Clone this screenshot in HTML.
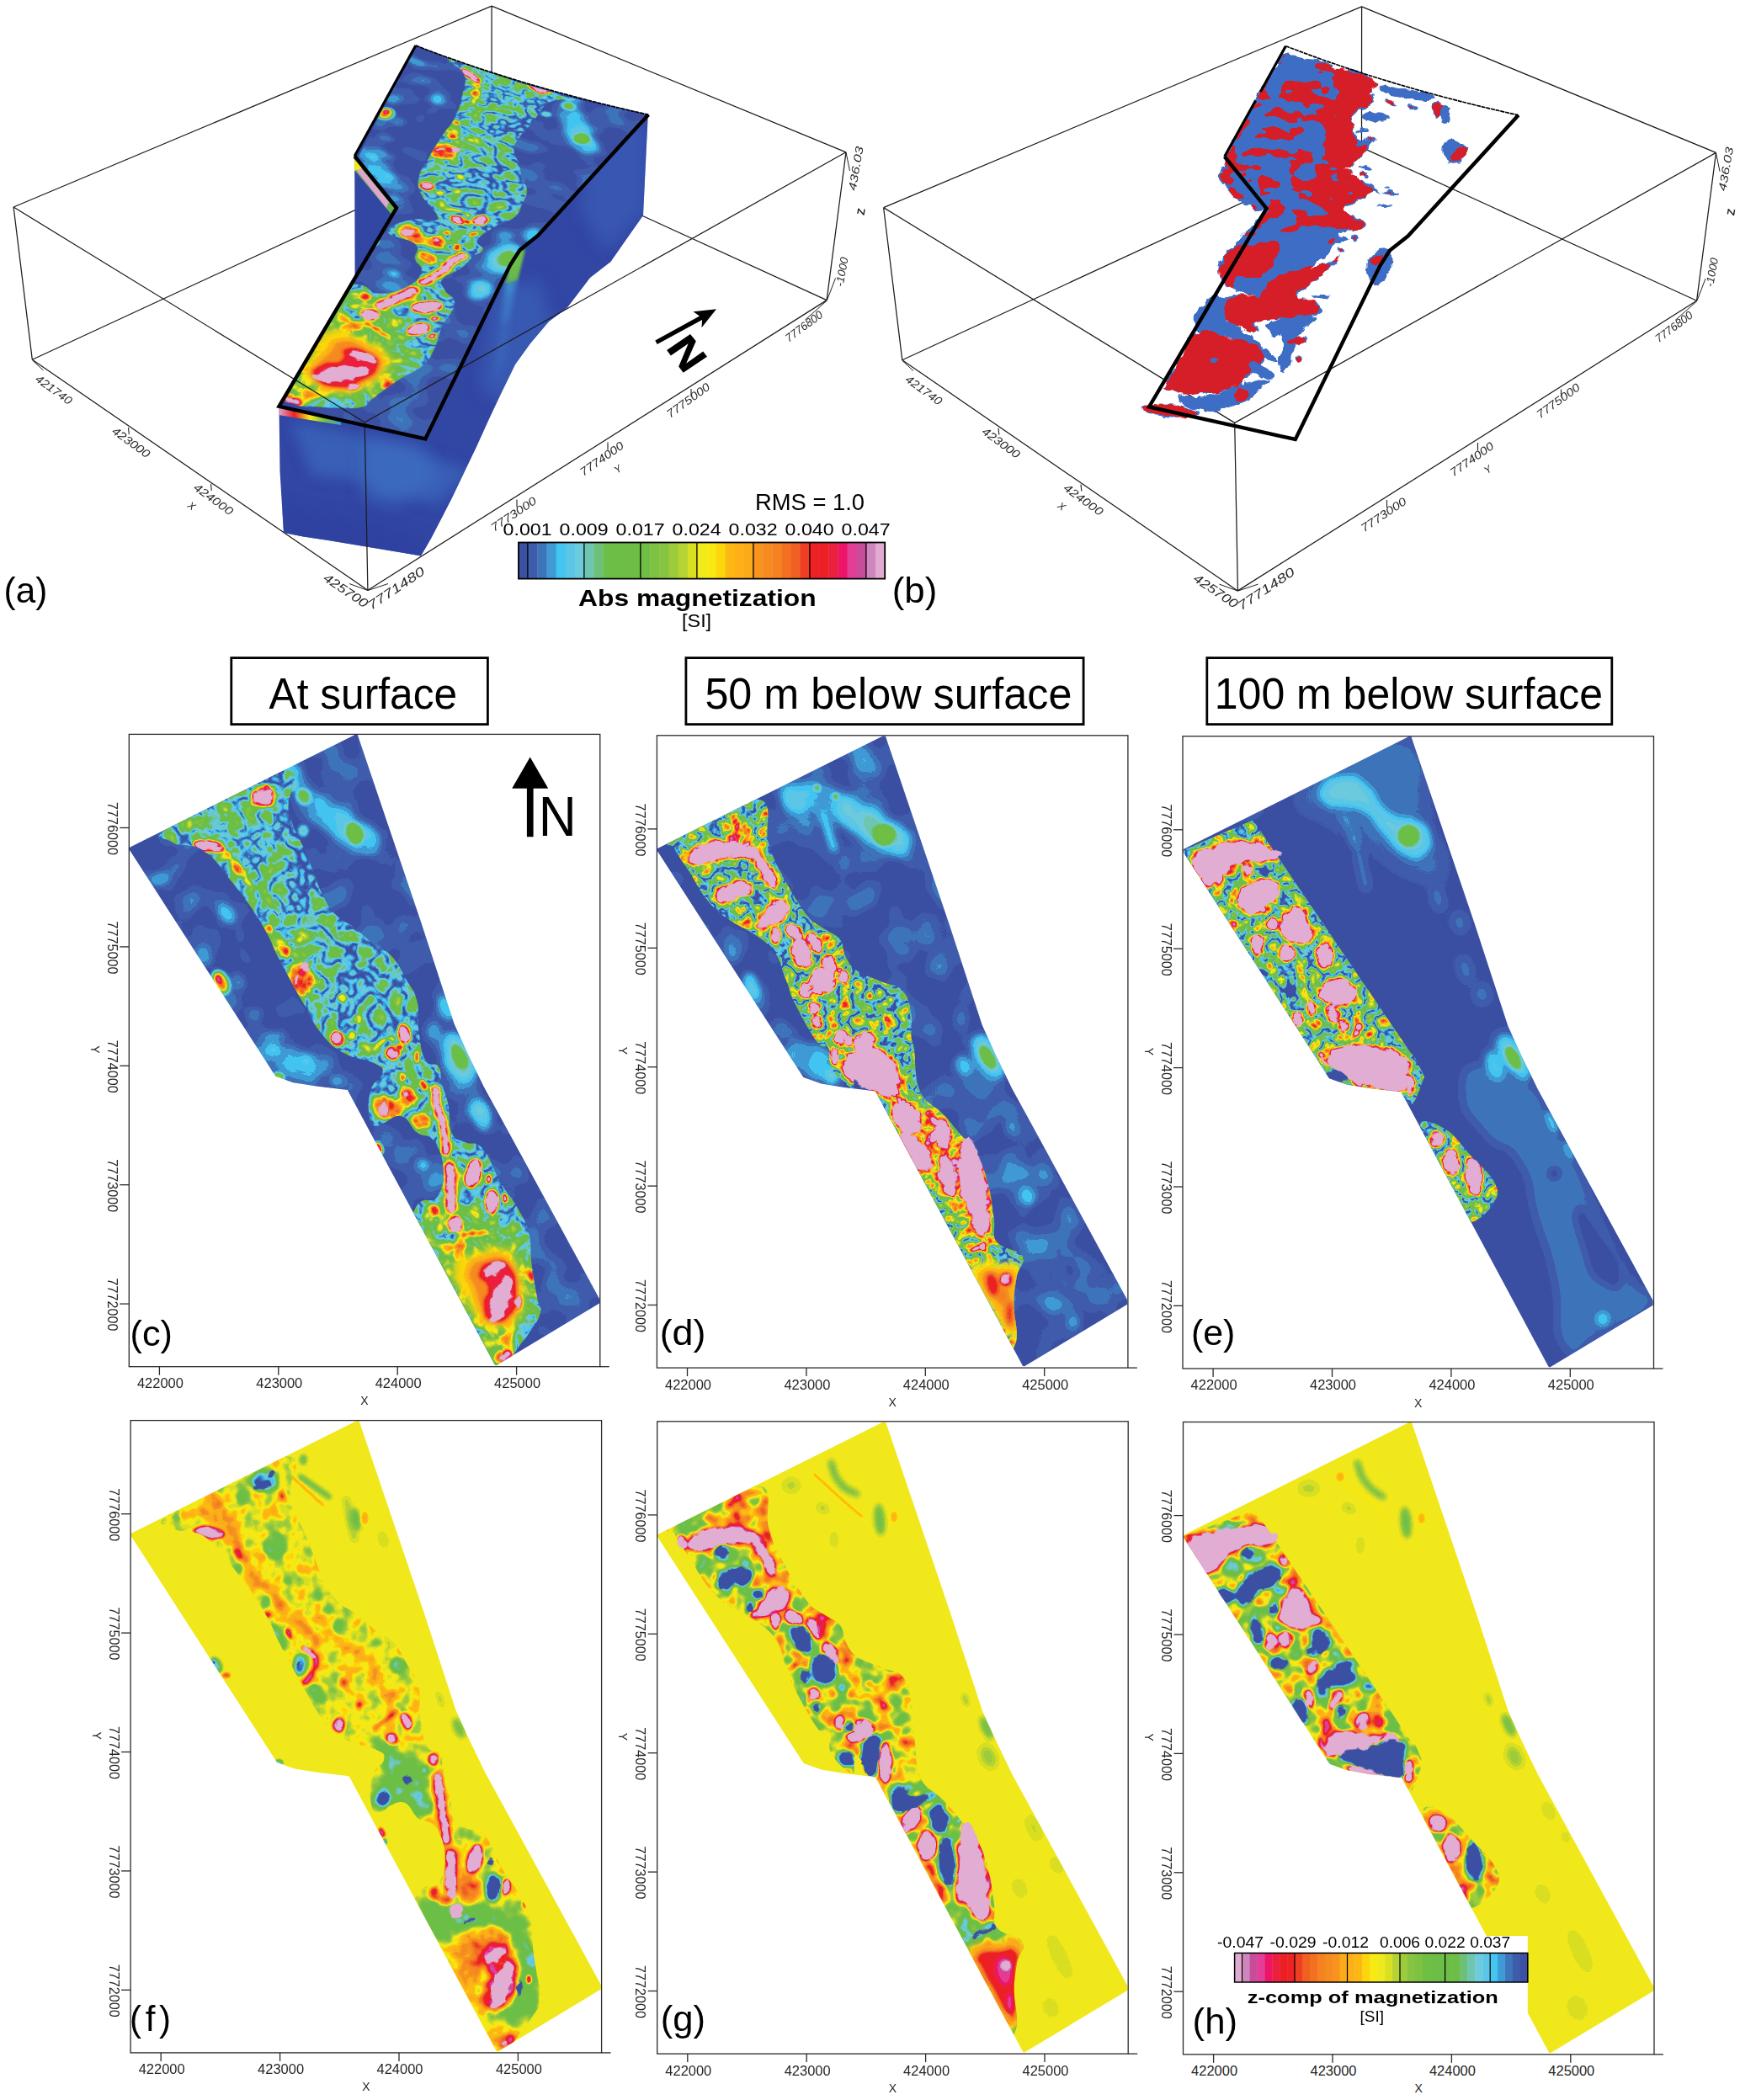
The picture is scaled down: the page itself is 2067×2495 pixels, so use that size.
<!DOCTYPE html><html><head><meta charset="utf-8"><title>fig</title>
<style>html,body{margin:0;padding:0;background:#fff}body{width:2067px;height:2495px;position:relative;overflow:hidden;font-family:"Liberation Sans",sans-serif}
svg{position:absolute;left:0;top:0;overflow:hidden}text{font-family:"Liberation Sans",sans-serif}</style></head><body>
<svg width="2067" height="2495" viewBox="0 0 2067 2495">
<defs>
<filter id="cm" filterUnits="userSpaceOnUse" x="-5" y="-5" width="570" height="762" color-interpolation-filters="sRGB"><feComponentTransfer><feFuncR type="discrete" tableValues="0.2314 0.2471 0.2431 0.2471 0.2588 0.3608 0.4235 0.4314 0.4235 0.4235 0.4235 0.4235 0.4235 0.4392 0.4902 0.5255 0.6118 0.7098 0.8510 0.9412 0.9686 0.9882 0.9922 0.9922 0.9843 0.9686 0.9647 0.9608 0.9529 0.9451 0.9333 0.9294 0.9255 0.9216 0.9255 0.8941 0.7882 0.8118 0.8824"/><feFuncG type="discrete" tableValues="0.3137 0.3569 0.4549 0.6039 0.7725 0.7765 0.7961 0.7765 0.7529 0.7451 0.7451 0.7451 0.7451 0.7490 0.7608 0.7686 0.7961 0.8275 0.8784 0.9137 0.9176 0.8392 0.7216 0.6902 0.6706 0.5765 0.5451 0.5098 0.4392 0.3725 0.2431 0.1333 0.1216 0.1216 0.0824 0.2392 0.2941 0.5255 0.6667"/><feFuncB type="discrete" tableValues="0.6392 0.6706 0.7294 0.8392 0.9373 0.9020 0.8667 0.6902 0.4863 0.2784 0.2784 0.2784 0.2784 0.2706 0.2627 0.2549 0.2353 0.2039 0.1294 0.1098 0.0706 0.0392 0.0745 0.0902 0.0980 0.1176 0.1216 0.1255 0.1294 0.1373 0.1373 0.1412 0.1412 0.2431 0.4118 0.5882 0.6078 0.7412 0.8157"/></feComponentTransfer></filter>
<filter id="cmN1" filterUnits="userSpaceOnUse" x="-5" y="-5" width="570" height="762" color-interpolation-filters="sRGB"><feOffset in="SourceGraphic" dx="0" dy="0" result="F"/><feTurbulence type="turbulence" baseFrequency="0.052" numOctaves="2" seed="3" result="T"/><feColorMatrix in="T" type="matrix" values="1 0 0 0 0 1 0 0 0 0 1 0 0 0 0 0 0 0 0 1" result="N"/><feComposite in="F" in2="N" operator="arithmetic" k1="0" k2="1" k3="0.6" k4="-0.18"/><feComponentTransfer><feFuncR type="discrete" tableValues="0.2314 0.2471 0.2431 0.2471 0.2588 0.3608 0.4235 0.4314 0.4235 0.4235 0.4235 0.4235 0.4235 0.4392 0.4902 0.5255 0.6118 0.7098 0.8510 0.9412 0.9686 0.9882 0.9922 0.9922 0.9843 0.9686 0.9647 0.9608 0.9529 0.9451 0.9333 0.9294 0.9255 0.9216 0.9255 0.8941 0.7882 0.8118 0.8824"/><feFuncG type="discrete" tableValues="0.3137 0.3569 0.4549 0.6039 0.7725 0.7765 0.7961 0.7765 0.7529 0.7451 0.7451 0.7451 0.7451 0.7490 0.7608 0.7686 0.7961 0.8275 0.8784 0.9137 0.9176 0.8392 0.7216 0.6902 0.6706 0.5765 0.5451 0.5098 0.4392 0.3725 0.2431 0.1333 0.1216 0.1216 0.0824 0.2392 0.2941 0.5255 0.6667"/><feFuncB type="discrete" tableValues="0.6392 0.6706 0.7294 0.8392 0.9373 0.9020 0.8667 0.6902 0.4863 0.2784 0.2784 0.2784 0.2784 0.2706 0.2627 0.2549 0.2353 0.2039 0.1294 0.1098 0.0706 0.0392 0.0745 0.0902 0.0980 0.1176 0.1216 0.1255 0.1294 0.1373 0.1373 0.1412 0.1412 0.2431 0.4118 0.5882 0.6078 0.7412 0.8157"/></feComponentTransfer></filter>
<filter id="cmN2" filterUnits="userSpaceOnUse" x="-5" y="-5" width="570" height="762" color-interpolation-filters="sRGB"><feOffset in="SourceGraphic" dx="0" dy="0" result="F"/><feTurbulence type="turbulence" baseFrequency="0.06" numOctaves="2" seed="7" result="T"/><feColorMatrix in="T" type="matrix" values="1 0 0 0 0 1 0 0 0 0 1 0 0 0 0 0 0 0 0 1" result="N"/><feComposite in="F" in2="N" operator="arithmetic" k1="0" k2="1" k3="1.25" k4="-0.3375"/><feComponentTransfer><feFuncR type="discrete" tableValues="0.2314 0.2471 0.2431 0.2471 0.2588 0.3608 0.4235 0.4314 0.4235 0.4235 0.4235 0.4235 0.4235 0.4392 0.4902 0.5255 0.6118 0.7098 0.8510 0.9412 0.9686 0.9882 0.9922 0.9922 0.9843 0.9686 0.9647 0.9608 0.9529 0.9451 0.9333 0.9294 0.9255 0.9216 0.9255 0.8941 0.7882 0.8118 0.8824"/><feFuncG type="discrete" tableValues="0.3137 0.3569 0.4549 0.6039 0.7725 0.7765 0.7961 0.7765 0.7529 0.7451 0.7451 0.7451 0.7451 0.7490 0.7608 0.7686 0.7961 0.8275 0.8784 0.9137 0.9176 0.8392 0.7216 0.6902 0.6706 0.5765 0.5451 0.5098 0.4392 0.3725 0.2431 0.1333 0.1216 0.1216 0.0824 0.2392 0.2941 0.5255 0.6667"/><feFuncB type="discrete" tableValues="0.6392 0.6706 0.7294 0.8392 0.9373 0.9020 0.8667 0.6902 0.4863 0.2784 0.2784 0.2784 0.2784 0.2706 0.2627 0.2549 0.2353 0.2039 0.1294 0.1098 0.0706 0.0392 0.0745 0.0902 0.0980 0.1176 0.1216 0.1255 0.1294 0.1373 0.1373 0.1412 0.1412 0.2431 0.4118 0.5882 0.6078 0.7412 0.8157"/></feComponentTransfer></filter>
<filter id="cmN3" filterUnits="userSpaceOnUse" x="-5" y="-5" width="570" height="762" color-interpolation-filters="sRGB"><feOffset in="SourceGraphic" dx="0" dy="0" result="F"/><feTurbulence type="fractalNoise" baseFrequency="0.05" numOctaves="2" seed="11" result="T"/><feColorMatrix in="T" type="matrix" values="1 0 0 0 0 1 0 0 0 0 1 0 0 0 0 0 0 0 0 1" result="N"/><feComposite in="F" in2="N" operator="arithmetic" k1="0" k2="1" k3="0.9" k4="-0.45"/><feComponentTransfer><feFuncR type="discrete" tableValues="0.2314 0.2471 0.2431 0.2471 0.2588 0.3608 0.4235 0.4314 0.4235 0.4235 0.4235 0.4235 0.4235 0.4392 0.4902 0.5255 0.6118 0.7098 0.8510 0.9412 0.9686 0.9882 0.9922 0.9922 0.9843 0.9686 0.9647 0.9608 0.9529 0.9451 0.9333 0.9294 0.9255 0.9216 0.9255 0.8941 0.7882 0.8118 0.8824"/><feFuncG type="discrete" tableValues="0.3137 0.3569 0.4549 0.6039 0.7725 0.7765 0.7961 0.7765 0.7529 0.7451 0.7451 0.7451 0.7451 0.7490 0.7608 0.7686 0.7961 0.8275 0.8784 0.9137 0.9176 0.8392 0.7216 0.6902 0.6706 0.5765 0.5451 0.5098 0.4392 0.3725 0.2431 0.1333 0.1216 0.1216 0.0824 0.2392 0.2941 0.5255 0.6667"/><feFuncB type="discrete" tableValues="0.6392 0.6706 0.7294 0.8392 0.9373 0.9020 0.8667 0.6902 0.4863 0.2784 0.2784 0.2784 0.2784 0.2706 0.2627 0.2549 0.2353 0.2039 0.1294 0.1098 0.0706 0.0392 0.0745 0.0902 0.0980 0.1176 0.1216 0.1255 0.1294 0.1373 0.1373 0.1412 0.1412 0.2431 0.4118 0.5882 0.6078 0.7412 0.8157"/></feComponentTransfer></filter>
<filter id="cmN4" filterUnits="userSpaceOnUse" x="-5" y="-5" width="570" height="762" color-interpolation-filters="sRGB"><feOffset in="SourceGraphic" dx="0" dy="0" result="F"/><feTurbulence type="fractalNoise" baseFrequency="0.06" numOctaves="2" seed="13" result="T"/><feColorMatrix in="T" type="matrix" values="1 0 0 0 0 1 0 0 0 0 1 0 0 0 0 0 0 0 0 1" result="N"/><feComposite in="F" in2="N" operator="arithmetic" k1="0" k2="1" k3="0.4" k4="-0.2"/><feComponentTransfer><feFuncR type="discrete" tableValues="0.2314 0.2471 0.2431 0.2471 0.2588 0.3608 0.4235 0.4314 0.4235 0.4235 0.4235 0.4235 0.4235 0.4392 0.4902 0.5255 0.6118 0.7098 0.8510 0.9412 0.9686 0.9882 0.9922 0.9922 0.9843 0.9686 0.9647 0.9608 0.9529 0.9451 0.9333 0.9294 0.9255 0.9216 0.9255 0.8941 0.7882 0.8118 0.8824"/><feFuncG type="discrete" tableValues="0.3137 0.3569 0.4549 0.6039 0.7725 0.7765 0.7961 0.7765 0.7529 0.7451 0.7451 0.7451 0.7451 0.7490 0.7608 0.7686 0.7961 0.8275 0.8784 0.9137 0.9176 0.8392 0.7216 0.6902 0.6706 0.5765 0.5451 0.5098 0.4392 0.3725 0.2431 0.1333 0.1216 0.1216 0.0824 0.2392 0.2941 0.5255 0.6667"/><feFuncB type="discrete" tableValues="0.6392 0.6706 0.7294 0.8392 0.9373 0.9020 0.8667 0.6902 0.4863 0.2784 0.2784 0.2784 0.2784 0.2706 0.2627 0.2549 0.2353 0.2039 0.1294 0.1098 0.0706 0.0392 0.0745 0.0902 0.0980 0.1176 0.1216 0.1255 0.1294 0.1373 0.1373 0.1412 0.1412 0.2431 0.4118 0.5882 0.6078 0.7412 0.8157"/></feComponentTransfer></filter>
<filter id="cmS" filterUnits="userSpaceOnUse" x="-5" y="-5" width="570" height="762" color-interpolation-filters="sRGB"><feOffset in="SourceGraphic" dx="0" dy="0" result="F"/><feTurbulence type="fractalNoise" baseFrequency="0.022" numOctaves="2" seed="5" result="T"/><feColorMatrix in="T" type="matrix" values="1 0 0 0 0 1 0 0 0 0 1 0 0 0 0 0 0 0 0 1" result="N"/><feComposite in="F" in2="N" operator="arithmetic" k1="0" k2="1" k3="0.17" k4="-0.085"/><feComponentTransfer><feFuncR type="discrete" tableValues="0.2314 0.2471 0.2431 0.2471 0.2588 0.3608 0.4235 0.4314 0.4235 0.4235 0.4235 0.4235 0.4235 0.4392 0.4902 0.5255 0.6118 0.7098 0.8510 0.9412 0.9686 0.9882 0.9922 0.9922 0.9843 0.9686 0.9647 0.9608 0.9529 0.9451 0.9333 0.9294 0.9255 0.9216 0.9255 0.8941 0.7882 0.8118 0.8824"/><feFuncG type="discrete" tableValues="0.3137 0.3569 0.4549 0.6039 0.7725 0.7765 0.7961 0.7765 0.7529 0.7451 0.7451 0.7451 0.7451 0.7490 0.7608 0.7686 0.7961 0.8275 0.8784 0.9137 0.9176 0.8392 0.7216 0.6902 0.6706 0.5765 0.5451 0.5098 0.4392 0.3725 0.2431 0.1333 0.1216 0.1216 0.0824 0.2392 0.2941 0.5255 0.6667"/><feFuncB type="discrete" tableValues="0.6392 0.6706 0.7294 0.8392 0.9373 0.9020 0.8667 0.6902 0.4863 0.2784 0.2784 0.2784 0.2784 0.2706 0.2627 0.2549 0.2353 0.2039 0.1294 0.1098 0.0706 0.0392 0.0745 0.0902 0.0980 0.1176 0.1216 0.1255 0.1294 0.1373 0.1373 0.1412 0.1412 0.2431 0.4118 0.5882 0.6078 0.7412 0.8157"/></feComponentTransfer></filter>
<filter id="b1" filterUnits="userSpaceOnUse" x="-60" y="-60" width="690" height="880" color-interpolation-filters="sRGB"><feGaussianBlur stdDeviation="1"/></filter>
<filter id="B1" x="-50%" y="-50%" width="200%" height="200%" color-interpolation-filters="sRGB"><feGaussianBlur stdDeviation="1"/></filter>
<filter id="b1_5" filterUnits="userSpaceOnUse" x="-60" y="-60" width="690" height="880" color-interpolation-filters="sRGB"><feGaussianBlur stdDeviation="1.5"/></filter>
<filter id="B1_5" x="-50%" y="-50%" width="200%" height="200%" color-interpolation-filters="sRGB"><feGaussianBlur stdDeviation="1.5"/></filter>
<filter id="b2" filterUnits="userSpaceOnUse" x="-60" y="-60" width="690" height="880" color-interpolation-filters="sRGB"><feGaussianBlur stdDeviation="2"/></filter>
<filter id="B2" x="-50%" y="-50%" width="200%" height="200%" color-interpolation-filters="sRGB"><feGaussianBlur stdDeviation="2"/></filter>
<filter id="b2_5" filterUnits="userSpaceOnUse" x="-60" y="-60" width="690" height="880" color-interpolation-filters="sRGB"><feGaussianBlur stdDeviation="2.5"/></filter>
<filter id="B2_5" x="-50%" y="-50%" width="200%" height="200%" color-interpolation-filters="sRGB"><feGaussianBlur stdDeviation="2.5"/></filter>
<filter id="b3" filterUnits="userSpaceOnUse" x="-60" y="-60" width="690" height="880" color-interpolation-filters="sRGB"><feGaussianBlur stdDeviation="3"/></filter>
<filter id="B3" x="-50%" y="-50%" width="200%" height="200%" color-interpolation-filters="sRGB"><feGaussianBlur stdDeviation="3"/></filter>
<filter id="b3_5" filterUnits="userSpaceOnUse" x="-60" y="-60" width="690" height="880" color-interpolation-filters="sRGB"><feGaussianBlur stdDeviation="3.5"/></filter>
<filter id="B3_5" x="-50%" y="-50%" width="200%" height="200%" color-interpolation-filters="sRGB"><feGaussianBlur stdDeviation="3.5"/></filter>
<filter id="b4" filterUnits="userSpaceOnUse" x="-60" y="-60" width="690" height="880" color-interpolation-filters="sRGB"><feGaussianBlur stdDeviation="4"/></filter>
<filter id="B4" x="-50%" y="-50%" width="200%" height="200%" color-interpolation-filters="sRGB"><feGaussianBlur stdDeviation="4"/></filter>
<filter id="b5" filterUnits="userSpaceOnUse" x="-60" y="-60" width="690" height="880" color-interpolation-filters="sRGB"><feGaussianBlur stdDeviation="5"/></filter>
<filter id="B5" x="-50%" y="-50%" width="200%" height="200%" color-interpolation-filters="sRGB"><feGaussianBlur stdDeviation="5"/></filter>
<filter id="b6" filterUnits="userSpaceOnUse" x="-60" y="-60" width="690" height="880" color-interpolation-filters="sRGB"><feGaussianBlur stdDeviation="6"/></filter>
<filter id="B6" x="-50%" y="-50%" width="200%" height="200%" color-interpolation-filters="sRGB"><feGaussianBlur stdDeviation="6"/></filter>
<filter id="b7" filterUnits="userSpaceOnUse" x="-60" y="-60" width="690" height="880" color-interpolation-filters="sRGB"><feGaussianBlur stdDeviation="7"/></filter>
<filter id="B7" x="-50%" y="-50%" width="200%" height="200%" color-interpolation-filters="sRGB"><feGaussianBlur stdDeviation="7"/></filter>
<filter id="b8" filterUnits="userSpaceOnUse" x="-60" y="-60" width="690" height="880" color-interpolation-filters="sRGB"><feGaussianBlur stdDeviation="8"/></filter>
<filter id="B8" x="-50%" y="-50%" width="200%" height="200%" color-interpolation-filters="sRGB"><feGaussianBlur stdDeviation="8"/></filter>
<filter id="b9" filterUnits="userSpaceOnUse" x="-60" y="-60" width="690" height="880" color-interpolation-filters="sRGB"><feGaussianBlur stdDeviation="9"/></filter>
<filter id="B9" x="-50%" y="-50%" width="200%" height="200%" color-interpolation-filters="sRGB"><feGaussianBlur stdDeviation="9"/></filter>
<filter id="b10" filterUnits="userSpaceOnUse" x="-60" y="-60" width="690" height="880" color-interpolation-filters="sRGB"><feGaussianBlur stdDeviation="10"/></filter>
<filter id="B10" x="-50%" y="-50%" width="200%" height="200%" color-interpolation-filters="sRGB"><feGaussianBlur stdDeviation="10"/></filter>
<filter id="b12" filterUnits="userSpaceOnUse" x="-60" y="-60" width="690" height="880" color-interpolation-filters="sRGB"><feGaussianBlur stdDeviation="12"/></filter>
<filter id="B12" x="-50%" y="-50%" width="200%" height="200%" color-interpolation-filters="sRGB"><feGaussianBlur stdDeviation="12"/></filter>
<filter id="b16" filterUnits="userSpaceOnUse" x="-60" y="-60" width="690" height="880" color-interpolation-filters="sRGB"><feGaussianBlur stdDeviation="16"/></filter>
<filter id="B16" x="-50%" y="-50%" width="200%" height="200%" color-interpolation-filters="sRGB"><feGaussianBlur stdDeviation="16"/></filter>
<filter id="b20" filterUnits="userSpaceOnUse" x="-60" y="-60" width="690" height="880" color-interpolation-filters="sRGB"><feGaussianBlur stdDeviation="20"/></filter>
<filter id="B20" x="-50%" y="-50%" width="200%" height="200%" color-interpolation-filters="sRGB"><feGaussianBlur stdDeviation="20"/></filter>
<filter id="rough" filterUnits="userSpaceOnUse" x="-5" y="-5" width="570" height="762" color-interpolation-filters="sRGB"><feTurbulence type="fractalNoise" baseFrequency="0.09" numOctaves="2" seed="4" result="T"/><feDisplacementMap in="SourceGraphic" in2="T" scale="9" xChannelSelector="R" yChannelSelector="G"/></filter>
<clipPath id="cpPoly"><polygon points="268.3,0.6 271.5,0.6 347.6,225.4 386.4,344.3 401.7,377.8 421.5,418.9 447.4,466.2 558.7,670.5 558.7,676.0 436.2,749.8 434.5,749.0 259.5,422.6 222.2,418.2 195.0,413.8 174.0,406.3 0.3,137.0 0.3,134.5"/></clipPath>
<g id="mapc" clip-path="url(#cpPoly)">
<g filter="url(#cmS)"><rect x="-5" y="-5" width="570" height="762" fill="#050505"/>
<path d="M190.2 50.3 C196.9 59.3 192.4 59.3 210.5 77.4 C228.6 95.5 220.7 87.6 244.4 104.5 C268.1 121.5 269.3 120.3 281.7 128.2" fill="none" stroke="#292929" stroke-width="30" stroke-linecap="round" stroke-linejoin="round" filter="url(#b5)"/>
<path d="M190.2 50.3 C196.9 59.3 192.4 59.3 210.5 77.4 C228.6 95.5 220.7 87.6 244.4 104.5 C268.1 121.5 269.3 120.3 281.7 128.2" fill="none" stroke="#141414" stroke-width="48" stroke-linecap="round" stroke-linejoin="round" filter="url(#b10)" opacity="0.6"/>
<ellipse cx="207.1" cy="74.0" rx="8.0" ry="10.0" transform="rotate(-30 207.1 74.0)" fill="#4b4b4b" filter="url(#b2)"/>
<ellipse cx="268.1" cy="118.1" rx="9.0" ry="13.0" transform="rotate(-20 268.1 118.1)" fill="#4e4e4e" filter="url(#b2)"/>
<ellipse cx="207.1" cy="114.7" rx="6.0" ry="7.0" transform="rotate(0 207.1 114.7)" fill="#313131" filter="url(#b2)"/>
<ellipse cx="193.5" cy="60.4" rx="7.0" ry="7.0" transform="rotate(0 193.5 60.4)" fill="#383838" filter="url(#b2)"/>
<ellipse cx="37.6" cy="172.3" rx="12.0" ry="9.0" transform="rotate(-30 37.6 172.3)" fill="#1d1d1d" filter="url(#b5)"/>
<ellipse cx="115.6" cy="213.0" rx="9.0" ry="14.0" transform="rotate(-30 115.6 213.0)" fill="#212121" filter="url(#b5)"/>
<ellipse cx="88.4" cy="263.9" rx="10.0" ry="16.0" transform="rotate(-30 88.4 263.9)" fill="#141414" filter="url(#b5)"/>
<ellipse cx="149.5" cy="331.7" rx="12.0" ry="10.0" transform="rotate(-30 149.5 331.7)" fill="#1a1a1a" filter="url(#b5)"/>
<ellipse cx="176.6" cy="358.8" rx="14.0" ry="8.0" transform="rotate(-30 176.6 358.8)" fill="#1a1a1a" filter="url(#b5)"/>
<ellipse cx="64.7" cy="202.8" rx="18.0" ry="12.0" transform="rotate(-30 64.7 202.8)" fill="#141414" filter="url(#b5)"/>
<ellipse cx="129.1" cy="291.0" rx="10.0" ry="12.0" transform="rotate(-30 129.1 291.0)" fill="#171717" filter="url(#b5)"/>
<ellipse cx="108.8" cy="294.4" rx="7.0" ry="13.0" transform="rotate(-25 108.8 294.4)" fill="#c7c7c7" filter="url(#b3)"/>
<ellipse cx="106.1" cy="291.0" rx="3.0" ry="5.0" transform="rotate(-25 106.1 291.0)" fill="#f5f5f5" filter="url(#b1_5)"/>
<path d="M146.7 371.4 C153.2 362.9 159.7 365.5 185.8 369.4 C211.8 373.3 200.8 373.3 224.9 383.1 C249.0 392.9 247.7 388.3 258.1 398.7 C268.5 409.2 277.0 409.8 256.1 414.4 C235.3 418.9 225.5 418.9 195.5 412.4 C165.6 405.9 182.5 408.5 166.2 394.8 C150.0 381.2 140.2 379.9 146.7 371.4Z" fill="#111111" filter="url(#b8)"/>
<ellipse cx="211.2" cy="387.0" rx="8.0" ry="6.0" transform="rotate(0 211.2 387.0)" fill="#212121" filter="url(#b4)"/>
<ellipse cx="172.1" cy="375.3" rx="8.0" ry="6.0" transform="rotate(0 172.1 375.3)" fill="#212121" filter="url(#b4)"/>
<ellipse cx="244.4" cy="412.4" rx="8.0" ry="6.0" transform="rotate(0 244.4 412.4)" fill="#212121" filter="url(#b4)"/>
<ellipse cx="178.0" cy="406.6" rx="6.0" ry="3.0" transform="rotate(20 178.0 406.6)" fill="#868686" filter="url(#b2)"/>
<path d="M278.3 484.5 C282.8 470.9 291.9 466.4 319.0 474.3 C346.1 482.2 343.9 483.4 359.7 508.2 C375.5 533.1 373.3 535.4 366.5 548.9 C359.7 562.5 359.7 560.2 339.4 548.9 C319.0 537.6 325.8 536.5 305.4 515.0 C285.1 493.5 273.8 498.1 278.3 484.5Z" fill="#0f0f0f" filter="url(#b8)"/>
<ellipse cx="349.5" cy="511.6" rx="6.0" ry="6.0" transform="rotate(0 349.5 511.6)" fill="#212121" filter="url(#b3)"/>
<ellipse cx="297.0" cy="491.3" rx="3.0" ry="7.0" transform="rotate(-25 297.0 491.3)" fill="#f5f5f5" filter="url(#b1_5)"/>
<path d="M348.0 342.1 C347.3 325.1 352.5 330.4 365.5 336.2 C378.6 342.1 373.4 340.1 387.0 359.7 C400.7 379.2 395.5 372.7 406.6 394.8 C417.7 417.0 414.4 400.1 420.3 426.1 C426.1 452.2 428.1 458.7 424.2 473.0 C420.3 487.3 419.0 484.7 408.5 469.1 C398.1 453.5 406.6 453.5 392.9 426.1 C379.2 398.7 382.5 415.0 367.5 387.0 C352.5 359.0 348.6 359.0 348.0 342.1Z" fill="#121212" filter="url(#b8)"/>
<ellipse cx="361.6" cy="351.9" rx="8.0" ry="8.0" transform="rotate(0 361.6 351.9)" fill="#212121" filter="url(#b4)"/>
<ellipse cx="377.3" cy="326.5" rx="10.0" ry="16.0" transform="rotate(-25 377.3 326.5)" fill="#242424" filter="url(#b5)"/>
<ellipse cx="418.3" cy="449.6" rx="8.0" ry="16.0" transform="rotate(-25 418.3 449.6)" fill="#212121" filter="url(#b5)"/>
<ellipse cx="417.3" cy="457.4" rx="8.0" ry="18.0" transform="rotate(-20 417.3 457.4)" fill="#242424" filter="url(#b5)"/>
<ellipse cx="392.5" cy="383.0" rx="16.0" ry="32.0" transform="rotate(-27 392.5 383.0)" fill="#272727" filter="url(#b6)"/>
<ellipse cx="392.5" cy="383.0" rx="7.0" ry="15.0" transform="rotate(-27 392.5 383.0)" fill="#4b4b4b" filter="url(#b2)"/>
<path d="M444.5 542.1 C452.4 539.9 454.6 546.7 478.4 582.8 C502.1 619.0 494.2 619.0 515.7 650.6 C537.1 682.3 542.8 663.1 542.8 677.8 C542.8 692.5 534.9 706.0 515.7 694.7 C496.5 683.4 505.5 678.9 485.2 643.9 C464.8 608.8 468.2 623.5 454.6 589.6 C441.1 555.7 436.6 544.4 444.5 542.1Z" fill="#0f0f0f" filter="url(#b8)"/>
<ellipse cx="329.2" cy="226.6" rx="14.0" ry="10.0" transform="rotate(0 329.2 226.6)" fill="#121212" filter="url(#b6)"/>
<ellipse cx="305.4" cy="182.5" rx="18.0" ry="8.0" transform="rotate(-20 305.4 182.5)" fill="#0f0f0f" filter="url(#b6)"/>
<ellipse cx="278.3" cy="46.9" rx="20.0" ry="14.0" transform="rotate(0 278.3 46.9)" fill="#101010" filter="url(#b8)"/>
</g>
<clipPath id="bandc"><path d="M51.1 108.0 C81.6 88.1 149.3 46.2 181.7 43.0 C214.1 39.8 183.4 71.3 190.2 94.3 C196.9 117.4 201.0 118.9 210.5 141.8 C220.0 164.7 222.1 175.3 230.8 192.7 C239.5 210.1 239.1 207.7 247.8 216.4 C256.5 225.1 257.9 222.1 268.1 230.0 C278.4 237.9 281.6 242.4 291.9 250.3 C302.2 258.2 303.5 254.4 312.2 263.9 C320.9 273.4 322.2 278.7 329.2 291.0 C336.1 303.3 338.6 302.5 342.1 316.7 C345.6 330.9 341.8 335.4 344.1 351.9 C346.3 368.3 346.4 377.0 351.9 387.0 C357.3 397.1 362.9 388.5 367.5 394.8 C372.1 401.2 368.7 403.9 371.4 414.4 C374.1 424.9 376.5 426.1 379.2 439.8 C382.0 453.5 378.6 462.5 383.1 473.0 C387.7 483.5 390.1 480.2 398.8 484.7 C407.4 489.3 410.4 481.5 420.3 492.5 C430.1 503.6 431.5 515.6 441.1 532.0 C450.7 548.3 453.5 548.2 461.4 562.5 C469.3 576.7 471.0 577.2 475.0 593.0 C478.9 608.8 476.0 612.1 478.4 630.3 C480.7 648.5 482.8 657.5 485.2 671.0 C487.5 684.4 490.9 678.5 488.5 687.9 C486.2 697.4 480.5 703.0 475.0 711.7 C469.4 720.4 473.0 714.9 464.8 725.2 C456.6 735.6 450.5 748.8 440.0 756.0 C429.5 763.2 445.7 795.9 420.0 756.0 C394.3 716.1 349.8 627.2 330.0 585.0 C310.2 542.8 331.2 581.8 335.0 575.0 C338.8 568.2 338.8 561.8 346.1 555.7 C353.5 549.6 360.1 558.4 366.5 548.9 C372.8 539.4 374.4 530.4 373.3 515.0 C372.1 499.6 368.9 492.6 361.6 482.8 C354.4 473.0 351.2 479.8 342.1 473.0 C333.0 466.2 333.5 455.3 322.6 453.5 C311.6 451.6 303.9 465.2 295.2 465.2 C286.5 465.2 287.3 463.5 285.4 453.5 C283.6 443.4 283.7 434.1 287.4 422.2 C291.0 410.3 300.2 410.0 301.1 402.7 C302.0 395.4 301.8 396.4 291.3 390.9 C280.8 385.5 270.7 387.4 256.1 379.2 C241.5 371.0 240.6 370.3 228.8 355.8 C216.9 341.2 215.8 334.9 205.3 316.7 C194.8 298.4 190.5 289.9 183.8 277.6 C177.1 265.3 183.0 276.6 176.6 263.9 C170.2 251.2 168.9 243.8 156.2 223.2 C143.6 202.6 138.2 195.5 122.3 175.7 C106.5 155.9 105.0 149.5 88.4 138.4 C71.8 127.3 59.8 135.3 51.1 128.2 C42.4 121.1 20.6 127.9 51.1 108.0Z"/></clipPath>
<g clip-path="url(#bandc)"><g filter="url(#cmN1)"><rect x="-5" y="-5" width="570" height="762" fill="#2c2c2c"/>
<path d="M346.1 576.0 C355.2 558.0 356.3 562.5 386.8 562.5 C417.3 562.5 408.3 560.2 437.7 576.0 C467.1 591.9 460.3 576.0 475.0 610.0 C489.7 643.9 486.3 639.3 481.8 677.8 C477.2 716.2 476.1 702.6 461.4 725.2 C446.7 747.8 460.3 761.4 437.7 745.6 C415.1 729.8 419.6 720.7 393.6 677.8 C367.6 634.8 375.5 650.6 359.7 616.7 C343.9 582.8 337.1 594.1 346.1 576.0Z" fill="#585858" filter="url(#b10)"/>
<path d="M64.7 107.9 C78.3 92.1 91.8 90.9 129.1 80.8 C166.4 70.6 156.2 59.3 176.6 77.4 C196.9 95.5 190.2 109.0 190.2 135.0 C190.2 161.0 196.9 157.6 176.6 155.4 C156.2 153.1 158.5 137.3 129.1 128.2 C99.7 119.2 109.9 135.0 88.4 128.2 C67.0 121.5 51.1 123.7 64.7 107.9Z" fill="#343434" filter="url(#b8)"/>
<path d="M81.7 107.9 C95.2 120.3 97.5 116.9 122.3 145.2 C147.2 173.5 133.6 162.1 156.2 192.7 C178.9 223.2 167.6 207.4 190.2 236.7 C212.8 266.1 212.8 266.1 224.1 280.8" fill="none" stroke="#414141" stroke-width="22" stroke-linecap="round" stroke-linejoin="round" filter="url(#b7)"/>
<ellipse cx="105.4" cy="97.7" rx="25.0" ry="10.0" transform="rotate(-25 105.4 97.7)" fill="#525252" filter="url(#b3)"/>
<ellipse cx="173.2" cy="148.6" rx="10.0" ry="10.0" transform="rotate(0 173.2 148.6)" fill="#585858" filter="url(#b3)"/>
<ellipse cx="207.1" cy="240.1" rx="10.0" ry="14.0" transform="rotate(-20 207.1 240.1)" fill="#585858" filter="url(#b3)"/>
<ellipse cx="224.9" cy="320.6" rx="9.0" ry="14.0" transform="rotate(-40 224.9 320.6)" fill="#525252" filter="url(#b3)"/>
<ellipse cx="283.5" cy="375.3" rx="14.0" ry="10.0" transform="rotate(0 283.5 375.3)" fill="#525252" filter="url(#b3)"/>
<path d="M244.4 250.3 C260.2 241.3 264.8 248.0 291.9 263.9 C319.0 279.7 310.0 268.4 325.8 297.8 C341.6 327.2 343.9 329.4 339.4 352.0 C334.8 374.6 332.6 374.6 312.2 365.6 C291.9 356.6 300.9 349.8 278.3 324.9 C255.7 300.0 255.7 315.9 244.4 291.0 C233.1 266.1 228.6 259.4 244.4 250.3Z" fill="#272727" filter="url(#b8)"/>
<path d="M190.2 94.3 C192.4 67.2 199.2 64.9 210.5 94.3 C221.8 123.7 226.3 155.4 224.1 182.5 C221.8 209.6 215.0 205.1 203.7 175.7 C192.4 146.3 187.9 121.5 190.2 94.3Z" fill="#242424" filter="url(#b6)"/>
<ellipse cx="159.6" cy="74.0" rx="15.0" ry="12.0" transform="rotate(-10 159.6 74.0)" fill="#f5f5f5" filter="url(#b2)"/>
<ellipse cx="163.0" cy="65.5" rx="4.0" ry="6.0" transform="rotate(0 163.0 65.5)" fill="#dbdbdb" filter="url(#b1_5)"/>
<ellipse cx="95.2" cy="133.3" rx="19.0" ry="7.5" transform="rotate(8 95.2 133.3)" fill="#fcfcfc" filter="url(#b1_5)"/>
<ellipse cx="129.1" cy="158.8" rx="4.0" ry="7.0" transform="rotate(-30 129.1 158.8)" fill="#dbdbdb" filter="url(#b2)"/>
<path d="M115.6 141.8 C121.2 148.6 122.3 148.6 132.5 162.1 C142.7 175.7 141.6 175.7 146.1 182.5" fill="none" stroke="#9a9a9a" stroke-width="6" stroke-linecap="round" stroke-linejoin="round" filter="url(#b2)"/>
<ellipse cx="203.7" cy="291.0" rx="15.0" ry="20.0" transform="rotate(-10 203.7 291.0)" fill="#cecece" filter="url(#b3)"/>
<ellipse cx="200.3" cy="292.7" rx="6.0" ry="10.0" transform="rotate(-10 200.3 292.7)" fill="#dbdbdb" filter="url(#b2)"/>
<ellipse cx="183.4" cy="253.7" rx="6.0" ry="12.0" transform="rotate(-25 183.4 253.7)" fill="#a0a0a0" filter="url(#b2)"/>
<ellipse cx="166.4" cy="230.0" rx="5.0" ry="5.0" transform="rotate(0 166.4 230.0)" fill="#b4b4b4" filter="url(#b2)"/>
<ellipse cx="171.5" cy="250.3" rx="4.0" ry="8.0" transform="rotate(-20 171.5 250.3)" fill="#939393" filter="url(#b2)"/>
<ellipse cx="247.8" cy="362.2" rx="7.5" ry="8.5" transform="rotate(0 247.8 362.2)" fill="#fcfcfc" filter="url(#b1_5)"/>
<ellipse cx="325.8" cy="358.8" rx="6.5" ry="10.5" transform="rotate(-20 325.8 358.8)" fill="#f5f5f5" filter="url(#b1_5)"/>
<ellipse cx="313.9" cy="379.2" rx="8.5" ry="7.5" transform="rotate(0 313.9 379.2)" fill="#f5f5f5" filter="url(#b1_5)"/>
<ellipse cx="254.6" cy="313.0" rx="5.0" ry="4.0" transform="rotate(0 254.6 313.0)" fill="#8d8d8d" filter="url(#b1_5)"/>
<ellipse cx="271.5" cy="338.5" rx="4.0" ry="5.0" transform="rotate(0 271.5 338.5)" fill="#939393" filter="url(#b1_5)"/>
<ellipse cx="264.8" cy="358.8" rx="4.0" ry="4.0" transform="rotate(0 264.8 358.8)" fill="#8d8d8d" filter="url(#b1_5)"/>
<ellipse cx="247.3" cy="361.6" rx="7.5" ry="8.5" transform="rotate(0 247.3 361.6)" fill="#fcfcfc" filter="url(#b1_5)"/>
<ellipse cx="253.2" cy="312.8" rx="5.0" ry="4.0" transform="rotate(0 253.2 312.8)" fill="#8d8d8d" filter="url(#b1_5)"/>
<ellipse cx="271.8" cy="338.2" rx="4.0" ry="5.0" transform="rotate(0 271.8 338.2)" fill="#939393" filter="url(#b1_5)"/>
<ellipse cx="265.9" cy="357.7" rx="4.0" ry="4.0" transform="rotate(0 265.9 357.7)" fill="#8d8d8d" filter="url(#b1_5)"/>
<ellipse cx="327.4" cy="354.8" rx="6.5" ry="11.5" transform="rotate(-20 327.4 354.8)" fill="#fcfcfc" filter="url(#b1_5)"/>
<ellipse cx="311.8" cy="378.2" rx="7.5" ry="7.5" transform="rotate(0 311.8 378.2)" fill="#fcfcfc" filter="url(#b1_5)"/>
<ellipse cx="320.6" cy="371.4" rx="5.0" ry="4.0" transform="rotate(0 320.6 371.4)" fill="#cecece" filter="url(#b1_5)"/>
<ellipse cx="342.1" cy="384.1" rx="3.0" ry="7.0" transform="rotate(0 342.1 384.1)" fill="#cecece" filter="url(#b1_5)"/>
<ellipse cx="325.5" cy="406.6" rx="4.0" ry="5.0" transform="rotate(0 325.5 406.6)" fill="#b4b4b4" filter="url(#b1_5)"/>
<path d="M295.2 369.4 C299.1 366.8 300.4 363.6 306.9 361.6 C313.4 359.7 312.1 362.9 314.7 363.6" fill="none" stroke="#939393" stroke-width="4" stroke-linecap="round" stroke-linejoin="round" filter="url(#b1_5)"/>
<path d="M289.3 435.9 C293.2 429.4 293.2 430.7 303.0 430.0 C312.8 429.4 310.8 437.8 318.7 433.9 C326.5 430.0 319.3 419.6 326.5 418.3 C333.6 417.0 338.8 421.5 340.1 430.0 C341.4 438.5 337.5 435.9 330.4 443.7 C323.2 451.5 327.8 448.9 318.7 453.5 C309.5 458.0 312.1 458.7 303.0 457.4 C293.9 456.1 295.9 456.7 291.3 449.6 C286.7 442.4 285.4 442.4 289.3 435.9Z" fill="#b4b4b4" filter="url(#b3)"/>
<ellipse cx="330.4" cy="428.1" rx="9.0" ry="7.0" transform="rotate(30 330.4 428.1)" fill="#e2e2e2" filter="url(#b2)"/>
<ellipse cx="303.0" cy="443.7" rx="9.0" ry="12.0" transform="rotate(0 303.0 443.7)" fill="#dbdbdb" filter="url(#b2)"/>
<ellipse cx="348.0" cy="459.3" rx="12.0" ry="9.0" transform="rotate(20 348.0 459.3)" fill="#c1c1c1" filter="url(#b2_5)"/>
<ellipse cx="349.9" cy="417.3" rx="4.0" ry="7.0" transform="rotate(-20 349.9 417.3)" fill="#cecece" filter="url(#b1_5)"/>
<path d="M364.0 422.2 C365.0 430.0 364.0 431.3 367.1 445.6 C370.2 460.0 370.3 448.2 373.4 465.2 C376.4 482.1 375.3 486.0 376.3 496.4" fill="none" stroke="#fcfcfc" stroke-width="11" stroke-linecap="round" stroke-linejoin="round" filter="url(#b2_5)"/>
<path d="M381.7 515.0 C382.1 530.8 382.4 546.7 382.8 562.5" fill="none" stroke="#fcfcfc" stroke-width="14" stroke-linecap="round" stroke-linejoin="round" filter="url(#b2_5)"/>
<ellipse cx="408.9" cy="521.8" rx="9.5" ry="18.5" transform="rotate(15 408.9 521.8)" fill="#fcfcfc" filter="url(#b1_5)"/>
<ellipse cx="430.9" cy="555.7" rx="9.0" ry="14.5" transform="rotate(0 430.9 555.7)" fill="#fcfcfc" filter="url(#b1_5)"/>
<ellipse cx="387.5" cy="582.8" rx="9.0" ry="11.5" transform="rotate(0 387.5 582.8)" fill="#fcfcfc" filter="url(#b1_5)"/>
<path d="M397.0 594.7 C406.0 593.6 415.1 592.4 424.1 591.3" fill="none" stroke="#dbdbdb" stroke-width="6" stroke-linecap="round" stroke-linejoin="round" filter="url(#b2)"/>
<ellipse cx="386.8" cy="610.0" rx="14.0" ry="7.0" transform="rotate(-10 386.8 610.0)" fill="#a7a7a7" filter="url(#b3)"/>
<ellipse cx="364.8" cy="565.9" rx="5.0" ry="8.0" transform="rotate(-20 364.8 565.9)" fill="#cecece" filter="url(#b2)"/>
<ellipse cx="427.5" cy="528.6" rx="3.0" ry="6.0" transform="rotate(0 427.5 528.6)" fill="#efefef" filter="url(#b1_5)"/>
<ellipse cx="446.2" cy="550.6" rx="3.0" ry="6.0" transform="rotate(0 446.2 550.6)" fill="#efefef" filter="url(#b1_5)"/>
<path d="M383.4 630.3 C388.0 612.2 394.7 623.5 413.9 616.7 C433.2 610.0 425.3 605.4 441.1 610.0 C456.9 614.5 452.4 613.3 461.4 630.3 C470.5 647.3 468.2 639.3 468.2 660.8 C468.2 682.3 471.6 680.0 461.4 694.7 C451.2 709.4 452.4 703.8 437.7 704.9 C423.0 706.0 429.8 709.4 417.3 698.1 C404.9 686.8 411.7 693.6 400.4 671.0 C389.1 648.4 378.9 648.4 383.4 630.3Z" fill="#868686" filter="url(#b6)"/>
<ellipse cx="461.4" cy="674.4" rx="6.5" ry="10.5" transform="rotate(0 461.4 674.4)" fill="#fcfcfc" filter="url(#b1_5)"/>
<ellipse cx="478.4" cy="643.9" rx="4.0" ry="10.0" transform="rotate(0 478.4 643.9)" fill="#c1c1c1" filter="url(#b2)"/>
<ellipse cx="437.7" cy="721.9" rx="20.0" ry="7.0" transform="rotate(-25 437.7 721.9)" fill="#8d8d8d" filter="url(#b3)"/>
<ellipse cx="445.1" cy="739.5" rx="12.0" ry="8.0" transform="rotate(-25 445.1 739.5)" fill="#e2e2e2" filter="url(#b2_5)"/>
<ellipse cx="403.8" cy="711.7" rx="10.0" ry="16.0" transform="rotate(-25 403.8 711.7)" fill="#171717" filter="url(#b4)"/>
<ellipse cx="380.0" cy="596.4" rx="14.0" ry="5.0" transform="rotate(-20 380.0 596.4)" fill="#1d1d1d" filter="url(#b3)"/>
</g></g>
<g clip-path="url(#bandc)"><g filter="url(#cm)">
<path d="M386.8 633.7 C390.8 616.2 395.9 625.8 413.9 618.4 C432.0 611.1 425.8 607.7 441.1 611.7 C456.3 615.6 451.2 613.9 459.7 630.3 C468.2 646.7 466.5 639.9 466.5 660.8 C466.5 681.7 469.3 678.9 459.7 693.0 C450.1 707.2 451.6 702.1 437.7 703.2 C423.8 704.3 429.9 707.2 418.0 696.4 C406.2 685.7 412.5 691.9 402.1 671.0 C391.7 650.1 382.9 651.2 386.8 633.7Z" fill="#8d8d8d" filter="url(#b4)"/>
<path d="M403.8 635.4 C409.4 622.4 413.9 625.8 427.5 621.8 C441.1 617.9 434.3 617.3 444.5 623.5 C454.6 629.7 452.4 625.8 458.0 640.5 C463.7 655.2 462.6 650.6 461.4 667.6 C460.3 684.6 464.8 681.2 454.6 691.3 C444.5 701.5 442.8 700.4 430.9 698.1 C419.0 695.9 425.8 697.0 419.0 684.6 C412.3 672.1 415.6 677.2 410.6 660.8 C405.5 644.4 398.1 648.4 403.8 635.4Z" fill="#adadad" filter="url(#b3)"/>
<path d="M415.6 640.5 C418.1 630.1 421.9 628.5 434.3 626.2 C446.7 624.0 444.5 622.2 452.9 633.7 C461.4 645.2 459.2 642.7 459.7 660.8 C460.3 678.9 464.2 676.1 454.6 687.9 C445.0 699.8 442.0 699.8 430.9 696.4 C419.8 693.0 422.8 690.8 421.4 677.8 C420.1 664.8 428.8 669.9 426.8 657.4 C424.9 645.0 413.2 650.9 415.6 640.5Z" fill="#dbdbdb" filter="url(#b2_5)"/>
</g></g>
<g filter="url(#rough)">
<ellipse cx="159.6" cy="74.0" rx="12.0" ry="9.0" transform="rotate(-10 159.6 74.0)" fill="#e2add2"/>
<ellipse cx="95.2" cy="133.3" rx="16.0" ry="4.5" transform="rotate(8 95.2 133.3)" fill="#e2add2"/>
<ellipse cx="208.8" cy="275.7" rx="6.0" ry="4.0" transform="rotate(30 208.8 275.7)" fill="#e2add2"/>
<ellipse cx="199.7" cy="291.0" rx="3.0" ry="6.0" transform="rotate(0 199.7 291.0)" fill="#e2add2"/>
<ellipse cx="247.8" cy="362.2" rx="5.0" ry="6.0" transform="rotate(0 247.8 362.2)" fill="#e2add2"/>
<ellipse cx="325.8" cy="358.8" rx="4.0" ry="8.0" transform="rotate(-20 325.8 358.8)" fill="#e2add2"/>
<ellipse cx="313.9" cy="379.2" rx="6.0" ry="5.0" transform="rotate(0 313.9 379.2)" fill="#e2add2"/>
<ellipse cx="247.3" cy="361.6" rx="5.0" ry="6.0" transform="rotate(0 247.3 361.6)" fill="#e2add2"/>
<ellipse cx="327.4" cy="354.8" rx="4.0" ry="9.0" transform="rotate(-20 327.4 354.8)" fill="#e2add2"/>
<ellipse cx="311.8" cy="378.2" rx="5.0" ry="5.0" transform="rotate(0 311.8 378.2)" fill="#e2add2"/>
<ellipse cx="302.0" cy="445.6" rx="5.0" ry="9.0" transform="rotate(0 302.0 445.6)" fill="#e2add2"/>
<ellipse cx="329.4" cy="427.1" rx="2.5" ry="2.5" transform="rotate(0 329.4 427.1)" fill="#e2add2"/>
<path d="M364.0 422.2 C365.0 430.0 364.0 431.3 367.1 445.6 C370.2 460.0 370.3 448.2 373.4 465.2 C376.4 482.1 375.3 486.0 376.3 496.4" fill="none" stroke="#e2add2" stroke-width="6" stroke-linecap="round" stroke-linejoin="round"/>
<path d="M381.7 515.0 C382.1 530.8 382.4 546.7 382.8 562.5" fill="none" stroke="#e2add2" stroke-width="9" stroke-linecap="round" stroke-linejoin="round"/>
<ellipse cx="408.9" cy="521.8" rx="7.0" ry="16.0" transform="rotate(15 408.9 521.8)" fill="#e2add2"/>
<ellipse cx="430.9" cy="555.7" rx="6.5" ry="12.0" transform="rotate(0 430.9 555.7)" fill="#e2add2"/>
<ellipse cx="387.5" cy="582.8" rx="6.5" ry="9.0" transform="rotate(0 387.5 582.8)" fill="#e2add2"/>
<ellipse cx="434.3" cy="634.4" rx="14.0" ry="8.0" transform="rotate(-25 434.3 634.4)" fill="#e2add2"/>
<ellipse cx="441.8" cy="671.0" rx="11.0" ry="29.0" transform="rotate(17 441.8 671.0)" fill="#e2add2"/>
<ellipse cx="461.4" cy="674.4" rx="4.0" ry="8.0" transform="rotate(0 461.4 674.4)" fill="#e2add2"/>
<ellipse cx="444.5" cy="740.5" rx="5.0" ry="3.0" transform="rotate(-25 444.5 740.5)" fill="#e2add2"/>
</g>
</g>
<g id="mapd" clip-path="url(#cpPoly)">
<g filter="url(#cmS)"><rect x="-5" y="-5" width="570" height="762" fill="#050505"/>
<path d="M163.0 72.6 C174.3 73.7 169.8 65.8 196.9 76.0 C224.1 86.1 215.0 86.1 244.4 103.1 C273.8 120.0 271.5 118.9 285.1 126.8" fill="none" stroke="#141414" stroke-width="60" stroke-linecap="round" stroke-linejoin="round" filter="url(#b10)" opacity="0.8"/>
<path d="M163.0 72.6 C174.3 73.7 169.8 65.8 196.9 76.0 C224.1 86.1 215.0 86.1 244.4 103.1 C273.8 120.0 271.5 118.9 285.1 126.8" fill="none" stroke="#292929" stroke-width="30" stroke-linecap="round" stroke-linejoin="round" filter="url(#b6)"/>
<path d="M196.9 89.5 C199.2 97.4 199.2 98.6 203.7 113.3 C208.2 127.9 208.2 126.8 210.5 133.6" fill="none" stroke="#242424" stroke-width="11" stroke-linecap="round" stroke-linejoin="round" filter="url(#b4)"/>
<ellipse cx="269.8" cy="118.3" rx="12.0" ry="12.0" transform="rotate(0 269.8 118.3)" fill="#525252" filter="url(#b2_5)"/>
<ellipse cx="190.2" cy="62.4" rx="4.0" ry="4.0" transform="rotate(0 190.2 62.4)" fill="#454545" filter="url(#b1_5)"/>
<ellipse cx="212.2" cy="72.6" rx="4.0" ry="4.0" transform="rotate(0 212.2 72.6)" fill="#454545" filter="url(#b1_5)"/>
<ellipse cx="251.2" cy="28.5" rx="24.0" ry="18.0" transform="rotate(0 251.2 28.5)" fill="#0f0f0f" filter="url(#b8)"/>
<path d="M224.1 143.8 C222.9 156.2 221.8 168.6 220.7 181.1" fill="none" stroke="#0f0f0f" stroke-width="10" stroke-linecap="round" stroke-linejoin="round" filter="url(#b5)"/>
<ellipse cx="112.2" cy="296.4" rx="10.0" ry="17.0" transform="rotate(-20 112.2 296.4)" fill="#232323" filter="url(#b5)"/>
<ellipse cx="88.4" cy="255.7" rx="10.0" ry="16.0" transform="rotate(-30 88.4 255.7)" fill="#121212" filter="url(#b6)"/>
<ellipse cx="146.1" cy="343.8" rx="10.0" ry="14.0" transform="rotate(-30 146.1 343.8)" fill="#121212" filter="url(#b6)"/>
<ellipse cx="322.4" cy="228.5" rx="14.0" ry="20.0" transform="rotate(-15 322.4 228.5)" fill="#0f0f0f" filter="url(#b6)"/>
<ellipse cx="339.4" cy="279.4" rx="10.0" ry="20.0" transform="rotate(-15 339.4 279.4)" fill="#0f0f0f" filter="url(#b6)"/>
<ellipse cx="359.7" cy="337.0" rx="10.0" ry="18.0" transform="rotate(-15 359.7 337.0)" fill="#141414" filter="url(#b6)"/>
<ellipse cx="392.5" cy="383.0" rx="16.0" ry="32.0" transform="rotate(-27 392.5 383.0)" fill="#272727" filter="url(#b6)"/>
<ellipse cx="392.5" cy="383.0" rx="7.0" ry="15.0" transform="rotate(-27 392.5 383.0)" fill="#4b4b4b" filter="url(#b2)"/>
<path d="M329.2 411.9 C329.2 382.5 332.6 383.6 359.7 384.8 C386.8 385.9 384.6 390.4 410.6 415.3 C436.6 440.1 418.5 426.6 437.7 459.4 C456.9 492.1 451.2 479.7 468.2 513.6 C485.2 547.5 468.2 518.1 488.5 561.1 C508.9 604.0 508.9 605.2 529.2 642.5 C549.6 679.8 560.9 650.4 549.6 673.0 C538.3 695.6 527.0 692.2 495.3 710.3 C463.7 728.4 472.7 749.8 454.6 727.2 C436.6 704.6 452.4 693.3 441.1 642.5 C429.8 591.6 434.3 619.9 420.7 574.6 C407.2 529.4 420.7 540.7 400.4 506.8 C380.0 472.9 383.4 504.6 359.7 472.9 C336.0 441.3 329.2 441.3 329.2 411.9Z" fill="#0b0b0b" filter="url(#b7)"/>
<ellipse cx="363.1" cy="391.5" rx="10.0" ry="14.0" transform="rotate(-20 363.1 391.5)" fill="#212121" filter="url(#b4)"/>
<ellipse cx="441.1" cy="547.5" rx="8.0" ry="12.0" transform="rotate(-20 441.1 547.5)" fill="#212121" filter="url(#b4)"/>
<ellipse cx="420.7" cy="469.5" rx="8.0" ry="12.0" transform="rotate(-20 420.7 469.5)" fill="#1c1c1c" filter="url(#b4)"/>
<ellipse cx="481.8" cy="642.5" rx="8.0" ry="14.0" transform="rotate(-20 481.8 642.5)" fill="#171717" filter="url(#b4)"/>
<ellipse cx="495.3" cy="696.7" rx="8.0" ry="8.0" transform="rotate(0 495.3 696.7)" fill="#1a1a1a" filter="url(#b4)"/>
<path d="M156.2 371.2 C167.6 361.0 186.8 362.2 203.7 371.2 C220.7 380.2 211.6 384.8 207.1 398.3 C202.6 411.9 202.6 410.8 190.2 411.9 C177.7 413.0 181.1 415.3 169.8 401.7 C158.5 388.2 144.9 381.4 156.2 371.2Z" fill="#121212" filter="url(#b5)"/>
<ellipse cx="207.1" cy="405.1" rx="8.0" ry="10.0" transform="rotate(0 207.1 405.1)" fill="#212121" filter="url(#b4)"/>
</g>
<clipPath id="bandd"><path d="M20.6 124.0 C40.3 112.5 96.5 75.4 118.9 76.0 C141.3 76.6 127.1 109.9 132.5 126.8 C137.9 143.8 137.3 143.8 146.1 160.7 C154.9 177.7 166.4 198.0 176.6 211.6 C186.8 225.1 188.8 222.4 196.9 228.5 C205.1 234.6 211.9 235.3 217.3 242.1 C222.7 248.9 220.0 255.0 224.1 262.4 C228.1 269.9 228.8 273.3 237.6 279.4 C246.4 285.5 257.3 288.2 268.1 293.0 C279.0 297.7 285.1 295.7 291.9 303.1 C298.7 310.6 300.0 319.4 302.1 330.3 C304.1 341.1 301.4 349.2 302.1 357.4 C302.7 365.6 303.4 358.3 305.4 371.2 C307.5 384.1 305.4 406.5 312.2 422.1 C319.0 437.7 329.9 439.0 339.4 449.2 C348.8 459.4 351.6 463.4 359.7 472.9 C367.8 482.4 373.3 484.5 380.0 496.7 C386.8 508.9 389.5 518.4 393.6 534.0 C397.7 549.6 398.4 561.1 400.4 574.6 C402.4 588.2 397.0 593.0 403.8 601.8 C410.6 610.6 429.5 610.6 434.3 618.7 C439.0 626.9 429.5 630.9 427.5 642.5 C425.5 654.0 424.1 662.8 424.1 676.4 C424.1 689.9 427.5 700.1 427.5 710.3 C427.5 720.5 426.6 721.3 424.1 727.2 C421.6 733.2 420.8 737.4 415.0 740.0 C409.2 742.6 427.0 803.0 395.0 740.0 C363.0 677.0 287.8 489.3 255.0 425.0 C222.2 360.7 240.4 424.7 230.8 418.7 C221.3 412.7 212.5 404.4 207.1 394.9 C201.7 385.4 207.1 377.4 203.7 371.2 C200.3 365.0 198.3 375.1 190.2 364.2 C182.0 353.3 170.5 331.6 163.0 316.7 C155.6 301.8 159.0 303.1 152.9 289.6 C146.8 276.0 148.8 265.2 132.5 248.9 C116.2 232.6 90.5 225.8 71.5 208.2 C52.5 190.6 47.7 175.6 37.6 160.7 C27.4 145.8 24.0 140.9 20.6 133.6 C17.2 126.3 0.9 135.5 20.6 124.0Z"/></clipPath>
<g clip-path="url(#bandd)"><g filter="url(#cmN2)"><rect x="-5" y="-5" width="570" height="762" fill="#4b4b4b"/>
<path d="M156.2 228.5 C167.6 212.7 174.3 217.2 203.7 235.3 C233.1 253.4 215.0 259.1 244.4 282.8 C273.8 306.5 273.8 279.4 291.9 306.5 C310.0 333.7 310.0 339.3 298.7 364.2 C287.4 389.0 289.6 392.4 258.0 381.1 C226.3 369.8 233.1 363.0 203.7 330.3 C174.3 297.5 185.6 316.7 169.8 282.8 C154.0 248.9 144.9 244.4 156.2 228.5Z" fill="#3e3e3e" filter="url(#b8)"/>
<path d="M278.3 428.8 C280.6 408.5 285.1 424.3 312.2 439.0 C339.4 453.7 332.6 448.1 359.7 472.9 C386.8 497.8 380.0 475.2 393.6 513.6 C407.2 552.0 406.0 562.2 400.4 588.2 C394.7 614.2 395.9 605.2 376.7 591.6 C357.4 578.0 366.5 578.0 342.7 547.5 C319.0 517.0 326.9 539.6 305.4 500.1 C284.0 460.5 276.1 449.2 278.3 428.8Z" fill="#a7a7a7" filter="url(#b7)"/>
<path d="M41.0 140.4 C43.2 133.0 38.7 134.7 54.5 130.2 C70.3 125.7 69.2 126.3 88.4 126.8 C107.6 127.4 98.6 124.0 112.2 131.9 C125.7 139.8 120.1 136.4 129.1 150.6 C138.2 164.7 138.2 165.8 139.3 174.3 C140.4 182.8 139.3 182.8 132.5 176.0 C125.7 169.2 129.1 164.7 118.9 153.9 C108.8 143.2 117.8 146.0 102.0 143.8 C86.2 141.5 89.6 144.3 71.5 147.2 C53.4 150.0 57.9 154.5 47.7 152.2 C37.6 150.0 38.7 147.7 41.0 140.4Z" fill="#fcfcfc" stroke="#fcfcfc" stroke-width="5" stroke-linejoin="round" filter="url(#b2)"/>
<path d="M73.2 191.2 C73.2 185.0 70.9 184.5 81.7 179.4 C92.4 174.3 95.8 173.7 105.4 176.0 C115.0 178.2 113.9 181.1 110.5 186.2 C107.1 191.2 104.8 187.3 95.2 191.2 C85.6 195.2 89.0 198.0 81.7 198.0 C74.3 198.0 73.2 197.5 73.2 191.2Z" fill="#fcfcfc" stroke="#fcfcfc" stroke-width="5" stroke-linejoin="round" filter="url(#b2)"/>
<path d="M120.6 225.1 C121.8 217.8 121.8 217.2 129.1 208.2 C136.5 199.2 134.2 199.7 142.7 198.0 C151.2 196.3 152.3 196.3 154.6 203.1 C156.8 209.9 155.7 211.0 149.5 218.4 C143.2 225.7 143.8 221.2 135.9 225.1 C128.0 229.1 130.8 230.2 125.7 230.2 C120.6 230.2 119.5 232.5 120.6 225.1Z" fill="#fcfcfc" stroke="#fcfcfc" stroke-width="5" stroke-linejoin="round" filter="url(#b2)"/>
<ellipse cx="141.0" cy="237.0" rx="7.5" ry="11.5" transform="rotate(0 141.0 237.0)" fill="#fcfcfc" filter="url(#b1_5)"/>
<ellipse cx="163.0" cy="233.6" rx="11.5" ry="8.5" transform="rotate(30 163.0 233.6)" fill="#fcfcfc" filter="url(#b1_5)"/>
<ellipse cx="171.5" cy="259.1" rx="12.5" ry="18.5" transform="rotate(-20 171.5 259.1)" fill="#fcfcfc" filter="url(#b1_5)"/>
<ellipse cx="186.8" cy="245.5" rx="7.5" ry="15.5" transform="rotate(-30 186.8 245.5)" fill="#fcfcfc" filter="url(#b1_5)"/>
<ellipse cx="203.7" cy="270.9" rx="9.5" ry="11.5" transform="rotate(-20 203.7 270.9)" fill="#fcfcfc" filter="url(#b1_5)"/>
<ellipse cx="196.9" cy="291.3" rx="16.5" ry="17.5" transform="rotate(0 196.9 291.3)" fill="#fcfcfc" filter="url(#b1_5)"/>
<ellipse cx="220.7" cy="286.2" rx="6.5" ry="10.5" transform="rotate(-20 220.7 286.2)" fill="#fcfcfc" filter="url(#b1_5)"/>
<ellipse cx="176.6" cy="303.1" rx="7.5" ry="9.5" transform="rotate(0 176.6 303.1)" fill="#fcfcfc" filter="url(#b1_5)"/>
<ellipse cx="186.8" cy="323.5" rx="7.5" ry="8.5" transform="rotate(0 186.8 323.5)" fill="#fcfcfc" filter="url(#b1_5)"/>
<ellipse cx="190.2" cy="340.4" rx="7.5" ry="9.5" transform="rotate(0 190.2 340.4)" fill="#fcfcfc" filter="url(#b1_5)"/>
<ellipse cx="217.3" cy="359.1" rx="7.5" ry="10.5" transform="rotate(0 217.3 359.1)" fill="#fcfcfc" filter="url(#b1_5)"/>
<ellipse cx="246.1" cy="365.9" rx="13.5" ry="15.5" transform="rotate(25 246.1 365.9)" fill="#fcfcfc" filter="url(#b1_5)"/>
<ellipse cx="227.5" cy="362.5" rx="6.5" ry="7.5" transform="rotate(0 227.5 362.5)" fill="#fcfcfc" filter="url(#b1_5)"/>
<ellipse cx="95.2" cy="111.6" rx="14.0" ry="18.0" transform="rotate(0 95.2 111.6)" fill="#a0a0a0" filter="url(#b4)"/>
<ellipse cx="95.2" cy="111.6" rx="6.0" ry="9.0" transform="rotate(0 95.2 111.6)" fill="#dbdbdb" filter="url(#b2)"/>
<ellipse cx="203.7" cy="243.8" rx="7.0" ry="11.0" transform="rotate(0 203.7 243.8)" fill="#b4b4b4" filter="url(#b3)"/>
<ellipse cx="32.5" cy="145.5" rx="5.0" ry="8.0" transform="rotate(0 32.5 145.5)" fill="#dbdbdb" filter="url(#b2)"/>
<ellipse cx="224.1" cy="323.5" rx="6.0" ry="10.0" transform="rotate(-20 224.1 323.5)" fill="#adadad" filter="url(#b2)"/>
<ellipse cx="254.6" cy="311.6" rx="5.0" ry="5.0" transform="rotate(0 254.6 311.6)" fill="#a0a0a0" filter="url(#b2)"/>
<ellipse cx="269.8" cy="337.0" rx="4.0" ry="5.0" transform="rotate(0 269.8 337.0)" fill="#a0a0a0" filter="url(#b2)"/>
<path d="M224.1 391.5 C226.3 379.1 227.5 378.0 244.4 374.6 C261.4 371.2 261.4 371.2 274.9 381.4 C288.5 391.5 284.0 389.3 285.1 405.1 C286.2 420.9 287.4 423.2 278.3 428.8 C269.3 434.5 271.5 427.7 258.0 422.1 C244.4 416.4 248.9 422.1 237.6 411.9 C226.3 401.7 221.8 404.0 224.1 391.5Z" fill="#fcfcfc" stroke="#fcfcfc" stroke-width="5" stroke-linejoin="round" filter="url(#b2)"/>
<ellipse cx="210.5" cy="381.4" rx="5.5" ry="10.5" transform="rotate(0 210.5 381.4)" fill="#fcfcfc" filter="url(#b1_5)"/>
<path d="M281.7 439.0 C286.2 431.1 291.9 435.6 302.1 442.4 C312.2 449.2 311.1 449.2 312.2 459.4 C313.4 469.5 313.4 470.7 305.4 472.9 C297.5 475.2 296.4 477.4 288.5 466.1 C280.6 454.8 277.2 446.9 281.7 439.0Z" fill="#fcfcfc" stroke="#fcfcfc" stroke-width="5" stroke-linejoin="round" filter="url(#b2)"/>
<path d="M290.2 472.9 C294.7 468.4 300.4 471.8 312.2 483.1 C324.1 494.4 325.8 495.5 325.8 506.8 C325.8 518.1 321.3 520.4 312.2 517.0 C303.2 513.6 306.0 511.4 298.7 496.7 C291.3 482.0 285.7 477.4 290.2 472.9Z" fill="#fcfcfc" stroke="#fcfcfc" stroke-width="5" stroke-linejoin="round" filter="url(#b2)"/>
<ellipse cx="339.4" cy="474.6" rx="11.5" ry="18.5" transform="rotate(-10 339.4 474.6)" fill="#fcfcfc" filter="url(#b1_5)"/>
<ellipse cx="346.1" cy="523.8" rx="10.5" ry="24.5" transform="rotate(-10 346.1 523.8)" fill="#fcfcfc" filter="url(#b1_5)"/>
<path d="M363.1 483.1 C368.7 478.6 368.7 475.2 376.7 486.5 C384.6 497.8 381.7 492.1 386.8 517.0 C391.9 541.9 390.8 537.3 391.9 561.1 C393.0 584.8 394.2 579.2 390.2 588.2 C386.3 597.3 386.8 597.3 380.0 588.2 C373.3 579.2 376.7 580.3 369.9 561.1 C363.1 541.9 363.1 550.9 359.7 530.6 C356.3 510.2 358.6 515.9 359.7 500.1 C360.8 484.2 357.4 487.6 363.1 483.1Z" fill="#fcfcfc" stroke="#fcfcfc" stroke-width="5" stroke-linejoin="round" filter="url(#b2)"/>
<ellipse cx="413.9" cy="645.9" rx="7.5" ry="9.5" transform="rotate(0 413.9 645.9)" fill="#fcfcfc" filter="url(#b1_5)"/>
<path d="M376.7 611.9 C384.6 607.4 392.5 602.9 400.4 598.4" fill="none" stroke="#e2e2e2" stroke-width="7" stroke-linecap="round" stroke-linejoin="round" filter="url(#b2)"/>
<ellipse cx="407.2" cy="623.8" rx="12.0" ry="6.0" transform="rotate(0 407.2 623.8)" fill="#454545" filter="url(#b3)"/>
<ellipse cx="325.8" cy="449.2" rx="10.0" ry="5.0" transform="rotate(-30 325.8 449.2)" fill="#dbdbdb" filter="url(#b2)"/>
<ellipse cx="393.6" cy="540.7" rx="4.0" ry="8.0" transform="rotate(0 393.6 540.7)" fill="#b4b4b4" filter="url(#b2)"/>
</g></g>
<g clip-path="url(#bandd)"><g filter="url(#cm)">
<path d="M373.3 632.3 C382.3 623.8 388.0 626.1 407.2 627.2 C426.4 628.3 424.1 619.3 430.9 635.7 C437.7 652.1 427.5 650.4 427.5 676.4 C427.5 702.4 435.4 703.5 430.9 713.7 C426.4 723.8 425.8 719.3 413.9 706.9 C402.1 694.5 406.6 694.5 395.3 676.4 C384.0 658.3 387.4 667.3 380.0 652.6 C372.7 637.9 364.2 640.8 373.3 632.3Z" fill="#898989" filter="url(#b3)"/>
<path d="M383.4 639.1 C389.6 633.4 393.0 634.6 407.2 635.7 C421.3 636.8 420.7 628.9 425.8 642.5 C430.9 656.0 422.4 654.9 422.4 676.4 C422.4 697.8 428.1 700.1 425.8 706.9 C423.6 713.7 424.1 708.0 415.6 696.7 C407.2 685.4 409.4 687.7 400.4 673.0 C391.3 658.3 394.2 663.9 388.5 652.6 C382.9 641.3 377.2 644.7 383.4 639.1Z" fill="#a0a0a0" filter="url(#b3)"/>
<ellipse cx="398.7" cy="652.6" rx="8.0" ry="15.0" transform="rotate(-15 398.7 652.6)" fill="#d4d4d4" filter="url(#b3)"/>
<ellipse cx="419.0" cy="686.5" rx="5.0" ry="16.0" transform="rotate(0 419.0 686.5)" fill="#cecece" filter="url(#b3)"/>
<ellipse cx="414.6" cy="646.5" rx="7.0" ry="8.0" transform="rotate(0 414.6 646.5)" fill="#efefef" filter="url(#b2)"/>
<ellipse cx="410.6" cy="666.2" rx="6.0" ry="8.0" transform="rotate(0 410.6 666.2)" fill="#bababa" filter="url(#b3)"/>
</g></g>
<g filter="url(#rough)">
<path d="M41.0 140.4 C43.2 133.0 38.7 134.7 54.5 130.2 C70.3 125.7 69.2 126.3 88.4 126.8 C107.6 127.4 98.6 124.0 112.2 131.9 C125.7 139.8 120.1 136.4 129.1 150.6 C138.2 164.7 138.2 165.8 139.3 174.3 C140.4 182.8 139.3 182.8 132.5 176.0 C125.7 169.2 129.1 164.7 118.9 153.9 C108.8 143.2 117.8 146.0 102.0 143.8 C86.2 141.5 89.6 144.3 71.5 147.2 C53.4 150.0 57.9 154.5 47.7 152.2 C37.6 150.0 38.7 147.7 41.0 140.4Z" fill="#e2add2"/>
<path d="M73.2 191.2 C73.2 185.0 70.9 184.5 81.7 179.4 C92.4 174.3 95.8 173.7 105.4 176.0 C115.0 178.2 113.9 181.1 110.5 186.2 C107.1 191.2 104.8 187.3 95.2 191.2 C85.6 195.2 89.0 198.0 81.7 198.0 C74.3 198.0 73.2 197.5 73.2 191.2Z" fill="#e2add2"/>
<path d="M120.6 225.1 C121.8 217.8 121.8 217.2 129.1 208.2 C136.5 199.2 134.2 199.7 142.7 198.0 C151.2 196.3 152.3 196.3 154.6 203.1 C156.8 209.9 155.7 211.0 149.5 218.4 C143.2 225.7 143.8 221.2 135.9 225.1 C128.0 229.1 130.8 230.2 125.7 230.2 C120.6 230.2 119.5 232.5 120.6 225.1Z" fill="#e2add2"/>
<ellipse cx="141.0" cy="237.0" rx="5.0" ry="9.0" transform="rotate(0 141.0 237.0)" fill="#e2add2"/>
<ellipse cx="163.0" cy="233.6" rx="9.0" ry="6.0" transform="rotate(30 163.0 233.6)" fill="#e2add2"/>
<ellipse cx="171.5" cy="259.1" rx="10.0" ry="16.0" transform="rotate(-20 171.5 259.1)" fill="#e2add2"/>
<ellipse cx="186.8" cy="245.5" rx="5.0" ry="13.0" transform="rotate(-30 186.8 245.5)" fill="#e2add2"/>
<ellipse cx="203.7" cy="270.9" rx="7.0" ry="9.0" transform="rotate(-20 203.7 270.9)" fill="#e2add2"/>
<ellipse cx="196.9" cy="291.3" rx="14.0" ry="15.0" transform="rotate(0 196.9 291.3)" fill="#e2add2"/>
<ellipse cx="220.7" cy="286.2" rx="4.0" ry="8.0" transform="rotate(-20 220.7 286.2)" fill="#e2add2"/>
<ellipse cx="176.6" cy="303.1" rx="5.0" ry="7.0" transform="rotate(0 176.6 303.1)" fill="#e2add2"/>
<ellipse cx="186.8" cy="323.5" rx="5.0" ry="6.0" transform="rotate(0 186.8 323.5)" fill="#e2add2"/>
<ellipse cx="190.2" cy="340.4" rx="5.0" ry="7.0" transform="rotate(0 190.2 340.4)" fill="#e2add2"/>
<ellipse cx="217.3" cy="359.1" rx="5.0" ry="8.0" transform="rotate(0 217.3 359.1)" fill="#e2add2"/>
<ellipse cx="246.1" cy="365.9" rx="11.0" ry="13.0" transform="rotate(25 246.1 365.9)" fill="#e2add2"/>
<ellipse cx="227.5" cy="362.5" rx="4.0" ry="5.0" transform="rotate(0 227.5 362.5)" fill="#e2add2"/>
<path d="M224.1 391.5 C226.3 379.1 227.5 378.0 244.4 374.6 C261.4 371.2 261.4 371.2 274.9 381.4 C288.5 391.5 284.0 389.3 285.1 405.1 C286.2 420.9 287.4 423.2 278.3 428.8 C269.3 434.5 271.5 427.7 258.0 422.1 C244.4 416.4 248.9 422.1 237.6 411.9 C226.3 401.7 221.8 404.0 224.1 391.5Z" fill="#e2add2"/>
<ellipse cx="210.5" cy="381.4" rx="3.0" ry="8.0" transform="rotate(0 210.5 381.4)" fill="#e2add2"/>
<path d="M281.7 439.0 C286.2 431.1 291.9 435.6 302.1 442.4 C312.2 449.2 311.1 449.2 312.2 459.4 C313.4 469.5 313.4 470.7 305.4 472.9 C297.5 475.2 296.4 477.4 288.5 466.1 C280.6 454.8 277.2 446.9 281.7 439.0Z" fill="#e2add2"/>
<path d="M290.2 472.9 C294.7 468.4 300.4 471.8 312.2 483.1 C324.1 494.4 325.8 495.5 325.8 506.8 C325.8 518.1 321.3 520.4 312.2 517.0 C303.2 513.6 306.0 511.4 298.7 496.7 C291.3 482.0 285.7 477.4 290.2 472.9Z" fill="#e2add2"/>
<ellipse cx="339.4" cy="474.6" rx="9.0" ry="16.0" transform="rotate(-10 339.4 474.6)" fill="#e2add2"/>
<ellipse cx="346.1" cy="523.8" rx="8.0" ry="22.0" transform="rotate(-10 346.1 523.8)" fill="#e2add2"/>
<path d="M363.1 483.1 C368.7 478.6 368.7 475.2 376.7 486.5 C384.6 497.8 381.7 492.1 386.8 517.0 C391.9 541.9 390.8 537.3 391.9 561.1 C393.0 584.8 394.2 579.2 390.2 588.2 C386.3 597.3 386.8 597.3 380.0 588.2 C373.3 579.2 376.7 580.3 369.9 561.1 C363.1 541.9 363.1 550.9 359.7 530.6 C356.3 510.2 358.6 515.9 359.7 500.1 C360.8 484.2 357.4 487.6 363.1 483.1Z" fill="#e2add2"/>
<ellipse cx="413.9" cy="645.9" rx="5.0" ry="7.0" transform="rotate(0 413.9 645.9)" fill="#e2add2"/>
</g>
</g>
<g id="mape" clip-path="url(#cpPoly)">
<g filter="url(#cm)"><rect x="-5" y="-5" width="570" height="762" fill="#050505"/>
<path d="M139.1 70.8 C143.5 45.6 145.7 46.7 191.5 28.2 C237.4 9.6 244.0 -6.8 276.7 15.1 C309.5 36.9 278.9 45.6 289.8 93.7 C300.7 141.7 313.8 135.2 309.5 159.2 C305.1 183.2 305.1 174.5 276.7 165.8 C248.3 157.0 257.1 153.7 224.3 133.0 C191.5 112.3 206.8 124.3 178.4 103.5 C150.0 82.8 134.8 95.9 139.1 70.8Z" fill="#101010" filter="url(#b9)"/>
<path d="M165.3 60.9 C171.9 50.0 174.1 48.9 191.5 47.8 C209.0 46.7 200.3 43.5 217.7 57.7 C235.2 71.9 224.3 76.2 244.0 90.4 C263.6 104.6 260.3 91.5 276.7 100.2 C293.1 109.0 289.8 103.5 293.1 116.6 C296.4 129.7 296.4 131.9 286.5 139.6 C276.7 147.2 280.0 148.3 263.6 139.6 C247.2 130.8 252.7 129.7 237.4 113.3 C222.1 97.0 233.0 100.2 217.7 90.4 C202.5 80.6 206.8 87.1 191.5 83.9 C176.3 80.6 180.6 88.2 171.9 80.6 C163.2 72.9 158.8 71.9 165.3 60.9Z" fill="#282828" filter="url(#b5)"/>
<ellipse cx="198.1" cy="64.2" rx="14.0" ry="8.0" transform="rotate(20 198.1 64.2)" fill="#2c2c2c" filter="url(#b3)"/>
<ellipse cx="268.5" cy="118.3" rx="12.0" ry="12.0" transform="rotate(0 268.5 118.3)" fill="#525252" filter="url(#b2_5)"/>
<path d="M204.6 119.9 C209.0 139.6 213.4 159.2 217.7 178.9" fill="none" stroke="#121212" stroke-width="10" stroke-linecap="round" stroke-linejoin="round" filter="url(#b4)"/>
<path d="M191.5 93.7 C195.9 104.6 200.3 115.5 204.6 126.4" fill="none" stroke="#181818" stroke-width="8" stroke-linecap="round" stroke-linejoin="round" filter="url(#b4)"/>
<ellipse cx="302.9" cy="192.0" rx="8.0" ry="16.0" transform="rotate(-15 302.9 192.0)" fill="#101010" filter="url(#b5)"/>
<ellipse cx="329.1" cy="221.5" rx="9.0" ry="12.0" transform="rotate(-15 329.1 221.5)" fill="#101010" filter="url(#b5)"/>
<ellipse cx="335.7" cy="277.1" rx="8.0" ry="16.0" transform="rotate(-15 335.7 277.1)" fill="#101010" filter="url(#b5)"/>
<ellipse cx="355.3" cy="306.6" rx="10.0" ry="12.0" transform="rotate(-15 355.3 306.6)" fill="#101010" filter="url(#b5)"/>
<ellipse cx="250.5" cy="24.9" rx="22.0" ry="14.0" transform="rotate(-15 250.5 24.9)" fill="#101010" filter="url(#b5)"/>
<ellipse cx="80.2" cy="90.4" rx="12.0" ry="5.0" transform="rotate(-15 80.2 90.4)" fill="#121212" filter="url(#b5)"/>
<ellipse cx="392.5" cy="383.0" rx="16.0" ry="32.0" transform="rotate(-27 392.5 383.0)" fill="#272727" filter="url(#b6)"/>
<ellipse cx="392.5" cy="383.0" rx="7.0" ry="15.0" transform="rotate(-27 392.5 383.0)" fill="#4b4b4b" filter="url(#b2)"/>
<path d="M332.9 421.3 C332.9 394.1 334.0 393.0 360.0 390.7 C386.0 388.5 384.9 391.9 410.9 414.5 C436.9 437.1 418.8 425.8 438.0 458.6 C457.2 491.3 451.6 478.9 468.5 512.8 C485.5 546.7 468.5 517.3 488.9 560.3 C509.2 603.2 506.9 604.4 529.5 641.7 C552.1 679.0 568.0 649.6 556.7 672.2 C545.4 694.8 529.5 691.4 495.6 709.5 C461.7 727.6 473.0 749.0 454.9 726.4 C436.9 703.8 452.7 692.5 441.4 641.7 C430.1 590.8 434.6 619.1 421.0 573.8 C407.5 528.6 421.0 539.9 400.7 506.0 C380.3 472.1 382.6 500.4 360.0 472.1 C337.4 443.9 332.9 448.4 332.9 421.3Z" fill="#111111" filter="url(#b6)"/>
<ellipse cx="370.2" cy="390.7" rx="10.0" ry="18.0" transform="rotate(-20 370.2 390.7)" fill="#212121" filter="url(#b4)"/>
<ellipse cx="438.0" cy="458.6" rx="5.0" ry="14.0" transform="rotate(-25 438.0 458.6)" fill="#1f1f1f" filter="url(#b3)"/>
<ellipse cx="458.3" cy="492.5" rx="5.0" ry="12.0" transform="rotate(-25 458.3 492.5)" fill="#1b1b1b" filter="url(#b3)"/>
<ellipse cx="499.0" cy="692.5" rx="8.0" ry="9.0" transform="rotate(0 499.0 692.5)" fill="#1f1f1f" filter="url(#b3)"/>
<ellipse cx="441.4" cy="519.6" rx="8.0" ry="8.0" transform="rotate(0 441.4 519.6)" fill="#050505" filter="url(#b3)"/>
<path d="M468.5 560.3 C475.3 553.5 477.5 560.3 495.6 587.4 C513.7 614.5 522.8 621.3 522.8 641.7 C522.8 662.0 511.5 659.7 495.6 648.4 C479.8 637.1 484.3 637.1 475.3 607.8 C466.2 578.4 461.7 567.1 468.5 560.3Z" fill="#050505" filter="url(#b5)"/>
</g>
<clipPath id="bande"><path d="M-3.0 137.0 L83.4 99.6 L270.2 375.4 L275.2 380.6 L287.1 404.3 L276.9 431.4 L271.8 438.2 L255.0 425.0 L170.0 410.0 L-3.0 140.0Z M282.0 462.0 C283.4 452.1 300.3 459.6 312.5 467.0 C324.7 474.5 331.5 486.7 343.0 499.3 C354.6 511.8 364.7 518.9 370.2 529.8 C375.6 540.6 375.6 544.0 370.2 553.5 C364.7 563.0 351.9 575.9 343.0 577.2 C334.2 578.6 333.6 572.5 326.1 560.3 C318.6 548.1 314.6 535.9 305.7 516.2 C296.9 496.5 280.7 471.8 282.0 462.0Z"/></clipPath>
<g clip-path="url(#bande)"><g filter="url(#cmN2)"><rect x="-5" y="-5" width="570" height="762" fill="#4b4b4b"/>
<path d="M14.6 142.8 C19.0 131.9 19.0 138.5 34.3 133.0 C49.6 127.5 37.6 126.4 60.5 126.4 C83.4 126.4 86.7 126.4 103.1 133.0 C119.5 139.6 120.6 140.6 109.6 146.1 C98.7 151.6 90.0 143.9 70.3 149.4 C50.7 154.8 61.6 153.7 50.7 162.5 C39.8 171.2 47.4 174.5 37.6 175.6 C27.7 176.7 28.8 176.7 21.2 165.8 C13.6 154.8 10.3 153.7 14.6 142.8Z" fill="#fcfcfc" stroke="#fcfcfc" stroke-width="5" stroke-linejoin="round" filter="url(#b2)"/>
<path d="M67.1 192.0 C69.2 181.0 67.1 182.1 80.2 175.6 C93.3 169.0 95.4 169.0 106.4 172.3 C117.3 175.6 114.0 176.7 112.9 185.4 C111.8 194.2 110.7 190.9 103.1 198.5 C95.4 206.2 99.8 205.1 90.0 208.3 C80.2 211.6 81.3 213.8 73.6 208.3 C66.0 202.9 64.9 202.9 67.1 192.0Z" fill="#fcfcfc" stroke="#fcfcfc" stroke-width="5" stroke-linejoin="round" filter="url(#b2)"/>
<path d="M116.2 224.7 C117.3 214.9 118.4 214.9 126.0 208.3 C133.7 201.8 131.5 199.6 139.1 205.1 C146.8 210.5 144.6 212.7 149.0 224.7 C153.3 236.7 156.6 234.6 152.2 241.1 C147.9 247.7 145.7 245.5 135.9 244.4 C126.0 243.3 129.3 244.4 122.7 237.8 C116.2 231.3 115.1 234.6 116.2 224.7Z" fill="#fcfcfc" stroke="#fcfcfc" stroke-width="5" stroke-linejoin="round" filter="url(#b2)"/>
<ellipse cx="88.4" cy="247.7" rx="7.5" ry="13.5" transform="rotate(0 88.4 247.7)" fill="#fcfcfc" filter="url(#b1_5)"/>
<ellipse cx="122.7" cy="257.5" rx="10.5" ry="11.5" transform="rotate(0 122.7 257.5)" fill="#fcfcfc" filter="url(#b1_5)"/>
<ellipse cx="168.6" cy="260.8" rx="11.5" ry="15.5" transform="rotate(-10 168.6 260.8)" fill="#fcfcfc" filter="url(#b1_5)"/>
<ellipse cx="135.9" cy="336.1" rx="7.5" ry="9.5" transform="rotate(0 135.9 336.1)" fill="#fcfcfc" filter="url(#b1_5)"/>
<ellipse cx="178.4" cy="329.6" rx="8.5" ry="12.5" transform="rotate(-20 178.4 329.6)" fill="#fcfcfc" filter="url(#b1_5)"/>
<ellipse cx="191.5" cy="344.3" rx="7.5" ry="8.5" transform="rotate(0 191.5 344.3)" fill="#fcfcfc" filter="url(#b1_5)"/>
<ellipse cx="152.2" cy="323.0" rx="6.5" ry="10.5" transform="rotate(0 152.2 323.0)" fill="#fcfcfc" filter="url(#b1_5)"/>
<ellipse cx="76.9" cy="159.2" rx="7.5" ry="8.5" transform="rotate(0 76.9 159.2)" fill="#fcfcfc" filter="url(#b1_5)"/>
<ellipse cx="106.4" cy="223.1" rx="6.5" ry="7.5" transform="rotate(0 106.4 223.1)" fill="#fcfcfc" filter="url(#b1_5)"/>
<path d="M165.3 303.3 C167.5 295.2 167.5 293.5 178.4 290.2 C189.4 287.0 189.4 288.1 198.1 293.5 C206.8 299.0 206.8 298.4 204.6 306.6 C202.5 314.8 202.5 315.4 191.5 318.1 C180.6 320.8 180.6 319.7 171.9 314.8 C163.2 309.9 163.2 311.5 165.3 303.3Z" fill="#fcfcfc" stroke="#fcfcfc" stroke-width="5" stroke-linejoin="round" filter="url(#b2)"/>
<path d="M171.9 388.5 C179.1 386.8 167.5 378.7 185.0 372.1 C202.5 365.6 200.3 366.7 224.3 368.9 C248.3 371.1 242.9 372.1 257.1 378.7 C271.3 385.2 263.7 381.1 266.9 388.5 C270.1 395.9 269.6 390.0 266.8 400.9 C263.9 411.8 272.4 416.7 258.3 421.3 C244.1 425.8 244.7 419.0 224.4 414.5 C204.0 410.0 213.1 415.6 197.2 407.7 C181.4 399.8 188.2 400.9 176.9 390.7 C165.6 380.6 165.0 377.9 163.3 377.2 C161.7 376.4 164.7 390.2 171.9 388.5Z" fill="#fcfcfc" stroke="#fcfcfc" stroke-width="5" stroke-linejoin="round" filter="url(#b2)"/>
<ellipse cx="183.7" cy="404.3" rx="15.0" ry="9.0" transform="rotate(10 183.7 404.3)" fill="#030303" filter="url(#b2)"/>
<ellipse cx="270.1" cy="414.5" rx="6.5" ry="12.5" transform="rotate(0 270.1 414.5)" fill="#fcfcfc" filter="url(#b1_5)"/>
<ellipse cx="302.4" cy="478.9" rx="9.5" ry="10.5" transform="rotate(30 302.4 478.9)" fill="#fcfcfc" filter="url(#b1_5)"/>
<ellipse cx="319.3" cy="506.0" rx="10.5" ry="17.5" transform="rotate(-5 319.3 506.0)" fill="#fcfcfc" filter="url(#b1_5)"/>
<ellipse cx="346.4" cy="523.0" rx="10.5" ry="22.5" transform="rotate(-5 346.4 523.0)" fill="#fcfcfc" filter="url(#b1_5)"/>
<ellipse cx="93.3" cy="277.1" rx="10.0" ry="8.0" transform="rotate(0 93.3 277.1)" fill="#030303" filter="url(#b3)"/>
<ellipse cx="126.0" cy="300.1" rx="8.0" ry="10.0" transform="rotate(0 126.0 300.1)" fill="#030303" filter="url(#b3)"/>
<ellipse cx="96.5" cy="162.5" rx="6.0" ry="5.0" transform="rotate(0 96.5 162.5)" fill="#0a0a0a" filter="url(#b2)"/>
<ellipse cx="60.5" cy="188.7" rx="4.0" ry="10.0" transform="rotate(20 60.5 188.7)" fill="#dbdbdb" filter="url(#b2)"/>
<ellipse cx="103.1" cy="198.5" rx="8.0" ry="5.0" transform="rotate(-30 103.1 198.5)" fill="#adadad" filter="url(#b2)"/>
<ellipse cx="207.9" cy="349.2" rx="5.0" ry="9.0" transform="rotate(0 207.9 349.2)" fill="#cecece" filter="url(#b2)"/>
</g></g>
<g filter="url(#rough)">
<path d="M14.6 142.8 C19.0 131.9 19.0 138.5 34.3 133.0 C49.6 127.5 37.6 126.4 60.5 126.4 C83.4 126.4 86.7 126.4 103.1 133.0 C119.5 139.6 120.6 140.6 109.6 146.1 C98.7 151.6 90.0 143.9 70.3 149.4 C50.7 154.8 61.6 153.7 50.7 162.5 C39.8 171.2 47.4 174.5 37.6 175.6 C27.7 176.7 28.8 176.7 21.2 165.8 C13.6 154.8 10.3 153.7 14.6 142.8Z" fill="#e2add2"/>
<path d="M67.1 192.0 C69.2 181.0 67.1 182.1 80.2 175.6 C93.3 169.0 95.4 169.0 106.4 172.3 C117.3 175.6 114.0 176.7 112.9 185.4 C111.8 194.2 110.7 190.9 103.1 198.5 C95.4 206.2 99.8 205.1 90.0 208.3 C80.2 211.6 81.3 213.8 73.6 208.3 C66.0 202.9 64.9 202.9 67.1 192.0Z" fill="#e2add2"/>
<path d="M116.2 224.7 C117.3 214.9 118.4 214.9 126.0 208.3 C133.7 201.8 131.5 199.6 139.1 205.1 C146.8 210.5 144.6 212.7 149.0 224.7 C153.3 236.7 156.6 234.6 152.2 241.1 C147.9 247.7 145.7 245.5 135.9 244.4 C126.0 243.3 129.3 244.4 122.7 237.8 C116.2 231.3 115.1 234.6 116.2 224.7Z" fill="#e2add2"/>
<ellipse cx="88.4" cy="247.7" rx="5.0" ry="11.0" transform="rotate(0 88.4 247.7)" fill="#e2add2"/>
<ellipse cx="122.7" cy="257.5" rx="8.0" ry="9.0" transform="rotate(0 122.7 257.5)" fill="#e2add2"/>
<ellipse cx="168.6" cy="260.8" rx="9.0" ry="13.0" transform="rotate(-10 168.6 260.8)" fill="#e2add2"/>
<ellipse cx="135.9" cy="336.1" rx="5.0" ry="7.0" transform="rotate(0 135.9 336.1)" fill="#e2add2"/>
<ellipse cx="178.4" cy="329.6" rx="6.0" ry="10.0" transform="rotate(-20 178.4 329.6)" fill="#e2add2"/>
<ellipse cx="191.5" cy="344.3" rx="5.0" ry="6.0" transform="rotate(0 191.5 344.3)" fill="#e2add2"/>
<ellipse cx="152.2" cy="323.0" rx="4.0" ry="8.0" transform="rotate(0 152.2 323.0)" fill="#e2add2"/>
<ellipse cx="76.9" cy="159.2" rx="5.0" ry="6.0" transform="rotate(0 76.9 159.2)" fill="#e2add2"/>
<ellipse cx="106.4" cy="223.1" rx="4.0" ry="5.0" transform="rotate(0 106.4 223.1)" fill="#e2add2"/>
<path d="M165.3 303.3 C167.5 295.2 167.5 293.5 178.4 290.2 C189.4 287.0 189.4 288.1 198.1 293.5 C206.8 299.0 206.8 298.4 204.6 306.6 C202.5 314.8 202.5 315.4 191.5 318.1 C180.6 320.8 180.6 319.7 171.9 314.8 C163.2 309.9 163.2 311.5 165.3 303.3Z" fill="#e2add2"/>
<path d="M171.9 388.5 C179.1 386.8 167.5 378.7 185.0 372.1 C202.5 365.6 200.3 366.7 224.3 368.9 C248.3 371.1 242.9 372.1 257.1 378.7 C271.3 385.2 263.7 381.1 266.9 388.5 C270.1 395.9 269.6 390.0 266.8 400.9 C263.9 411.8 272.4 416.7 258.3 421.3 C244.1 425.8 244.7 419.0 224.4 414.5 C204.0 410.0 213.1 415.6 197.2 407.7 C181.4 399.8 188.2 400.9 176.9 390.7 C165.6 380.6 165.0 377.9 163.3 377.2 C161.7 376.4 164.7 390.2 171.9 388.5Z" fill="#e2add2"/>
<ellipse cx="183.7" cy="404.3" rx="13.0" ry="7.0" transform="rotate(10 183.7 404.3)" fill="#3b50a3"/>
<ellipse cx="270.1" cy="414.5" rx="4.0" ry="10.0" transform="rotate(0 270.1 414.5)" fill="#e2add2"/>
<ellipse cx="302.4" cy="478.9" rx="7.0" ry="8.0" transform="rotate(30 302.4 478.9)" fill="#e2add2"/>
<ellipse cx="319.3" cy="506.0" rx="8.0" ry="15.0" transform="rotate(-5 319.3 506.0)" fill="#e2add2"/>
<ellipse cx="346.4" cy="523.0" rx="8.0" ry="20.0" transform="rotate(-5 346.4 523.0)" fill="#e2add2"/>
</g>
</g>
<g id="mapf" clip-path="url(#cpPoly)">
<g filter="url(#cm)"><rect x="-5" y="-5" width="570" height="762" fill="#808080"/>
<ellipse cx="266.2" cy="117.9" rx="6.0" ry="13.0" transform="rotate(-10 266.2 117.9)" fill="#4b4b4b" filter="url(#b3)"/>
<ellipse cx="205.2" cy="46.7" rx="4.0" ry="6.0" transform="rotate(0 205.2 46.7)" fill="#585858" filter="url(#b2)"/>
<path d="M201.8 67.0 C213.1 74.9 224.4 82.8 235.7 90.7" fill="none" stroke="#525252" stroke-width="5" stroke-linecap="round" stroke-linejoin="round" filter="url(#b2_5)"/>
<path d="M188.3 63.6 C201.8 76.0 215.4 88.5 228.9 100.9" fill="none" stroke="#a0a0a0" stroke-width="3" stroke-linecap="round" stroke-linejoin="round" filter="url(#b1_5)"/>
<ellipse cx="278.1" cy="116.2" rx="4.0" ry="8.0" transform="rotate(0 278.1 116.2)" fill="#a0a0a0" filter="url(#b2)"/>
<path d="M256.1 94.1 C259.5 110.0 262.9 125.8 266.2 141.6" fill="none" stroke="#6c6c6c" stroke-width="6" stroke-linecap="round" stroke-linejoin="round" filter="url(#b3)"/>
<ellipse cx="300.2" cy="141.6" rx="4.0" ry="10.0" transform="rotate(-15 300.2 141.6)" fill="#727272" filter="url(#b3)"/>
<ellipse cx="368.0" cy="331.5" rx="3.0" ry="10.0" transform="rotate(-20 368.0 331.5)" fill="#727272" filter="url(#b2)"/>
<ellipse cx="390.0" cy="365.4" rx="5.0" ry="12.0" transform="rotate(-25 390.0 365.4)" fill="#585858" filter="url(#b3)"/>
<ellipse cx="101.8" cy="290.8" rx="5.0" ry="9.0" transform="rotate(-25 101.8 290.8)" fill="#2a2a2a" filter="url(#b2)"/>
<ellipse cx="98.4" cy="287.4" rx="2.5" ry="2.5" transform="rotate(0 98.4 287.4)" fill="#030303" filter="url(#b1)"/>
<ellipse cx="113.7" cy="302.7" rx="5.0" ry="3.0" transform="rotate(0 113.7 302.7)" fill="#c7c7c7" filter="url(#b1_5)"/>
<ellipse cx="298.5" cy="489.4" rx="3.0" ry="6.0" transform="rotate(-25 298.5 489.4)" fill="#f5f5f5" filter="url(#b1_5)"/>
<ellipse cx="301.8" cy="500.6" rx="2.0" ry="3.0" transform="rotate(0 301.8 500.6)" fill="#030303" filter="url(#b1)"/>
<ellipse cx="176.4" cy="406.3" rx="4.0" ry="3.0" transform="rotate(0 176.4 406.3)" fill="#2a2a2a" filter="url(#b1_5)"/>
</g>
<clipPath id="bandf"><path d="M51.1 108.0 C81.6 88.1 149.3 46.2 181.7 43.0 C214.1 39.8 183.4 71.3 190.2 94.3 C196.9 117.4 201.0 118.9 210.5 141.8 C220.0 164.7 222.1 175.3 230.8 192.7 C239.5 210.1 239.1 207.7 247.8 216.4 C256.5 225.1 257.9 222.1 268.1 230.0 C278.4 237.9 281.6 242.4 291.9 250.3 C302.2 258.2 303.5 254.4 312.2 263.9 C320.9 273.4 322.2 278.7 329.2 291.0 C336.1 303.3 338.6 302.5 342.1 316.7 C345.6 330.9 341.8 335.4 344.1 351.9 C346.3 368.3 346.4 377.0 351.9 387.0 C357.3 397.1 362.9 388.5 367.5 394.8 C372.1 401.2 368.7 403.9 371.4 414.4 C374.1 424.9 376.5 426.1 379.2 439.8 C382.0 453.5 378.6 462.5 383.1 473.0 C387.7 483.5 390.1 480.2 398.8 484.7 C407.4 489.3 410.4 481.5 420.3 492.5 C430.1 503.6 431.5 515.6 441.1 532.0 C450.7 548.3 453.5 548.2 461.4 562.5 C469.3 576.7 471.0 577.2 475.0 593.0 C478.9 608.8 476.0 612.1 478.4 630.3 C480.7 648.5 482.8 657.5 485.2 671.0 C487.5 684.4 490.9 678.5 488.5 687.9 C486.2 697.4 480.5 703.0 475.0 711.7 C469.4 720.4 473.0 714.9 464.8 725.2 C456.6 735.6 450.5 748.8 440.0 756.0 C429.5 763.2 445.7 795.9 420.0 756.0 C394.3 716.1 349.8 627.2 330.0 585.0 C310.2 542.8 331.2 581.8 335.0 575.0 C338.8 568.2 338.8 561.8 346.1 555.7 C353.5 549.6 360.1 558.4 366.5 548.9 C372.8 539.4 374.4 530.4 373.3 515.0 C372.1 499.6 368.9 492.6 361.6 482.8 C354.4 473.0 351.2 479.8 342.1 473.0 C333.0 466.2 333.5 455.3 322.6 453.5 C311.6 451.6 303.9 465.2 295.2 465.2 C286.5 465.2 287.3 463.5 285.4 453.5 C283.6 443.4 283.7 434.1 287.4 422.2 C291.0 410.3 300.2 410.0 301.1 402.7 C302.0 395.4 301.8 396.4 291.3 390.9 C280.8 385.5 270.7 387.4 256.1 379.2 C241.5 371.0 240.6 370.3 228.8 355.8 C216.9 341.2 215.8 334.9 205.3 316.7 C194.8 298.4 190.5 289.9 183.8 277.6 C177.1 265.3 183.0 276.6 176.6 263.9 C170.2 251.2 168.9 243.8 156.2 223.2 C143.6 202.6 138.2 195.5 122.3 175.7 C106.5 155.9 105.0 149.5 88.4 138.4 C71.8 127.3 59.8 135.3 51.1 128.2 C42.4 121.1 20.6 127.9 51.1 108.0Z"/></clipPath>
<g clip-path="url(#bandf)"><g filter="url(#cmN4)"><rect x="-5" y="-5" width="570" height="762" fill="#808080"/>
<path d="M89.9 104.3 C100.1 114.5 102.4 108.8 120.4 134.8 C138.5 160.8 126.1 156.3 144.2 182.3 C162.3 208.3 157.7 194.7 174.7 212.8 C191.6 230.9 179.2 219.6 195.0 236.5 C210.9 253.5 213.1 254.6 222.2 263.7" fill="none" stroke="#a7a7a7" stroke-width="15" stroke-linecap="round" stroke-linejoin="round" filter="url(#b5)"/>
<path d="M96.7 94.1 C102.4 103.2 108.0 112.2 113.7 121.3" fill="none" stroke="#b4b4b4" stroke-width="14" stroke-linecap="round" stroke-linejoin="round" filter="url(#b4)"/>
<ellipse cx="93.3" cy="133.1" rx="19.0" ry="7.5" transform="rotate(8 93.3 133.1)" fill="#fcfcfc" filter="url(#b1_5)"/>
<ellipse cx="127.2" cy="158.6" rx="4.0" ry="8.0" transform="rotate(-30 127.2 158.6)" fill="#e2e2e2" filter="url(#b2)"/>
<ellipse cx="179.8" cy="89.0" rx="4.0" ry="5.0" transform="rotate(0 179.8 89.0)" fill="#d4d4d4" filter="url(#b2)"/>
<ellipse cx="159.4" cy="72.1" rx="16.0" ry="13.0" transform="rotate(0 159.4 72.1)" fill="#171717" filter="url(#b3)"/>
<ellipse cx="171.3" cy="148.4" rx="14.0" ry="16.0" transform="rotate(0 171.3 148.4)" fill="#454545" filter="url(#b2_5)"/>
<ellipse cx="134.0" cy="90.7" rx="8.0" ry="10.0" transform="rotate(0 134.0 90.7)" fill="#454545" filter="url(#b2_5)"/>
<ellipse cx="184.9" cy="189.1" rx="6.0" ry="5.0" transform="rotate(0 184.9 189.1)" fill="#454545" filter="url(#b2_5)"/>
<ellipse cx="222.2" cy="209.4" rx="5.0" ry="8.0" transform="rotate(0 222.2 209.4)" fill="#454545" filter="url(#b2_5)"/>
<ellipse cx="56.0" cy="112.8" rx="6.0" ry="6.0" transform="rotate(0 56.0 112.8)" fill="#4b4b4b" filter="url(#b2_5)"/>
<ellipse cx="127.2" cy="177.2" rx="5.0" ry="6.0" transform="rotate(0 127.2 177.2)" fill="#4b4b4b" filter="url(#b2_5)"/>
<ellipse cx="161.1" cy="214.5" rx="5.0" ry="6.0" transform="rotate(0 161.1 214.5)" fill="#4b4b4b" filter="url(#b2_5)"/>
<ellipse cx="222.2" cy="324.7" rx="8.0" ry="14.0" transform="rotate(-30 222.2 324.7)" fill="#454545" filter="url(#b2_5)"/>
<ellipse cx="249.3" cy="246.7" rx="10.0" ry="10.0" transform="rotate(0 249.3 246.7)" fill="#4b4b4b" filter="url(#b2_5)"/>
<ellipse cx="317.1" cy="290.8" rx="8.0" ry="10.0" transform="rotate(0 317.1 290.8)" fill="#454545" filter="url(#b2_5)"/>
<ellipse cx="174.7" cy="256.9" rx="7.0" ry="16.0" transform="rotate(-25 174.7 256.9)" fill="#383838" filter="url(#b2_5)"/>
<ellipse cx="290.0" cy="263.7" rx="6.0" ry="6.0" transform="rotate(0 290.0 263.7)" fill="#525252" filter="url(#b2_5)"/>
<ellipse cx="235.7" cy="223.0" rx="5.0" ry="6.0" transform="rotate(0 235.7 223.0)" fill="#525252" filter="url(#b2_5)"/>
<ellipse cx="66.2" cy="111.1" rx="9.0" ry="5.0" transform="rotate(-25 66.2 111.1)" fill="#a7a7a7" filter="url(#b3)"/>
<ellipse cx="100.1" cy="104.3" rx="8.0" ry="10.0" transform="rotate(0 100.1 104.3)" fill="#adadad" filter="url(#b3)"/>
<ellipse cx="162.8" cy="231.5" rx="5.0" ry="4.0" transform="rotate(0 162.8 231.5)" fill="#dbdbdb" filter="url(#b2)"/>
<ellipse cx="188.3" cy="253.5" rx="3.0" ry="7.0" transform="rotate(-20 188.3 253.5)" fill="#e2e2e2" filter="url(#b1_5)"/>
<ellipse cx="200.1" cy="290.8" rx="8.0" ry="12.0" transform="rotate(0 200.1 290.8)" fill="#171717" filter="url(#b2_5)"/>
<path d="M205.2 270.5 C209.7 273.8 214.8 271.6 218.8 280.6 C222.7 289.7 221.0 287.4 217.1 297.6 C213.1 307.7 210.3 306.6 206.9 311.1" fill="none" stroke="#efefef" stroke-width="6" stroke-linecap="round" stroke-linejoin="round" filter="url(#b2)"/>
<ellipse cx="276.4" cy="290.8" rx="15.0" ry="8.0" transform="rotate(-30 276.4 290.8)" fill="#a7a7a7" filter="url(#b3)"/>
<ellipse cx="252.7" cy="311.1" rx="5.0" ry="5.0" transform="rotate(0 252.7 311.1)" fill="#cecece" filter="url(#b2)"/>
<ellipse cx="271.3" cy="338.3" rx="4.0" ry="4.0" transform="rotate(0 271.3 338.3)" fill="#d4d4d4" filter="url(#b2)"/>
<ellipse cx="247.6" cy="362.0" rx="7.5" ry="8.5" transform="rotate(0 247.6 362.0)" fill="#fcfcfc" filter="url(#b1_5)"/>
<ellipse cx="327.3" cy="356.9" rx="6.5" ry="10.5" transform="rotate(-20 327.3 356.9)" fill="#fcfcfc" filter="url(#b1_5)"/>
<ellipse cx="310.3" cy="379.0" rx="7.5" ry="7.5" transform="rotate(0 310.3 379.0)" fill="#fcfcfc" filter="url(#b1_5)"/>
<path d="M222.2 229.8 C228.9 238.8 224.4 238.8 242.5 256.9 C260.6 275.0 253.8 259.1 276.4 284.0 C299.0 308.9 299.0 315.7 310.3 331.5" fill="none" stroke="#9a9a9a" stroke-width="12" stroke-linecap="round" stroke-linejoin="round" filter="url(#b5)"/>
<path d="M290.0 365.4 C299.0 358.6 308.1 351.8 317.1 345.0" fill="none" stroke="#cecece" stroke-width="5" stroke-linecap="round" stroke-linejoin="round" filter="url(#b2)"/>
<ellipse cx="310.3" cy="443.6" rx="25.0" ry="16.0" transform="rotate(-20 310.3 443.6)" fill="#313131" filter="url(#b4)"/>
<ellipse cx="300.8" cy="447.7" rx="8.0" ry="11.0" transform="rotate(0 300.8 447.7)" fill="#030303" filter="url(#b2)"/>
<ellipse cx="347.6" cy="457.2" rx="12.0" ry="9.0" transform="rotate(0 347.6 457.2)" fill="#242424" filter="url(#b3)"/>
<ellipse cx="310.3" cy="461.2" rx="5.0" ry="3.0" transform="rotate(0 310.3 461.2)" fill="#d4d4d4" filter="url(#b1_5)"/>
<path d="M290.0 386.0 C296.8 376.9 303.5 379.2 323.9 392.7 C344.2 406.3 344.2 399.5 351.0 426.7 C357.8 453.8 353.3 458.3 344.2 474.1 C335.2 489.9 337.5 492.2 323.9 474.1 C310.3 456.0 314.8 449.3 303.5 419.9 C292.2 390.5 283.2 395.0 290.0 386.0Z" fill="#454545" filter="url(#b5)"/>
<path d="M364.6 423.3 C366.3 434.6 366.3 432.3 369.7 457.2 C373.1 482.0 373.1 484.3 374.8 497.9" fill="none" stroke="#fcfcfc" stroke-width="12" stroke-linecap="round" stroke-linejoin="round" filter="url(#b2_5)"/>
<path d="M379.8 514.8 C380.4 530.6 381.0 546.5 381.5 562.3" fill="none" stroke="#fcfcfc" stroke-width="15" stroke-linecap="round" stroke-linejoin="round" filter="url(#b2_5)"/>
<ellipse cx="408.7" cy="521.6" rx="9.5" ry="18.5" transform="rotate(15 408.7 521.6)" fill="#fcfcfc" filter="url(#b1_5)"/>
<ellipse cx="386.6" cy="582.6" rx="9.0" ry="11.5" transform="rotate(0 386.6 582.6)" fill="#fcfcfc" filter="url(#b1_5)"/>
<ellipse cx="446.0" cy="553.8" rx="6.0" ry="9.5" transform="rotate(10 446.0 553.8)" fill="#fcfcfc" filter="url(#b1_5)"/>
<ellipse cx="359.5" cy="402.9" rx="6.5" ry="7.5" transform="rotate(0 359.5 402.9)" fill="#fcfcfc" filter="url(#b1_5)"/>
<ellipse cx="430.7" cy="555.5" rx="10.0" ry="17.0" transform="rotate(0 430.7 555.5)" fill="#030303" filter="url(#b2_5)"/>
<ellipse cx="461.2" cy="674.2" rx="6.0" ry="12.0" transform="rotate(5 461.2 674.2)" fill="#030303" filter="url(#b2)"/>
<path d="M374.8 609.8 C383.8 604.7 384.9 600.7 401.9 594.5 C418.8 588.3 417.7 592.2 425.6 591.1" fill="none" stroke="#1d1d1d" stroke-width="6" stroke-linecap="round" stroke-linejoin="round" filter="url(#b2)"/>
<ellipse cx="478.2" cy="643.7" rx="4.0" ry="10.0" transform="rotate(0 478.2 643.7)" fill="#242424" filter="url(#b2)"/>
<ellipse cx="349.3" cy="416.5" rx="4.0" ry="5.0" transform="rotate(0 349.3 416.5)" fill="#242424" filter="url(#b2)"/>
<path d="M347.6 575.8 C354.4 560.0 353.3 562.3 378.1 562.3 C403.0 562.3 392.8 566.8 422.2 575.8 C451.6 584.9 448.2 575.8 466.3 589.4 C484.4 603.0 470.8 583.8 476.5 616.5 C482.1 649.3 486.6 656.1 483.3 687.7 C479.9 719.4 481.0 703.6 466.3 711.5 C451.6 719.4 442.6 722.8 439.2 711.5 C435.8 700.2 449.3 704.7 456.1 677.6 C462.9 650.4 469.7 655.0 459.5 630.1 C449.3 605.2 452.7 607.5 425.6 603.0 C398.5 598.5 400.7 614.3 378.1 616.5 C355.5 618.8 368.0 623.3 357.8 609.8 C347.6 596.2 340.8 591.7 347.6 575.8Z" fill="#484848" filter="url(#b4)"/>
<path d="M381.5 623.3 C387.2 605.2 389.4 616.5 408.7 609.8 C427.9 603.0 425.6 596.2 439.2 603.0 C452.7 609.8 453.9 616.5 449.3 630.1 C444.8 643.7 438.0 627.8 425.6 643.7 C413.2 659.5 413.2 659.5 412.1 677.6 C410.9 695.7 423.4 692.3 422.2 697.9 C421.1 703.6 418.8 705.8 408.7 694.5 C398.5 683.2 400.7 687.7 391.7 664.0 C382.7 640.3 375.9 641.4 381.5 623.3Z" fill="#a7a7a7" filter="url(#b5)"/>
<path d="M412.1 640.3 C415.4 629.0 422.2 624.4 435.8 623.3 C449.3 622.2 444.8 623.3 452.7 636.9 C460.7 650.4 460.7 645.9 459.5 664.0 C458.4 682.1 461.8 679.8 449.3 691.1 C436.9 702.4 432.4 702.4 422.2 697.9 C412.1 693.4 417.7 691.1 418.8 677.6 C420.0 664.0 427.9 669.7 425.6 657.2 C423.4 644.8 408.7 651.6 412.1 640.3Z" fill="#e2e2e2" filter="url(#b3)"/>
<ellipse cx="446.0" cy="735.2" rx="20.0" ry="13.0" transform="rotate(-25 446.0 735.2)" fill="#a7a7a7" filter="url(#b4)"/>
<ellipse cx="446.0" cy="736.9" rx="11.0" ry="7.0" transform="rotate(-25 446.0 736.9)" fill="#e2e2e2" filter="url(#b2)"/>
<ellipse cx="361.2" cy="562.3" rx="6.0" ry="9.0" transform="rotate(-20 361.2 562.3)" fill="#d4d4d4" filter="url(#b2)"/>
<ellipse cx="473.1" cy="664.0" rx="3.0" ry="5.0" transform="rotate(0 473.1 664.0)" fill="#efefef" filter="url(#b1_5)"/>
<ellipse cx="468.0" cy="575.8" rx="3.0" ry="4.0" transform="rotate(0 468.0 575.8)" fill="#d4d4d4" filter="url(#b1_5)"/>
<ellipse cx="401.9" cy="555.5" rx="14.0" ry="18.0" transform="rotate(0 401.9 555.5)" fill="#bababa" filter="url(#b4)"/>
<ellipse cx="374.8" cy="569.1" rx="10.0" ry="8.0" transform="rotate(0 374.8 569.1)" fill="#c7c7c7" filter="url(#b3)"/>
</g></g>
<g filter="url(#rough)">
<ellipse cx="93.3" cy="133.1" rx="16.0" ry="4.5" transform="rotate(8 93.3 133.1)" fill="#e2add2"/>
<ellipse cx="157.7" cy="76.5" rx="11.0" ry="6.0" transform="rotate(-10 157.7 76.5)" fill="#3b50a3"/>
<ellipse cx="166.2" cy="64.3" rx="3.0" ry="5.0" transform="rotate(0 166.2 64.3)" fill="#3b50a3"/>
<ellipse cx="200.1" cy="290.1" rx="3.0" ry="5.0" transform="rotate(0 200.1 290.1)" fill="#3b50a3"/>
<path d="M206.9 271.1 C210.3 274.1 213.7 277.0 217.1 279.9" fill="none" stroke="#e2add2" stroke-width="4" stroke-linecap="round" stroke-linejoin="round"/>
<ellipse cx="247.6" cy="362.0" rx="5.0" ry="6.0" transform="rotate(0 247.6 362.0)" fill="#e2add2"/>
<ellipse cx="327.3" cy="356.9" rx="4.0" ry="8.0" transform="rotate(-20 327.3 356.9)" fill="#e2add2"/>
<ellipse cx="310.3" cy="379.0" rx="5.0" ry="5.0" transform="rotate(0 310.3 379.0)" fill="#e2add2"/>
<ellipse cx="300.8" cy="447.7" rx="5.0" ry="8.0" transform="rotate(0 300.8 447.7)" fill="#3b50a3"/>
<ellipse cx="329.0" cy="426.7" rx="5.0" ry="4.0" transform="rotate(0 329.0 426.7)" fill="#3b50a3"/>
<path d="M364.6 423.3 C366.3 434.6 366.3 432.3 369.7 457.2 C373.1 482.0 373.1 484.3 374.8 497.9" fill="none" stroke="#e2add2" stroke-width="7" stroke-linecap="round" stroke-linejoin="round"/>
<path d="M379.8 514.8 C380.4 530.6 381.0 546.5 381.5 562.3" fill="none" stroke="#e2add2" stroke-width="10" stroke-linecap="round" stroke-linejoin="round"/>
<ellipse cx="408.7" cy="521.6" rx="7.0" ry="16.0" transform="rotate(15 408.7 521.6)" fill="#e2add2"/>
<ellipse cx="386.6" cy="582.6" rx="6.5" ry="9.0" transform="rotate(0 386.6 582.6)" fill="#e2add2"/>
<ellipse cx="446.0" cy="553.8" rx="3.5" ry="7.0" transform="rotate(10 446.0 553.8)" fill="#e2add2"/>
<ellipse cx="359.5" cy="402.9" rx="4.0" ry="5.0" transform="rotate(0 359.5 402.9)" fill="#e2add2"/>
<ellipse cx="430.7" cy="555.5" rx="6.5" ry="13.0" transform="rotate(0 430.7 555.5)" fill="#3b50a3"/>
<ellipse cx="461.2" cy="674.2" rx="3.5" ry="9.0" transform="rotate(5 461.2 674.2)" fill="#3b50a3"/>
<ellipse cx="427.3" cy="523.3" rx="2.5" ry="4.0" transform="rotate(0 427.3 523.3)" fill="#3b50a3"/>
<path d="M396.8 595.5 C400.7 594.8 404.7 594.2 408.7 593.5" fill="none" stroke="#3b50a3" stroke-width="3" stroke-linecap="round" stroke-linejoin="round"/>
<ellipse cx="433.1" cy="635.2" rx="14.0" ry="8.0" transform="rotate(-25 433.1 635.2)" fill="#e2add2"/>
<ellipse cx="440.9" cy="670.8" rx="11.0" ry="29.0" transform="rotate(17 440.9 670.8)" fill="#e2add2"/>
<ellipse cx="444.3" cy="740.3" rx="4.0" ry="2.5" transform="rotate(-25 444.3 740.3)" fill="#e2add2"/>
</g>
</g>
<g id="mapg" clip-path="url(#cpPoly)">
<g filter="url(#cm)"><rect x="-5" y="-5" width="570" height="762" fill="#808080"/>
<path d="M206.7 48.9 C210.1 56.8 206.7 60.2 216.9 72.7 C227.0 85.1 230.4 81.7 237.2 86.2" fill="none" stroke="#585858" stroke-width="6" stroke-linecap="round" stroke-linejoin="round" filter="url(#b3)"/>
<ellipse cx="264.3" cy="116.7" rx="5.0" ry="18.0" transform="rotate(-5 264.3 116.7)" fill="#525252" filter="url(#b3)"/>
<ellipse cx="281.3" cy="113.4" rx="4.0" ry="7.0" transform="rotate(0 281.3 113.4)" fill="#9a9a9a" filter="url(#b2)"/>
<path d="M186.4 62.5 C198.8 73.8 204.4 79.4 223.7 96.4 C242.9 113.4 237.2 107.7 244.0 113.4" fill="none" stroke="#9a9a9a" stroke-width="3" stroke-linecap="round" stroke-linejoin="round" filter="url(#b1_5)"/>
<ellipse cx="159.2" cy="76.1" rx="10.0" ry="8.0" transform="rotate(0 159.2 76.1)" fill="#727272" filter="url(#b4)"/>
<ellipse cx="196.5" cy="103.2" rx="8.0" ry="5.0" transform="rotate(30 196.5 103.2)" fill="#727272" filter="url(#b3)"/>
<ellipse cx="210.1" cy="140.5" rx="3.0" ry="10.0" transform="rotate(0 210.1 140.5)" fill="#727272" filter="url(#b3)"/>
<ellipse cx="391.5" cy="364.3" rx="5.0" ry="14.0" transform="rotate(-25 391.5 364.3)" fill="#585858" filter="url(#b3)"/>
<ellipse cx="366.1" cy="330.4" rx="3.0" ry="8.0" transform="rotate(-20 366.1 330.4)" fill="#6c6c6c" filter="url(#b2_5)"/>
<ellipse cx="393.2" cy="398.4" rx="8.0" ry="14.0" transform="rotate(-25 393.2 398.4)" fill="#696969" filter="url(#b5)"/>
<ellipse cx="447.4" cy="483.2" rx="6.0" ry="16.0" transform="rotate(-25 447.4 483.2)" fill="#727272" filter="url(#b5)"/>
<ellipse cx="474.6" cy="527.3" rx="5.0" ry="10.0" transform="rotate(-25 474.6 527.3)" fill="#727272" filter="url(#b5)"/>
<ellipse cx="430.5" cy="554.4" rx="7.0" ry="12.0" transform="rotate(-25 430.5 554.4)" fill="#767676" filter="url(#b5)"/>
<ellipse cx="478.0" cy="635.8" rx="7.0" ry="30.0" transform="rotate(-25 478.0 635.8)" fill="#767676" filter="url(#b5)"/>
<ellipse cx="467.8" cy="696.8" rx="9.0" ry="12.0" transform="rotate(-25 467.8 696.8)" fill="#787878" filter="url(#b5)"/>
</g>
<clipPath id="bandg"><path d="M20.6 124.0 C40.3 112.5 96.5 75.4 118.9 76.0 C141.3 76.6 127.1 109.9 132.5 126.8 C137.9 143.8 137.3 143.8 146.1 160.7 C154.9 177.7 166.4 198.0 176.6 211.6 C186.8 225.1 188.8 222.4 196.9 228.5 C205.1 234.6 211.9 235.3 217.3 242.1 C222.7 248.9 220.0 255.0 224.1 262.4 C228.1 269.9 228.8 273.3 237.6 279.4 C246.4 285.5 257.3 288.2 268.1 293.0 C279.0 297.7 285.1 295.7 291.9 303.1 C298.7 310.6 300.0 319.4 302.1 330.3 C304.1 341.1 301.4 349.2 302.1 357.4 C302.7 365.6 303.4 358.3 305.4 371.2 C307.5 384.1 305.4 406.5 312.2 422.1 C319.0 437.7 329.9 439.0 339.4 449.2 C348.8 459.4 351.6 463.4 359.7 472.9 C367.8 482.4 373.3 484.5 380.0 496.7 C386.8 508.9 389.5 518.4 393.6 534.0 C397.7 549.6 398.4 561.1 400.4 574.6 C402.4 588.2 397.0 593.0 403.8 601.8 C410.6 610.6 429.5 610.6 434.3 618.7 C439.0 626.9 429.5 630.9 427.5 642.5 C425.5 654.0 424.1 662.8 424.1 676.4 C424.1 689.9 427.5 700.1 427.5 710.3 C427.5 720.5 426.6 721.3 424.1 727.2 C421.6 733.2 420.8 737.4 415.0 740.0 C409.2 742.6 427.0 803.0 395.0 740.0 C363.0 677.0 287.8 489.3 255.0 425.0 C222.2 360.7 240.4 424.7 230.8 418.7 C221.3 412.7 212.5 404.4 207.1 394.9 C201.7 385.4 207.1 377.4 203.7 371.2 C200.3 365.0 198.3 375.1 190.2 364.2 C182.0 353.3 170.5 331.6 163.0 316.7 C155.6 301.8 159.0 303.1 152.9 289.6 C146.8 276.0 148.8 265.2 132.5 248.9 C116.2 232.6 90.5 225.8 71.5 208.2 C52.5 190.6 47.7 175.6 37.6 160.7 C27.4 145.8 24.0 140.9 20.6 133.6 C17.2 126.3 0.9 135.5 20.6 124.0Z"/></clipPath>
<g clip-path="url(#bandg)"><g filter="url(#cmN3)"><rect x="-5" y="-5" width="570" height="762" fill="#808080"/>
<path d="M40.6 140.5 C42.8 133.1 38.3 134.8 54.1 130.3 C69.9 125.8 68.8 126.4 88.0 126.9 C107.2 127.5 98.2 124.1 111.8 132.0 C125.3 139.9 119.7 136.5 128.7 150.7 C137.8 164.8 137.8 165.9 138.9 174.4 C140.0 182.9 138.9 182.9 132.1 176.1 C125.3 169.3 128.7 164.8 118.5 154.0 C108.4 143.3 117.4 146.1 101.6 143.9 C85.8 141.6 89.2 144.4 71.1 147.3 C53.0 150.1 57.5 154.6 47.3 152.3 C37.2 150.1 38.3 147.8 40.6 140.5Z" fill="#fcfcfc" stroke="#fcfcfc" stroke-width="5" stroke-linejoin="round" filter="url(#b2_5)"/>
<path d="M120.2 225.3 C121.4 217.9 121.4 217.3 128.7 208.3 C136.1 199.3 133.8 199.8 142.3 198.1 C150.8 196.4 151.9 196.4 154.1 203.2 C156.4 210.0 155.3 211.1 149.1 218.5 C142.8 225.8 143.4 221.3 135.5 225.3 C127.6 229.2 130.4 230.3 125.3 230.3 C120.2 230.3 119.1 232.6 120.2 225.3Z" fill="#fcfcfc" stroke="#fcfcfc" stroke-width="5" stroke-linejoin="round" filter="url(#b2)"/>
<ellipse cx="140.6" cy="237.1" rx="6.5" ry="10.5" transform="rotate(0 140.6 237.1)" fill="#fcfcfc" filter="url(#b1_5)"/>
<ellipse cx="162.6" cy="233.7" rx="11.5" ry="8.5" transform="rotate(30 162.6 233.7)" fill="#fcfcfc" filter="url(#b1_5)"/>
<ellipse cx="186.4" cy="245.6" rx="7.5" ry="15.5" transform="rotate(-30 186.4 245.6)" fill="#fcfcfc" filter="url(#b1_5)"/>
<ellipse cx="206.7" cy="276.1" rx="8.5" ry="16.5" transform="rotate(-25 206.7 276.1)" fill="#fcfcfc" filter="url(#b1_5)"/>
<ellipse cx="186.4" cy="323.6" rx="7.5" ry="8.5" transform="rotate(0 186.4 323.6)" fill="#fcfcfc" filter="url(#b1_5)"/>
<ellipse cx="216.9" cy="359.2" rx="6.5" ry="9.5" transform="rotate(0 216.9 359.2)" fill="#fcfcfc" filter="url(#b1_5)"/>
<ellipse cx="245.7" cy="366.0" rx="13.5" ry="13.5" transform="rotate(25 245.7 366.0)" fill="#fcfcfc" filter="url(#b1_5)"/>
<ellipse cx="28.7" cy="143.9" rx="6.5" ry="9.5" transform="rotate(0 28.7 143.9)" fill="#fcfcfc" filter="url(#b1_5)"/>
<ellipse cx="76.2" cy="155.7" rx="10.0" ry="10.0" transform="rotate(0 76.2 155.7)" fill="#030303" filter="url(#b2_5)"/>
<path d="M72.8 191.3 C72.2 184.6 69.9 185.1 79.5 179.5 C89.2 173.8 91.4 173.3 101.6 174.4 C111.8 175.5 109.5 177.2 110.1 182.9 C110.6 188.5 109.5 188.5 103.3 191.3 C97.1 194.2 98.8 188.5 91.4 191.3 C84.1 194.2 87.5 199.8 81.2 199.8 C75.0 199.8 73.3 198.1 72.8 191.3Z" fill="#030303" stroke="#030303" stroke-width="6" stroke-linejoin="round" filter="url(#b2_5)"/>
<ellipse cx="171.1" cy="259.2" rx="13.0" ry="18.0" transform="rotate(-20 171.1 259.2)" fill="#030303" filter="url(#b2_5)"/>
<ellipse cx="198.2" cy="293.1" rx="17.0" ry="18.0" transform="rotate(0 198.2 293.1)" fill="#030303" filter="url(#b2_5)"/>
<ellipse cx="176.2" cy="303.2" rx="7.0" ry="10.0" transform="rotate(0 176.2 303.2)" fill="#030303" filter="url(#b2_5)"/>
<ellipse cx="189.7" cy="340.5" rx="7.0" ry="8.0" transform="rotate(0 189.7 340.5)" fill="#030303" filter="url(#b2_5)"/>
<ellipse cx="228.7" cy="362.6" rx="7.0" ry="7.0" transform="rotate(0 228.7 362.6)" fill="#030303" filter="url(#b2_5)"/>
<ellipse cx="257.6" cy="379.5" rx="10.0" ry="7.0" transform="rotate(0 257.6 379.5)" fill="#030303" filter="url(#b2_5)"/>
<ellipse cx="110.1" cy="221.9" rx="6.0" ry="7.0" transform="rotate(0 110.1 221.9)" fill="#030303" filter="url(#b2_5)"/>
<ellipse cx="120.2" cy="204.9" rx="7.0" ry="6.0" transform="rotate(0 120.2 204.9)" fill="#030303" filter="url(#b2_5)"/>
<ellipse cx="98.2" cy="108.3" rx="14.0" ry="20.0" transform="rotate(-10 98.2 108.3)" fill="#c1c1c1" filter="url(#b5)"/>
<ellipse cx="95.5" cy="110.6" rx="5.0" ry="6.0" transform="rotate(0 95.5 110.6)" fill="#e8e8e8" filter="url(#b2)"/>
<ellipse cx="199.9" cy="242.2" rx="12.0" ry="16.0" transform="rotate(-20 199.9 242.2)" fill="#cecece" filter="url(#b4)"/>
<ellipse cx="227.0" cy="286.3" rx="10.0" ry="14.0" transform="rotate(0 227.0 286.3)" fill="#adadad" filter="url(#b4)"/>
<ellipse cx="252.5" cy="311.7" rx="5.0" ry="5.0" transform="rotate(0 252.5 311.7)" fill="#cecece" filter="url(#b2)"/>
<ellipse cx="269.4" cy="337.1" rx="4.0" ry="4.0" transform="rotate(0 269.4 337.1)" fill="#cecece" filter="url(#b2)"/>
<ellipse cx="274.5" cy="313.4" rx="20.0" ry="12.0" transform="rotate(-10 274.5 313.4)" fill="#a0a0a0" filter="url(#b5)"/>
<ellipse cx="135.5" cy="126.9" rx="10.0" ry="22.0" transform="rotate(-25 135.5 126.9)" fill="#b4b4b4" filter="url(#b5)"/>
<ellipse cx="71.1" cy="120.1" rx="8.0" ry="6.0" transform="rotate(0 71.1 120.1)" fill="#c1c1c1" filter="url(#b3)"/>
<ellipse cx="149.1" cy="188.0" rx="6.0" ry="12.0" transform="rotate(-20 149.1 188.0)" fill="#c1c1c1" filter="url(#b3)"/>
<ellipse cx="115.2" cy="228.6" rx="5.0" ry="6.0" transform="rotate(0 115.2 228.6)" fill="#d4d4d4" filter="url(#b2)"/>
<ellipse cx="162.6" cy="289.7" rx="4.0" ry="5.0" transform="rotate(0 162.6 289.7)" fill="#dbdbdb" filter="url(#b2)"/>
<ellipse cx="179.6" cy="330.4" rx="3.0" ry="6.0" transform="rotate(0 179.6 330.4)" fill="#dbdbdb" filter="url(#b2)"/>
<path d="M20.2 128.6 C29.3 123.5 30.4 121.8 47.3 113.4 C64.3 104.9 63.2 106.6 71.1 103.2" fill="none" stroke="#4b4b4b" stroke-width="7" stroke-linecap="round" stroke-linejoin="round" filter="url(#b2_5)"/>
<ellipse cx="60.9" cy="184.6" rx="5.0" ry="10.0" transform="rotate(0 60.9 184.6)" fill="#4b4b4b" filter="url(#b2_5)"/>
<ellipse cx="105.0" cy="167.6" rx="6.0" ry="12.0" transform="rotate(0 105.0 167.6)" fill="#4b4b4b" filter="url(#b2_5)"/>
<ellipse cx="101.6" cy="202.2" rx="7.0" ry="4.0" transform="rotate(0 101.6 202.2)" fill="#242424" filter="url(#b2_5)"/>
<ellipse cx="155.8" cy="262.5" rx="5.0" ry="12.0" transform="rotate(0 155.8 262.5)" fill="#454545" filter="url(#b2_5)"/>
<ellipse cx="169.4" cy="306.6" rx="8.0" ry="14.0" transform="rotate(0 169.4 306.6)" fill="#454545" filter="url(#b2_5)"/>
<ellipse cx="220.3" cy="323.6" rx="6.0" ry="10.0" transform="rotate(-20 220.3 323.6)" fill="#2a2a2a" filter="url(#b2_5)"/>
<ellipse cx="274.5" cy="371.1" rx="10.0" ry="6.0" transform="rotate(-20 274.5 371.1)" fill="#454545" filter="url(#b2_5)"/>
<ellipse cx="79.5" cy="208.3" rx="8.0" ry="8.0" transform="rotate(0 79.5 208.3)" fill="#454545" filter="url(#b2_5)"/>
<ellipse cx="88.0" cy="157.4" rx="8.0" ry="5.0" transform="rotate(0 88.0 157.4)" fill="#4b4b4b" filter="url(#b2_5)"/>
<ellipse cx="128.7" cy="194.7" rx="6.0" ry="5.0" transform="rotate(0 128.7 194.7)" fill="#454545" filter="url(#b2_5)"/>
<ellipse cx="189.7" cy="272.7" rx="4.0" ry="6.0" transform="rotate(0 189.7 272.7)" fill="#313131" filter="url(#b2_5)"/>
<ellipse cx="230.4" cy="333.8" rx="8.0" ry="5.0" transform="rotate(0 230.4 333.8)" fill="#454545" filter="url(#b2_5)"/>
<ellipse cx="254.2" cy="398.4" rx="13.0" ry="25.0" transform="rotate(5 254.2 398.4)" fill="#030303" filter="url(#b2_5)"/>
<ellipse cx="223.7" cy="400.1" rx="12.0" ry="10.0" transform="rotate(20 223.7 400.1)" fill="#030303" filter="url(#b2_5)"/>
<path d="M281.3 439.1 C285.8 432.3 288.1 433.5 294.9 435.7 C301.6 438.0 292.6 443.1 301.6 445.9 C310.7 448.7 318.6 440.8 322.0 444.2 C325.4 447.6 322.0 449.9 311.8 456.1 C301.6 462.3 301.6 462.9 291.5 462.9 C281.3 462.9 284.7 464.0 281.3 456.1 C277.9 448.2 276.8 445.9 281.3 439.1Z" fill="#030303" stroke="#030303" stroke-width="6" stroke-linejoin="round" filter="url(#b2_5)"/>
<ellipse cx="335.6" cy="473.0" rx="12.0" ry="18.0" transform="rotate(-10 335.6 473.0)" fill="#030303" filter="url(#b2_5)"/>
<ellipse cx="344.0" cy="523.9" rx="11.0" ry="31.0" transform="rotate(-5 344.0 523.9)" fill="#030303" filter="url(#b2_5)"/>
<path d="M376.2 612.0 C384.2 607.8 392.1 603.5 400.0 599.2" fill="none" stroke="#030303" stroke-width="10" stroke-linecap="round" stroke-linejoin="round" filter="url(#b2)"/>
<ellipse cx="237.2" cy="374.7" rx="12.5" ry="6.5" transform="rotate(0 237.2 374.7)" fill="#fcfcfc" filter="url(#b1_5)"/>
<ellipse cx="271.1" cy="405.2" rx="8.5" ry="24.5" transform="rotate(0 271.1 405.2)" fill="#fcfcfc" filter="url(#b1_5)"/>
<ellipse cx="301.6" cy="473.0" rx="9.5" ry="18.5" transform="rotate(30 301.6 473.0)" fill="#fcfcfc" filter="url(#b1_5)"/>
<ellipse cx="320.3" cy="503.5" rx="11.5" ry="19.5" transform="rotate(0 320.3 503.5)" fill="#fcfcfc" filter="url(#b1_5)"/>
<path d="M362.7 479.8 C368.3 475.3 368.3 474.2 376.2 486.6 C384.2 499.0 381.3 492.2 386.4 517.1 C391.5 542.0 390.4 537.4 391.5 561.2 C392.6 584.9 393.8 579.3 389.8 588.3 C385.9 597.4 386.4 592.8 379.6 588.3 C372.9 583.8 377.4 583.8 369.5 574.7 C361.5 565.7 359.3 575.9 355.9 561.2 C352.5 546.5 358.2 551.0 359.3 530.7 C360.4 510.3 358.2 517.1 359.3 500.2 C360.4 483.2 357.0 484.3 362.7 479.8Z" fill="#fcfcfc" stroke="#fcfcfc" stroke-width="5" stroke-linejoin="round" filter="url(#b2)"/>
<ellipse cx="294.9" cy="381.5" rx="8.0" ry="10.0" transform="rotate(0 294.9 381.5)" fill="#c7c7c7" filter="url(#b3)"/>
<ellipse cx="338.9" cy="564.6" rx="6.0" ry="10.0" transform="rotate(-20 338.9 564.6)" fill="#d4d4d4" filter="url(#b2_5)"/>
<ellipse cx="393.2" cy="540.8" rx="5.0" ry="10.0" transform="rotate(0 393.2 540.8)" fill="#cecece" filter="url(#b2_5)"/>
<ellipse cx="325.4" cy="530.7" rx="4.0" ry="10.0" transform="rotate(-25 325.4 530.7)" fill="#dbdbdb" filter="url(#b2)"/>
<ellipse cx="305.0" cy="435.7" rx="14.0" ry="8.0" transform="rotate(-10 305.0 435.7)" fill="#454545" filter="url(#b3)"/>
<ellipse cx="322.0" cy="444.2" rx="8.0" ry="4.0" transform="rotate(-10 322.0 444.2)" fill="#242424" filter="url(#b2)"/>
<ellipse cx="355.9" cy="486.6" rx="8.0" ry="14.0" transform="rotate(0 355.9 486.6)" fill="#454545" filter="url(#b3)"/>
<path d="M349.1 574.7 C351.4 568.0 352.5 573.6 362.7 581.5 C372.9 589.4 364.9 591.7 379.6 598.5 C394.3 605.3 395.5 598.5 406.8 601.9 C418.1 605.3 420.3 603.0 413.5 608.7 C406.8 614.3 401.1 614.3 386.4 618.8 C371.7 623.3 379.6 627.9 369.5 622.2 C359.3 616.6 362.7 617.7 355.9 601.9 C349.1 586.1 346.9 581.5 349.1 574.7Z" fill="#414141" filter="url(#b3)"/>
<ellipse cx="369.5" cy="612.7" rx="8.0" ry="5.0" transform="rotate(-25 369.5 612.7)" fill="#242424" filter="url(#b2)"/>
<path d="M376.2 629.0 C383.0 620.0 385.3 624.5 403.4 622.2 C421.5 620.0 422.6 609.8 430.5 622.2 C438.4 634.7 428.2 631.3 427.1 659.5 C426.0 687.8 431.6 691.2 427.1 707.0 C422.6 722.8 423.7 717.2 413.5 707.0 C403.4 696.8 406.8 695.7 396.6 676.5 C386.4 657.3 389.8 665.2 383.0 649.3 C376.2 633.5 369.5 638.0 376.2 629.0Z" fill="#b4b4b4" filter="url(#b4)"/>
</g></g>
<g clip-path="url(#bandg)"><g filter="url(#cm)">
<path d="M372.9 627.3 C380.8 617.1 383.3 622.8 403.4 620.5 C423.5 618.3 424.4 607.5 433.2 620.5 C442.0 633.5 430.9 629.6 429.8 659.5 C428.7 689.5 435.5 693.4 429.8 710.4 C424.2 727.3 424.5 721.1 412.9 710.4 C401.2 699.6 406.0 697.9 394.9 678.2 C383.8 658.4 387.0 668.0 379.6 651.0 C372.3 634.1 364.9 637.5 372.9 627.3Z" fill="#a0a0a0" filter="url(#b3)"/>
<path d="M381.3 634.1 C387.5 626.7 389.8 630.1 405.1 629.0 C420.3 627.9 420.3 620.5 427.1 630.7 C433.9 640.9 426.0 635.8 425.4 659.5 C424.8 683.3 428.8 687.8 425.4 701.9 C422.0 716.0 423.9 710.9 415.2 701.9 C406.5 692.9 408.9 691.7 399.3 674.8 C389.7 657.8 392.4 664.6 386.4 651.0 C380.4 637.5 375.1 641.4 381.3 634.1Z" fill="#d4d4d4" filter="url(#b2_5)"/>
<ellipse cx="411.8" cy="652.7" rx="10.0" ry="18.0" transform="rotate(-10 411.8 652.7)" fill="#e8e8e8" filter="url(#b3)"/>
<ellipse cx="414.2" cy="646.6" rx="7.0" ry="7.0" transform="rotate(0 414.2 646.6)" fill="#fcfcfc" filter="url(#b1_5)"/>
<ellipse cx="418.6" cy="690.0" rx="4.0" ry="12.0" transform="rotate(0 418.6 690.0)" fill="#e8e8e8" filter="url(#b2)"/>
</g></g>
<g filter="url(#rough)">
<path d="M40.6 140.5 C42.8 133.1 38.3 134.8 54.1 130.3 C69.9 125.8 68.8 126.4 88.0 126.9 C107.2 127.5 98.2 124.1 111.8 132.0 C125.3 139.9 119.7 136.5 128.7 150.7 C137.8 164.8 137.8 165.9 138.9 174.4 C140.0 182.9 138.9 182.9 132.1 176.1 C125.3 169.3 128.7 164.8 118.5 154.0 C108.4 143.3 117.4 146.1 101.6 143.9 C85.8 141.6 89.2 144.4 71.1 147.3 C53.0 150.1 57.5 154.6 47.3 152.3 C37.2 150.1 38.3 147.8 40.6 140.5Z" fill="#e2add2"/>
<path d="M120.2 225.3 C121.4 217.9 121.4 217.3 128.7 208.3 C136.1 199.3 133.8 199.8 142.3 198.1 C150.8 196.4 151.9 196.4 154.1 203.2 C156.4 210.0 155.3 211.1 149.1 218.5 C142.8 225.8 143.4 221.3 135.5 225.3 C127.6 229.2 130.4 230.3 125.3 230.3 C120.2 230.3 119.1 232.6 120.2 225.3Z" fill="#e2add2"/>
<ellipse cx="140.6" cy="237.1" rx="4.0" ry="8.0" transform="rotate(0 140.6 237.1)" fill="#e2add2"/>
<ellipse cx="162.6" cy="233.7" rx="9.0" ry="6.0" transform="rotate(30 162.6 233.7)" fill="#e2add2"/>
<ellipse cx="186.4" cy="245.6" rx="5.0" ry="13.0" transform="rotate(-30 186.4 245.6)" fill="#e2add2"/>
<ellipse cx="206.7" cy="276.1" rx="6.0" ry="14.0" transform="rotate(-25 206.7 276.1)" fill="#e2add2"/>
<ellipse cx="186.4" cy="323.6" rx="5.0" ry="6.0" transform="rotate(0 186.4 323.6)" fill="#e2add2"/>
<ellipse cx="216.9" cy="359.2" rx="4.0" ry="7.0" transform="rotate(0 216.9 359.2)" fill="#e2add2"/>
<ellipse cx="245.7" cy="366.0" rx="11.0" ry="11.0" transform="rotate(25 245.7 366.0)" fill="#e2add2"/>
<ellipse cx="28.7" cy="143.9" rx="4.0" ry="7.0" transform="rotate(0 28.7 143.9)" fill="#e2add2"/>
<ellipse cx="76.2" cy="155.7" rx="7.0" ry="7.0" transform="rotate(0 76.2 155.7)" fill="#3b50a3"/>
<path d="M72.8 191.3 C72.2 184.6 69.9 185.1 79.5 179.5 C89.2 173.8 91.4 173.3 101.6 174.4 C111.8 175.5 109.5 177.2 110.1 182.9 C110.6 188.5 109.5 188.5 103.3 191.3 C97.1 194.2 98.8 188.5 91.4 191.3 C84.1 194.2 87.5 199.8 81.2 199.8 C75.0 199.8 73.3 198.1 72.8 191.3Z" fill="#3b50a3"/>
<ellipse cx="171.1" cy="259.2" rx="10.0" ry="15.0" transform="rotate(-20 171.1 259.2)" fill="#3b50a3"/>
<ellipse cx="198.2" cy="293.1" rx="14.0" ry="15.0" transform="rotate(0 198.2 293.1)" fill="#3b50a3"/>
<ellipse cx="176.2" cy="303.2" rx="4.0" ry="7.0" transform="rotate(0 176.2 303.2)" fill="#3b50a3"/>
<ellipse cx="189.7" cy="340.5" rx="4.0" ry="5.0" transform="rotate(0 189.7 340.5)" fill="#3b50a3"/>
<ellipse cx="228.7" cy="362.6" rx="4.0" ry="4.0" transform="rotate(0 228.7 362.6)" fill="#3b50a3"/>
<ellipse cx="257.6" cy="379.5" rx="7.0" ry="4.0" transform="rotate(0 257.6 379.5)" fill="#3b50a3"/>
<ellipse cx="110.1" cy="221.9" rx="3.0" ry="4.0" transform="rotate(0 110.1 221.9)" fill="#3b50a3"/>
<ellipse cx="120.2" cy="204.9" rx="4.0" ry="3.0" transform="rotate(0 120.2 204.9)" fill="#3b50a3"/>
<ellipse cx="254.2" cy="398.4" rx="10.0" ry="22.0" transform="rotate(5 254.2 398.4)" fill="#3b50a3"/>
<ellipse cx="223.7" cy="400.1" rx="9.0" ry="7.0" transform="rotate(20 223.7 400.1)" fill="#3b50a3"/>
<path d="M281.3 439.1 C285.8 432.3 288.1 433.5 294.9 435.7 C301.6 438.0 292.6 443.1 301.6 445.9 C310.7 448.7 318.6 440.8 322.0 444.2 C325.4 447.6 322.0 449.9 311.8 456.1 C301.6 462.3 301.6 462.9 291.5 462.9 C281.3 462.9 284.7 464.0 281.3 456.1 C277.9 448.2 276.8 445.9 281.3 439.1Z" fill="#3b50a3"/>
<ellipse cx="335.6" cy="473.0" rx="9.0" ry="15.0" transform="rotate(-10 335.6 473.0)" fill="#3b50a3"/>
<ellipse cx="344.0" cy="523.9" rx="8.0" ry="28.0" transform="rotate(-5 344.0 523.9)" fill="#3b50a3"/>
<path d="M376.2 612.0 C384.2 607.8 392.1 603.5 400.0 599.2" fill="none" stroke="#3b50a3" stroke-width="5" stroke-linecap="round" stroke-linejoin="round"/>
<ellipse cx="237.2" cy="374.7" rx="10.0" ry="4.0" transform="rotate(0 237.2 374.7)" fill="#e2add2"/>
<ellipse cx="271.1" cy="405.2" rx="6.0" ry="22.0" transform="rotate(0 271.1 405.2)" fill="#e2add2"/>
<ellipse cx="301.6" cy="473.0" rx="7.0" ry="16.0" transform="rotate(30 301.6 473.0)" fill="#e2add2"/>
<ellipse cx="320.3" cy="503.5" rx="9.0" ry="17.0" transform="rotate(0 320.3 503.5)" fill="#e2add2"/>
<path d="M362.7 479.8 C368.3 475.3 368.3 474.2 376.2 486.6 C384.2 499.0 381.3 492.2 386.4 517.1 C391.5 542.0 390.4 537.4 391.5 561.2 C392.6 584.9 393.8 579.3 389.8 588.3 C385.9 597.4 386.4 592.8 379.6 588.3 C372.9 583.8 377.4 583.8 369.5 574.7 C361.5 565.7 359.3 575.9 355.9 561.2 C352.5 546.5 358.2 551.0 359.3 530.7 C360.4 510.3 358.2 517.1 359.3 500.2 C360.4 483.2 357.0 484.3 362.7 479.8Z" fill="#e2add2"/>
<ellipse cx="414.2" cy="646.6" rx="5.0" ry="5.0" transform="rotate(0 414.2 646.6)" fill="#e2add2"/>
</g>
</g>
<g id="maph" clip-path="url(#cpPoly)">
<g filter="url(#cm)"><rect x="-5" y="-5" width="570" height="762" fill="#808080"/>
<path d="M206.9 48.3 C210.3 56.2 206.9 58.4 217.1 72.0 C227.3 85.5 230.6 83.3 237.4 88.9" fill="none" stroke="#585858" stroke-width="6" stroke-linecap="round" stroke-linejoin="round" filter="url(#b3)"/>
<ellipse cx="264.6" cy="119.5" rx="5.0" ry="18.0" transform="rotate(-5 264.6 119.5)" fill="#525252" filter="url(#b3)"/>
<ellipse cx="283.2" cy="114.4" rx="4.0" ry="7.0" transform="rotate(0 283.2 114.4)" fill="#9a9a9a" filter="url(#b2)"/>
<ellipse cx="186.6" cy="65.2" rx="5.0" ry="6.0" transform="rotate(0 186.6 65.2)" fill="#9a9a9a" filter="url(#b2)"/>
<path d="M190.0 72.0 C201.3 79.9 205.8 81.0 223.9 95.7 C241.9 110.4 237.4 109.3 244.2 116.1" fill="none" stroke="#8d8d8d" stroke-width="3" stroke-linecap="round" stroke-linejoin="round" filter="url(#b1_5)"/>
<ellipse cx="149.3" cy="78.8" rx="12.0" ry="8.0" transform="rotate(0 149.3 78.8)" fill="#727272" filter="url(#b4)"/>
<ellipse cx="196.7" cy="102.5" rx="8.0" ry="5.0" transform="rotate(30 196.7 102.5)" fill="#727272" filter="url(#b3)"/>
<ellipse cx="210.3" cy="146.6" rx="3.0" ry="10.0" transform="rotate(0 210.3 146.6)" fill="#727272" filter="url(#b3)"/>
<ellipse cx="386.6" cy="360.2" rx="5.0" ry="14.0" transform="rotate(-25 386.6 360.2)" fill="#585858" filter="url(#b3)"/>
<ellipse cx="362.9" cy="329.7" rx="3.0" ry="8.0" transform="rotate(-20 362.9 329.7)" fill="#6c6c6c" filter="url(#b2_5)"/>
<ellipse cx="393.4" cy="397.7" rx="8.0" ry="14.0" transform="rotate(-25 393.4 397.7)" fill="#696969" filter="url(#b5)"/>
<ellipse cx="434.1" cy="462.2" rx="6.0" ry="12.0" transform="rotate(-25 434.1 462.2)" fill="#767676" filter="url(#b5)"/>
<ellipse cx="427.3" cy="560.5" rx="7.0" ry="12.0" transform="rotate(-25 427.3 560.5)" fill="#767676" filter="url(#b5)"/>
<ellipse cx="471.4" cy="628.3" rx="8.0" ry="28.0" transform="rotate(-25 471.4 628.3)" fill="#767676" filter="url(#b5)"/>
<ellipse cx="468.0" cy="696.1" rx="10.0" ry="14.0" transform="rotate(-25 468.0 696.1)" fill="#767676" filter="url(#b5)"/>
<ellipse cx="454.4" cy="492.7" rx="5.0" ry="10.0" transform="rotate(-25 454.4 492.7)" fill="#787878" filter="url(#b5)"/>
</g>
<clipPath id="bandh"><path d="M-3.0 137.0 L84.8 104.2 L271.3 380.5 L274.7 380.8 L284.9 404.5 L274.7 431.6 L271.3 438.4 L255.0 425.0 L170.0 410.0 L-3.0 140.0Z M284.9 462.2 C286.3 452.0 300.5 458.8 312.0 465.5 C323.6 472.3 330.7 483.2 342.5 496.1 C354.4 508.9 365.6 518.4 371.4 530.0 C377.1 541.5 377.1 544.2 371.4 553.7 C365.6 563.2 351.7 576.1 342.5 577.4 C333.4 578.8 333.0 572.7 325.6 560.5 C318.1 548.3 313.4 536.1 305.2 516.4 C297.1 496.7 283.5 472.3 284.9 462.2Z"/></clipPath>
<g clip-path="url(#bandh)"><g filter="url(#cmN3)"><rect x="-5" y="-5" width="570" height="762" fill="#808080"/>
<path d="M6.8 143.2 C11.4 134.2 9.1 138.7 27.2 133.0 C45.3 127.4 37.4 128.5 61.1 126.2 C84.8 124.0 83.1 120.6 98.4 126.2 C113.7 131.9 117.1 135.8 106.9 143.2 C96.7 150.5 89.9 139.2 67.9 148.3 C45.8 157.3 55.5 160.7 40.8 170.3 C26.1 179.9 32.8 180.5 23.8 177.1 C14.8 173.7 19.3 171.5 13.6 160.1 C8.0 148.8 2.3 152.2 6.8 143.2Z" fill="#fcfcfc" stroke="#fcfcfc" stroke-width="5" stroke-linejoin="round" filter="url(#b2)"/>
<path d="M115.4 228.0 C115.4 217.8 115.4 217.2 122.1 207.6 C128.9 198.0 127.8 198.0 135.7 199.1 C143.6 200.3 141.4 201.4 145.9 211.0 C150.4 220.6 143.6 220.1 149.3 228.0 C154.9 235.9 162.8 229.7 162.8 234.7 C162.8 239.8 158.3 239.8 149.3 243.2 C140.2 246.6 144.7 246.6 135.7 244.9 C126.7 243.2 128.9 243.8 122.1 238.1 C115.4 232.5 115.4 238.1 115.4 228.0Z" fill="#fcfcfc" stroke="#fcfcfc" stroke-width="5" stroke-linejoin="round" filter="url(#b2)"/>
<ellipse cx="103.5" cy="261.9" rx="8.5" ry="10.5" transform="rotate(0 103.5 261.9)" fill="#fcfcfc" filter="url(#b1_5)"/>
<ellipse cx="122.1" cy="258.5" rx="9.5" ry="10.5" transform="rotate(-30 122.1 258.5)" fill="#fcfcfc" filter="url(#b1_5)"/>
<ellipse cx="152.7" cy="290.7" rx="7.5" ry="10.5" transform="rotate(30 152.7 290.7)" fill="#fcfcfc" filter="url(#b1_5)"/>
<ellipse cx="149.3" cy="329.7" rx="6.5" ry="11.5" transform="rotate(0 149.3 329.7)" fill="#fcfcfc" filter="url(#b1_5)"/>
<ellipse cx="181.5" cy="329.7" rx="7.5" ry="13.5" transform="rotate(30 181.5 329.7)" fill="#fcfcfc" filter="url(#b1_5)"/>
<ellipse cx="213.7" cy="356.8" rx="7.5" ry="12.5" transform="rotate(0 213.7 356.8)" fill="#fcfcfc" filter="url(#b1_5)"/>
<ellipse cx="120.4" cy="165.2" rx="6.5" ry="7.5" transform="rotate(0 120.4 165.2)" fill="#fcfcfc" filter="url(#b1_5)"/>
<path d="M169.6 383.9 C176.4 381.6 165.1 373.8 183.2 370.4 C201.3 367.0 200.1 369.2 223.9 373.8 C247.6 378.3 247.6 385.0 254.4 383.9 C261.2 382.9 254.4 370.5 244.2 370.6 C234.0 370.7 244.2 376.3 223.9 384.2 C203.5 392.1 201.3 392.1 183.2 394.3 C165.1 396.6 176.4 396.6 169.6 390.9 C162.8 385.3 162.8 379.7 162.8 377.4 C162.8 375.0 162.8 386.3 169.6 383.9Z" fill="#fcfcfc" stroke="#fcfcfc" stroke-width="5" stroke-linejoin="round" filter="url(#b2)"/>
<path d="M203.5 409.6 C210.3 409.0 208.0 409.0 223.9 413.0 C239.7 416.9 243.1 417.3 251.0 421.5 C258.9 425.6 256.6 425.9 247.6 425.5 C238.6 425.2 238.6 424.1 223.9 420.4 C209.2 416.8 210.3 418.3 203.5 414.7 C196.7 411.1 196.7 410.2 203.5 409.6Z" fill="#fcfcfc" stroke="#fcfcfc" stroke-width="5" stroke-linejoin="round" filter="url(#b1_5)"/>
<ellipse cx="267.9" cy="414.7" rx="6.5" ry="13.5" transform="rotate(0 267.9 414.7)" fill="#fcfcfc" filter="url(#b1_5)"/>
<ellipse cx="76.4" cy="156.8" rx="9.0" ry="9.0" transform="rotate(0 76.4 156.8)" fill="#030303" filter="url(#b2_5)"/>
<path d="M66.2 207.6 C63.9 199.7 63.9 200.8 71.3 190.7 C78.6 180.5 75.8 182.8 88.2 177.1 C100.7 171.5 100.1 171.5 108.6 173.7 C117.1 176.0 115.9 177.1 113.7 183.9 C111.4 190.7 110.3 188.4 101.8 194.1 C93.3 199.7 96.1 194.1 88.2 200.8 C80.3 207.6 85.4 212.1 78.1 214.4 C70.7 216.7 68.4 215.5 66.2 207.6Z" fill="#030303" stroke="#030303" stroke-width="6" stroke-linejoin="round" filter="url(#b2_5)"/>
<ellipse cx="49.2" cy="205.9" rx="12.0" ry="8.0" transform="rotate(20 49.2 205.9)" fill="#030303" filter="url(#b2_5)"/>
<ellipse cx="106.9" cy="222.9" rx="8.0" ry="8.0" transform="rotate(0 106.9 222.9)" fill="#030303" filter="url(#b2_5)"/>
<ellipse cx="88.2" cy="248.3" rx="9.0" ry="16.0" transform="rotate(-10 88.2 248.3)" fill="#030303" filter="url(#b2_5)"/>
<ellipse cx="162.8" cy="261.9" rx="14.0" ry="16.0" transform="rotate(0 162.8 261.9)" fill="#030303" filter="url(#b2_5)"/>
<ellipse cx="152.7" cy="272.0" rx="8.0" ry="7.0" transform="rotate(0 152.7 272.0)" fill="#030303" filter="url(#b2_5)"/>
<ellipse cx="113.7" cy="287.3" rx="13.0" ry="8.0" transform="rotate(0 113.7 287.3)" fill="#030303" filter="url(#b2_5)"/>
<path d="M161.1 316.1 C162.3 308.8 160.0 309.3 169.6 299.2 C179.2 289.0 179.2 286.7 190.0 285.6 C200.7 284.5 199.6 288.4 201.8 295.8 C204.1 303.1 205.2 302.0 196.7 307.6 C188.3 313.3 186.6 308.2 176.4 312.7 C166.2 317.3 171.3 320.1 166.2 321.2 C161.1 322.3 160.0 323.5 161.1 316.1Z" fill="#030303" stroke="#030303" stroke-width="6" stroke-linejoin="round" filter="url(#b2_5)"/>
<ellipse cx="139.1" cy="343.3" rx="11.0" ry="16.0" transform="rotate(-20 139.1 343.3)" fill="#030303" filter="url(#b2_5)"/>
<ellipse cx="188.3" cy="343.3" rx="9.0" ry="9.0" transform="rotate(0 188.3 343.3)" fill="#030303" filter="url(#b2_5)"/>
<path d="M186.6 394.3 C191.1 388.1 194.5 392.6 217.1 387.6 C239.7 382.5 239.7 374.6 254.4 379.1 C269.1 383.6 259.5 387.6 261.2 401.1 C262.9 414.7 264.0 413.0 259.5 419.8 C254.9 426.5 259.5 423.7 247.6 421.5 C235.7 419.2 238.6 418.1 223.9 413.0 C209.2 407.9 215.9 412.4 203.5 406.2 C191.1 400.0 182.0 400.6 186.6 394.3Z" fill="#030303" stroke="#030303" stroke-width="6" stroke-linejoin="round" filter="url(#b2_5)"/>
<ellipse cx="301.8" cy="477.4" rx="10.5" ry="10.5" transform="rotate(30 301.8 477.4)" fill="#fcfcfc" filter="url(#b1_5)"/>
<ellipse cx="318.8" cy="506.2" rx="10.5" ry="18.5" transform="rotate(-5 318.8 506.2)" fill="#fcfcfc" filter="url(#b1_5)"/>
<ellipse cx="345.9" cy="523.2" rx="11.0" ry="24.0" transform="rotate(-5 345.9 523.2)" fill="#030303" filter="url(#b2_5)"/>
<ellipse cx="362.9" cy="546.9" rx="8.0" ry="10.0" transform="rotate(0 362.9 546.9)" fill="#c7c7c7" filter="url(#b3)"/>
<ellipse cx="332.4" cy="560.5" rx="5.0" ry="10.0" transform="rotate(-25 332.4 560.5)" fill="#dbdbdb" filter="url(#b2)"/>
<ellipse cx="325.6" cy="530.0" rx="6.0" ry="10.0" transform="rotate(0 325.6 530.0)" fill="#b4b4b4" filter="url(#b3)"/>
<ellipse cx="276.4" cy="441.8" rx="5.0" ry="10.0" transform="rotate(-10 276.4 441.8)" fill="#454545" filter="url(#b2_5)"/>
<ellipse cx="359.5" cy="509.6" rx="3.0" ry="4.0" transform="rotate(0 359.5 509.6)" fill="#adadad" filter="url(#b1_5)"/>
<ellipse cx="81.4" cy="112.7" rx="8.0" ry="6.0" transform="rotate(-25 81.4 112.7)" fill="#b4b4b4" filter="url(#b2_5)"/>
<ellipse cx="6.8" cy="139.8" rx="5.0" ry="8.0" transform="rotate(0 6.8 139.8)" fill="#dbdbdb" filter="url(#b2_5)"/>
<ellipse cx="122.1" cy="163.5" rx="5.0" ry="8.0" transform="rotate(0 122.1 163.5)" fill="#cecece" filter="url(#b2_5)"/>
<ellipse cx="128.9" cy="190.7" rx="10.0" ry="6.0" transform="rotate(0 128.9 190.7)" fill="#a7a7a7" filter="url(#b2_5)"/>
<ellipse cx="95.0" cy="214.4" rx="6.0" ry="4.0" transform="rotate(0 95.0 214.4)" fill="#a7a7a7" filter="url(#b2_5)"/>
<ellipse cx="74.7" cy="231.4" rx="5.0" ry="5.0" transform="rotate(0 74.7 231.4)" fill="#9a9a9a" filter="url(#b2_5)"/>
<ellipse cx="108.6" cy="268.7" rx="8.0" ry="8.0" transform="rotate(0 108.6 268.7)" fill="#dbdbdb" filter="url(#b2_5)"/>
<ellipse cx="44.1" cy="190.7" rx="4.0" ry="6.0" transform="rotate(0 44.1 190.7)" fill="#dbdbdb" filter="url(#b2_5)"/>
<ellipse cx="149.3" cy="289.0" rx="8.0" ry="8.0" transform="rotate(0 149.3 289.0)" fill="#d4d4d4" filter="url(#b2_5)"/>
<ellipse cx="213.7" cy="363.6" rx="10.0" ry="14.0" transform="rotate(0 213.7 363.6)" fill="#c7c7c7" filter="url(#b2_5)"/>
<ellipse cx="230.6" cy="356.8" rx="10.0" ry="8.0" transform="rotate(0 230.6 356.8)" fill="#b4b4b4" filter="url(#b2_5)"/>
<ellipse cx="169.6" cy="363.6" rx="5.0" ry="10.0" transform="rotate(0 169.6 363.6)" fill="#d4d4d4" filter="url(#b2_5)"/>
<ellipse cx="190.0" cy="260.2" rx="4.0" ry="4.0" transform="rotate(0 190.0 260.2)" fill="#a7a7a7" filter="url(#b2_5)"/>
<ellipse cx="220.5" cy="297.5" rx="4.0" ry="4.0" transform="rotate(0 220.5 297.5)" fill="#a7a7a7" filter="url(#b2_5)"/>
<ellipse cx="54.3" cy="126.2" rx="16.0" ry="6.0" transform="rotate(-25 54.3 126.2)" fill="#4b4b4b" filter="url(#b2_5)"/>
<ellipse cx="88.2" cy="160.1" rx="8.0" ry="8.0" transform="rotate(0 88.2 160.1)" fill="#454545" filter="url(#b2_5)"/>
<ellipse cx="61.1" cy="180.5" rx="8.0" ry="14.0" transform="rotate(20 61.1 180.5)" fill="#454545" filter="url(#b2_5)"/>
<ellipse cx="115.4" cy="197.4" rx="10.0" ry="6.0" transform="rotate(0 115.4 197.4)" fill="#2a2a2a" filter="url(#b2_5)"/>
<ellipse cx="91.6" cy="228.0" rx="8.0" ry="8.0" transform="rotate(0 91.6 228.0)" fill="#454545" filter="url(#b2_5)"/>
<ellipse cx="112.0" cy="244.9" rx="5.0" ry="5.0" transform="rotate(0 112.0 244.9)" fill="#454545" filter="url(#b2_5)"/>
<ellipse cx="132.3" cy="278.8" rx="8.0" ry="5.0" transform="rotate(0 132.3 278.8)" fill="#454545" filter="url(#b2_5)"/>
<ellipse cx="176.4" cy="278.8" rx="14.0" ry="8.0" transform="rotate(0 176.4 278.8)" fill="#454545" filter="url(#b2_5)"/>
<ellipse cx="220.5" cy="319.5" rx="10.0" ry="10.0" transform="rotate(0 220.5 319.5)" fill="#454545" filter="url(#b2_5)"/>
<ellipse cx="135.7" cy="316.1" rx="4.0" ry="10.0" transform="rotate(0 135.7 316.1)" fill="#313131" filter="url(#b2_5)"/>
<ellipse cx="156.0" cy="350.0" rx="8.0" ry="6.0" transform="rotate(0 156.0 350.0)" fill="#454545" filter="url(#b2_5)"/>
</g></g>
<g filter="url(#rough)">
<path d="M6.8 143.2 C11.4 134.2 9.1 138.7 27.2 133.0 C45.3 127.4 37.4 128.5 61.1 126.2 C84.8 124.0 83.1 120.6 98.4 126.2 C113.7 131.9 117.1 135.8 106.9 143.2 C96.7 150.5 89.9 139.2 67.9 148.3 C45.8 157.3 55.5 160.7 40.8 170.3 C26.1 179.9 32.8 180.5 23.8 177.1 C14.8 173.7 19.3 171.5 13.6 160.1 C8.0 148.8 2.3 152.2 6.8 143.2Z" fill="#e2add2"/>
<path d="M115.4 228.0 C115.4 217.8 115.4 217.2 122.1 207.6 C128.9 198.0 127.8 198.0 135.7 199.1 C143.6 200.3 141.4 201.4 145.9 211.0 C150.4 220.6 143.6 220.1 149.3 228.0 C154.9 235.9 162.8 229.7 162.8 234.7 C162.8 239.8 158.3 239.8 149.3 243.2 C140.2 246.6 144.7 246.6 135.7 244.9 C126.7 243.2 128.9 243.8 122.1 238.1 C115.4 232.5 115.4 238.1 115.4 228.0Z" fill="#e2add2"/>
<ellipse cx="103.5" cy="261.9" rx="6.0" ry="8.0" transform="rotate(0 103.5 261.9)" fill="#e2add2"/>
<ellipse cx="122.1" cy="258.5" rx="7.0" ry="8.0" transform="rotate(-30 122.1 258.5)" fill="#e2add2"/>
<ellipse cx="152.7" cy="290.7" rx="5.0" ry="8.0" transform="rotate(30 152.7 290.7)" fill="#e2add2"/>
<ellipse cx="149.3" cy="329.7" rx="4.0" ry="9.0" transform="rotate(0 149.3 329.7)" fill="#e2add2"/>
<ellipse cx="181.5" cy="329.7" rx="5.0" ry="11.0" transform="rotate(30 181.5 329.7)" fill="#e2add2"/>
<ellipse cx="213.7" cy="356.8" rx="5.0" ry="10.0" transform="rotate(0 213.7 356.8)" fill="#e2add2"/>
<ellipse cx="120.4" cy="165.2" rx="4.0" ry="5.0" transform="rotate(0 120.4 165.2)" fill="#e2add2"/>
<path d="M169.6 383.9 C176.4 381.6 165.1 373.8 183.2 370.4 C201.3 367.0 200.1 369.2 223.9 373.8 C247.6 378.3 247.6 385.0 254.4 383.9 C261.2 382.9 254.4 370.5 244.2 370.6 C234.0 370.7 244.2 376.3 223.9 384.2 C203.5 392.1 201.3 392.1 183.2 394.3 C165.1 396.6 176.4 396.6 169.6 390.9 C162.8 385.3 162.8 379.7 162.8 377.4 C162.8 375.0 162.8 386.3 169.6 383.9Z" fill="#e2add2"/>
<path d="M203.5 409.6 C210.3 409.0 208.0 409.0 223.9 413.0 C239.7 416.9 243.1 417.3 251.0 421.5 C258.9 425.6 256.6 425.9 247.6 425.5 C238.6 425.2 238.6 424.1 223.9 420.4 C209.2 416.8 210.3 418.3 203.5 414.7 C196.7 411.1 196.7 410.2 203.5 409.6Z" fill="#e2add2"/>
<ellipse cx="267.9" cy="414.7" rx="4.0" ry="11.0" transform="rotate(0 267.9 414.7)" fill="#e2add2"/>
<ellipse cx="76.4" cy="156.8" rx="6.0" ry="6.0" transform="rotate(0 76.4 156.8)" fill="#3b50a3"/>
<path d="M66.2 207.6 C63.9 199.7 63.9 200.8 71.3 190.7 C78.6 180.5 75.8 182.8 88.2 177.1 C100.7 171.5 100.1 171.5 108.6 173.7 C117.1 176.0 115.9 177.1 113.7 183.9 C111.4 190.7 110.3 188.4 101.8 194.1 C93.3 199.7 96.1 194.1 88.2 200.8 C80.3 207.6 85.4 212.1 78.1 214.4 C70.7 216.7 68.4 215.5 66.2 207.6Z" fill="#3b50a3"/>
<ellipse cx="49.2" cy="205.9" rx="9.0" ry="5.0" transform="rotate(20 49.2 205.9)" fill="#3b50a3"/>
<ellipse cx="106.9" cy="222.9" rx="5.0" ry="5.0" transform="rotate(0 106.9 222.9)" fill="#3b50a3"/>
<ellipse cx="88.2" cy="248.3" rx="6.0" ry="13.0" transform="rotate(-10 88.2 248.3)" fill="#3b50a3"/>
<ellipse cx="162.8" cy="261.9" rx="11.0" ry="13.0" transform="rotate(0 162.8 261.9)" fill="#3b50a3"/>
<ellipse cx="152.7" cy="272.0" rx="5.0" ry="4.0" transform="rotate(0 152.7 272.0)" fill="#3b50a3"/>
<ellipse cx="113.7" cy="287.3" rx="10.0" ry="5.0" transform="rotate(0 113.7 287.3)" fill="#3b50a3"/>
<path d="M161.1 316.1 C162.3 308.8 160.0 309.3 169.6 299.2 C179.2 289.0 179.2 286.7 190.0 285.6 C200.7 284.5 199.6 288.4 201.8 295.8 C204.1 303.1 205.2 302.0 196.7 307.6 C188.3 313.3 186.6 308.2 176.4 312.7 C166.2 317.3 171.3 320.1 166.2 321.2 C161.1 322.3 160.0 323.5 161.1 316.1Z" fill="#3b50a3"/>
<ellipse cx="139.1" cy="343.3" rx="8.0" ry="13.0" transform="rotate(-20 139.1 343.3)" fill="#3b50a3"/>
<ellipse cx="188.3" cy="343.3" rx="6.0" ry="6.0" transform="rotate(0 188.3 343.3)" fill="#3b50a3"/>
<path d="M186.6 394.3 C191.1 388.1 194.5 392.6 217.1 387.6 C239.7 382.5 239.7 374.6 254.4 379.1 C269.1 383.6 259.5 387.6 261.2 401.1 C262.9 414.7 264.0 413.0 259.5 419.8 C254.9 426.5 259.5 423.7 247.6 421.5 C235.7 419.2 238.6 418.1 223.9 413.0 C209.2 407.9 215.9 412.4 203.5 406.2 C191.1 400.0 182.0 400.6 186.6 394.3Z" fill="#3b50a3"/>
<ellipse cx="301.8" cy="477.4" rx="8.0" ry="8.0" transform="rotate(30 301.8 477.4)" fill="#e2add2"/>
<ellipse cx="318.8" cy="506.2" rx="8.0" ry="16.0" transform="rotate(-5 318.8 506.2)" fill="#e2add2"/>
<ellipse cx="345.9" cy="523.2" rx="8.0" ry="21.0" transform="rotate(-5 345.9 523.2)" fill="#3b50a3"/>
</g>
</g>
<linearGradient id="gface" x1="0" y1="0" x2="1" y2="0"><stop offset="0" stop-color="#3a5cb4"/><stop offset="1" stop-color="#3348a4"/></linearGradient>
</defs>
<rect width="2067" height="2495" fill="#fff"/>
<path d="M16.1 246.0 L584.1 7.2 M584.1 7.2 L1005.0 180.8 M16.1 246.0 L38.3 427.2 M38.3 427.2 L436.9 701.3 M436.9 701.3 L982.1 356.6 M1005.0 180.8 L982.1 356.6 M584.1 7.2 L584.0 174.5 M38.3 427.2 L584.0 174.5 M584.0 174.5 L982.1 356.6" fill="none" stroke="#1c1c1c" stroke-width="1.25"/>
<path d="M1049.6 246.6 L1617.6 7.8 M1617.6 7.8 L2038.5 181.4 M1049.6 246.6 L1071.8 427.8 M1071.8 427.8 L1470.4 701.9 M1470.4 701.9 L2015.6 357.2 M2038.5 181.4 L2015.6 357.2 M1617.6 7.8 L1617.5 175.1 M1071.8 427.8 L1617.5 175.1 M1617.5 175.1 L2015.6 357.2 M1049.6 246.6 L1466.7 502.4 M1466.7 502.4 L2038.5 181.4 M1466.7 502.4 L1470.4 701.9" fill="none" stroke="#1c1c1c" stroke-width="1.25"/>
<path d="M493.9 54.1 L421.2 185.5 L421.6 330.0 L331.5 482.8 L332.5 560.0 L337.0 633.0 L360.0 637.5 L390.0 642.0 L420.0 647.0 L450.0 652.0 L480.0 657.0 L500.0 660.5 L512.0 640.0 L525.0 615.0 L537.0 591.5 L552.0 560.0 L566.0 531.0 L580.0 500.0 L595.0 468.0 L612.0 433.0 L630.0 408.0 L652.0 382.0 L673.6 366.0 L701.0 330.0 L725.5 311.0 L745.0 283.0 L764.0 256.0 L769.6 140.0 L770.3 136.2 Q620.0 103.0 493.9 54.1 Z" fill="#3246a4"/>
<clipPath id="cpBody"><path d="M493.9 54.1 L421.2 185.5 L421.6 330.0 L331.5 482.8 L332.5 560.0 L337.0 633.0 L360.0 637.5 L390.0 642.0 L420.0 647.0 L450.0 652.0 L480.0 657.0 L500.0 660.5 L512.0 640.0 L525.0 615.0 L537.0 591.5 L552.0 560.0 L566.0 531.0 L580.0 500.0 L595.0 468.0 L612.0 433.0 L630.0 408.0 L652.0 382.0 L673.6 366.0 L701.0 330.0 L725.5 311.0 L745.0 283.0 L764.0 256.0 L769.6 140.0 L770.3 136.2 Q620.0 103.0 493.9 54.1 Z"/></clipPath>
<g clip-path="url(#cpBody)">
<path d="M345 500 L420 515 L470 530 L520 545 L560 560 L520 600 L470 585 L420 570 L370 565 Z" fill="#3a62b8" filter="url(#B8)" opacity="0.9"/>
<path d="M433 520 L500 530 L520 570 L470 600 L433 590Z" fill="#3d6dc0" filter="url(#B10)" opacity="0.8"/>
<path d="M332 600 L440 620 L505 640 L500 670 L330 640Z" fill="#2f42a0" filter="url(#B8)" opacity="0.9"/>
<path d="M700 150 L770 140 L768 250 L720 300 L690 250Z" fill="#3a5cb6" filter="url(#B10)" opacity="0.8"/>
<path d="M600 336 L614.5 331 L606 378 L595.5 388Z" fill="#45b4e6" filter="url(#B3)" opacity="0.8"/>
<path d="M609 299 L624 296.5 L615 333 L600.5 337.5Z" fill="#6cbe47" filter="url(#B1_5)"/>
<path d="M596 388 L606 378 L598 430 L588 450Z" fill="#3f86cc" filter="url(#B4)" opacity="0.7"/>
<path d="M585 350 L640 330 L660 400 L600 480 L570 460Z" fill="#3b62b8" filter="url(#B10)" opacity="0.7"/>
<linearGradient id="gfr" x1="0" y1="0" x2="1" y2="0"><stop offset="0" stop-color="#dfa5d0"/><stop offset="0.25" stop-color="#ed2224"/><stop offset="0.5" stop-color="#f7ea12"/><stop offset="0.75" stop-color="#6cbe47"/><stop offset="1" stop-color="#3f9ad6"/></linearGradient>
<path d="M331 484 L405 501 L405 505 L331 493Z" fill="url(#gfr)"/>
<path d="M421 186 L470 246 L466 256 L421 202Z" fill="#6cbe47" opacity="0.9"/><path d="M424 194 L462 240 L459 247 L424 203Z" fill="#dfa5d0"/><path d="M421 186 L432 199 L421 203Z" fill="#f7ea12"/>
</g>
<use href="#mapc" x="153.3" y="872.4"/>
<use href="#mapd" x="780.4" y="873.8"/>
<use href="#mape" x="1405.0" y="874.7"/>
<use href="#mapf" x="155.1" y="1687.6"/>
<use href="#mapg" x="780.7" y="1688.8"/>
<use href="#maph" x="1405.5" y="1689.5"/>
<g stroke="#2a2a2a" stroke-width="1.3" fill="none">
<rect x="153.3" y="872.4" width="559.5" height="751.3"/>
<path d="M712.8 1623.7 h11"/>
<path d="M189.4 1623.7 v10"/>
<path d="M330.8 1623.7 v10"/>
<path d="M472.2 1623.7 v10"/>
<path d="M613.6 1623.7 v10"/>
<path d="M153.3 1549.1 h-11"/>
<path d="M153.3 1407.7 h-11"/>
<path d="M153.3 1266.3 h-11"/>
<path d="M153.3 1124.9 h-11"/>
<path d="M153.3 983.5 h-11"/>
<rect x="780.4" y="873.8" width="559.5" height="751.3"/>
<path d="M1339.9 1625.1 h11"/>
<path d="M816.5 1625.1 v10"/>
<path d="M957.9 1625.1 v10"/>
<path d="M1099.3 1625.1 v10"/>
<path d="M1240.7 1625.1 v10"/>
<path d="M780.4 1550.5 h-11"/>
<path d="M780.4 1409.1 h-11"/>
<path d="M780.4 1267.7 h-11"/>
<path d="M780.4 1126.3 h-11"/>
<path d="M780.4 984.9 h-11"/>
<rect x="1405.0" y="874.7" width="559.5" height="751.3"/>
<path d="M1964.5 1626.0 h11"/>
<path d="M1441.1 1626.0 v10"/>
<path d="M1582.5 1626.0 v10"/>
<path d="M1723.9 1626.0 v10"/>
<path d="M1865.3 1626.0 v10"/>
<path d="M1405.0 1551.4 h-11"/>
<path d="M1405.0 1410.0 h-11"/>
<path d="M1405.0 1268.6 h-11"/>
<path d="M1405.0 1127.2 h-11"/>
<path d="M1405.0 985.8 h-11"/>
<rect x="155.1" y="1687.6" width="559.5" height="751.3"/>
<path d="M714.6 2438.9 h11"/>
<path d="M191.2 2438.9 v10"/>
<path d="M332.6 2438.9 v10"/>
<path d="M474.0 2438.9 v10"/>
<path d="M615.4 2438.9 v10"/>
<path d="M155.1 2364.3 h-11"/>
<path d="M155.1 2222.9 h-11"/>
<path d="M155.1 2081.5 h-11"/>
<path d="M155.1 1940.1 h-11"/>
<path d="M155.1 1798.7 h-11"/>
<rect x="780.7" y="1688.8" width="559.5" height="751.3"/>
<path d="M1340.2 2440.1 h11"/>
<path d="M816.8 2440.1 v10"/>
<path d="M958.2 2440.1 v10"/>
<path d="M1099.6 2440.1 v10"/>
<path d="M1241.0 2440.1 v10"/>
<path d="M780.7 2365.5 h-11"/>
<path d="M780.7 2224.1 h-11"/>
<path d="M780.7 2082.7 h-11"/>
<path d="M780.7 1941.3 h-11"/>
<path d="M780.7 1799.9 h-11"/>
<rect x="1405.5" y="1689.5" width="559.5" height="751.3"/>
<path d="M1965.0 2440.8 h11"/>
<path d="M1441.6 2440.8 v10"/>
<path d="M1583.0 2440.8 v10"/>
<path d="M1724.4 2440.8 v10"/>
<path d="M1865.8 2440.8 v10"/>
<path d="M1405.5 2366.2 h-11"/>
<path d="M1405.5 2224.8 h-11"/>
<path d="M1405.5 2083.4 h-11"/>
<path d="M1405.5 1942.0 h-11"/>
<path d="M1405.5 1800.6 h-11"/>
</g>
<g fill="#262626" font-size="15.6" text-anchor="middle">
<text x="190.4" y="1649.1" textLength="55" lengthAdjust="spacingAndGlyphs">422000</text>
<text x="331.8" y="1649.1" textLength="55" lengthAdjust="spacingAndGlyphs">423000</text>
<text x="473.2" y="1649.1" textLength="55" lengthAdjust="spacingAndGlyphs">424000</text>
<text x="614.6" y="1649.1" textLength="55" lengthAdjust="spacingAndGlyphs">425000</text>
<text transform="translate(127.8 1550.1) rotate(90)" textLength="63" lengthAdjust="spacingAndGlyphs">7772000</text>
<text transform="translate(127.8 1408.7) rotate(90)" textLength="63" lengthAdjust="spacingAndGlyphs">7773000</text>
<text transform="translate(127.8 1267.3) rotate(90)" textLength="63" lengthAdjust="spacingAndGlyphs">7774000</text>
<text transform="translate(127.8 1125.9) rotate(90)" textLength="63" lengthAdjust="spacingAndGlyphs">7775000</text>
<text transform="translate(127.8 984.5) rotate(90)" textLength="63" lengthAdjust="spacingAndGlyphs">7776000</text>
<text x="433.0" y="1669.2" font-size="14">X</text>
<text transform="translate(107.8 1247.0) rotate(90)" font-size="14">Y</text>
<text x="817.5" y="1650.5" textLength="55" lengthAdjust="spacingAndGlyphs">422000</text>
<text x="958.9" y="1650.5" textLength="55" lengthAdjust="spacingAndGlyphs">423000</text>
<text x="1100.3" y="1650.5" textLength="55" lengthAdjust="spacingAndGlyphs">424000</text>
<text x="1241.7" y="1650.5" textLength="55" lengthAdjust="spacingAndGlyphs">425000</text>
<text transform="translate(754.9 1551.5) rotate(90)" textLength="63" lengthAdjust="spacingAndGlyphs">7772000</text>
<text transform="translate(754.9 1410.1) rotate(90)" textLength="63" lengthAdjust="spacingAndGlyphs">7773000</text>
<text transform="translate(754.9 1268.7) rotate(90)" textLength="63" lengthAdjust="spacingAndGlyphs">7774000</text>
<text transform="translate(754.9 1127.3) rotate(90)" textLength="63" lengthAdjust="spacingAndGlyphs">7775000</text>
<text transform="translate(754.9 985.9) rotate(90)" textLength="63" lengthAdjust="spacingAndGlyphs">7776000</text>
<text x="1060.1" y="1670.6" font-size="14">X</text>
<text transform="translate(734.9 1248.4) rotate(90)" font-size="14">Y</text>
<text x="1442.1" y="1651.4" textLength="55" lengthAdjust="spacingAndGlyphs">422000</text>
<text x="1583.5" y="1651.4" textLength="55" lengthAdjust="spacingAndGlyphs">423000</text>
<text x="1724.9" y="1651.4" textLength="55" lengthAdjust="spacingAndGlyphs">424000</text>
<text x="1866.3" y="1651.4" textLength="55" lengthAdjust="spacingAndGlyphs">425000</text>
<text transform="translate(1379.5 1552.4) rotate(90)" textLength="63" lengthAdjust="spacingAndGlyphs">7772000</text>
<text transform="translate(1379.5 1411.0) rotate(90)" textLength="63" lengthAdjust="spacingAndGlyphs">7773000</text>
<text transform="translate(1379.5 1269.6) rotate(90)" textLength="63" lengthAdjust="spacingAndGlyphs">7774000</text>
<text transform="translate(1379.5 1128.2) rotate(90)" textLength="63" lengthAdjust="spacingAndGlyphs">7775000</text>
<text transform="translate(1379.5 986.8) rotate(90)" textLength="63" lengthAdjust="spacingAndGlyphs">7776000</text>
<text x="1684.7" y="1671.5" font-size="14">X</text>
<text transform="translate(1359.5 1249.3) rotate(90)" font-size="14">Y</text>
<text x="192.2" y="2464.3" textLength="55" lengthAdjust="spacingAndGlyphs">422000</text>
<text x="333.6" y="2464.3" textLength="55" lengthAdjust="spacingAndGlyphs">423000</text>
<text x="475.0" y="2464.3" textLength="55" lengthAdjust="spacingAndGlyphs">424000</text>
<text x="616.4" y="2464.3" textLength="55" lengthAdjust="spacingAndGlyphs">425000</text>
<text transform="translate(129.6 2365.3) rotate(90)" textLength="63" lengthAdjust="spacingAndGlyphs">7772000</text>
<text transform="translate(129.6 2223.9) rotate(90)" textLength="63" lengthAdjust="spacingAndGlyphs">7773000</text>
<text transform="translate(129.6 2082.5) rotate(90)" textLength="63" lengthAdjust="spacingAndGlyphs">7774000</text>
<text transform="translate(129.6 1941.1) rotate(90)" textLength="63" lengthAdjust="spacingAndGlyphs">7775000</text>
<text transform="translate(129.6 1799.7) rotate(90)" textLength="63" lengthAdjust="spacingAndGlyphs">7776000</text>
<text x="434.8" y="2484.4" font-size="14">X</text>
<text transform="translate(109.6 2062.2) rotate(90)" font-size="14">Y</text>
<text x="817.8" y="2465.5" textLength="55" lengthAdjust="spacingAndGlyphs">422000</text>
<text x="959.2" y="2465.5" textLength="55" lengthAdjust="spacingAndGlyphs">423000</text>
<text x="1100.6" y="2465.5" textLength="55" lengthAdjust="spacingAndGlyphs">424000</text>
<text x="1242.0" y="2465.5" textLength="55" lengthAdjust="spacingAndGlyphs">425000</text>
<text transform="translate(755.2 2366.5) rotate(90)" textLength="63" lengthAdjust="spacingAndGlyphs">7772000</text>
<text transform="translate(755.2 2225.1) rotate(90)" textLength="63" lengthAdjust="spacingAndGlyphs">7773000</text>
<text transform="translate(755.2 2083.7) rotate(90)" textLength="63" lengthAdjust="spacingAndGlyphs">7774000</text>
<text transform="translate(755.2 1942.3) rotate(90)" textLength="63" lengthAdjust="spacingAndGlyphs">7775000</text>
<text transform="translate(755.2 1800.9) rotate(90)" textLength="63" lengthAdjust="spacingAndGlyphs">7776000</text>
<text x="1060.4" y="2485.6" font-size="14">X</text>
<text transform="translate(735.2 2063.4) rotate(90)" font-size="14">Y</text>
<text x="1442.6" y="2466.2" textLength="55" lengthAdjust="spacingAndGlyphs">422000</text>
<text x="1584.0" y="2466.2" textLength="55" lengthAdjust="spacingAndGlyphs">423000</text>
<text x="1725.4" y="2466.2" textLength="55" lengthAdjust="spacingAndGlyphs">424000</text>
<text x="1866.8" y="2466.2" textLength="55" lengthAdjust="spacingAndGlyphs">425000</text>
<text transform="translate(1380.0 2367.2) rotate(90)" textLength="63" lengthAdjust="spacingAndGlyphs">7772000</text>
<text transform="translate(1380.0 2225.8) rotate(90)" textLength="63" lengthAdjust="spacingAndGlyphs">7773000</text>
<text transform="translate(1380.0 2084.4) rotate(90)" textLength="63" lengthAdjust="spacingAndGlyphs">7774000</text>
<text transform="translate(1380.0 1943.0) rotate(90)" textLength="63" lengthAdjust="spacingAndGlyphs">7775000</text>
<text transform="translate(1380.0 1801.6) rotate(90)" textLength="63" lengthAdjust="spacingAndGlyphs">7776000</text>
<text x="1685.2" y="2486.3" font-size="14">X</text>
<text transform="translate(1360.0 2064.1) rotate(90)" font-size="14">Y</text>
</g>
<rect x="274.8" y="781.6" width="304.6" height="79" fill="#fff" stroke="#000" stroke-width="2.8"/>
<text x="319.5" y="841.6" font-size="51.2" textLength="223.7" lengthAdjust="spacingAndGlyphs" fill="#000">At surface</text>
<rect x="814.9" y="781.6" width="472.2" height="79" fill="#fff" stroke="#000" stroke-width="2.8"/>
<text x="837.4" y="841.6" font-size="51.2" textLength="436.0" lengthAdjust="spacingAndGlyphs" fill="#000">50 m below surface</text>
<rect x="1433.8" y="781.6" width="481.0" height="79" fill="#fff" stroke="#000" stroke-width="2.8"/>
<text x="1442.8" y="841.6" font-size="51.2" textLength="461.2" lengthAdjust="spacingAndGlyphs" fill="#000">100 m below surface</text>
<text x="154.6" y="1599.3" font-size="42" textLength="50.4" lengthAdjust="spacingAndGlyphs">(c)</text>
<text x="783.7" y="1598.3" font-size="42" textLength="54.8" lengthAdjust="spacingAndGlyphs">(d)</text>
<text x="1414.9" y="1598.4" font-size="42" textLength="52.5" lengthAdjust="spacingAndGlyphs">(e)</text>
<text x="154.0" y="2412.9" font-size="42" textLength="49" lengthAdjust="spacing">(f)</text>
<text x="784.8" y="2412.5" font-size="42" textLength="53.3" lengthAdjust="spacingAndGlyphs">(g)</text>
<text x="1416.6" y="2416.0" font-size="42" textLength="53.5" lengthAdjust="spacingAndGlyphs">(h)</text>
<text x="4.6" y="715.5" font-size="42" textLength="51.7" lengthAdjust="spacingAndGlyphs">(a)</text>
<text x="1059.8" y="716" font-size="42" textLength="53.5" lengthAdjust="spacingAndGlyphs">(b)</text>
<path d="M625.9 994.3 V936.7 H608.2 L629.7 899.5 L651.2 936.7 H633.6 V994.3Z" fill="#000"/>
<text x="639.8" y="993" font-size="66" textLength="45" lengthAdjust="spacingAndGlyphs">N</text>
</svg>
<div style="position:absolute;left:0;top:0;width:1034px;height:760px;clip-path:polygon(493.9px 54.1px,421.2px 185.5px,471.0px 247.0px,331.5px 482.8px,505.3px 521.4px,597.0px 333.0px,606.0px 315.0px,617.5px 297.0px,639.0px 280.0px,770.3px 136.2px,700.0px 122.0px,620.0px 99.0px,560.0px 79.0px)"><div style="position:absolute;left:0;top:0;width:560px;height:752px;transform-origin:0 0;transform:matrix3d(0.50534426,0.38955231,0,-0.0002367612,-0.75747049,0.19256381,0,-0.0002478994,0,0,1,0,580.9032,22.4272,0,1)"><svg width="560" height="752" viewBox="0 0 560 752"><use href="#mapc"/></svg></div></div>
<svg width="2067" height="2495" viewBox="0 0 2067 2495">
<filter id="roughB" filterUnits="userSpaceOnUse" x="1340" y="30" width="500" height="520"><feTurbulence type="fractalNoise" baseFrequency="0.11" numOctaves="2" seed="9" result="T"/><feDisplacementMap in="SourceGraphic" in2="T" scale="8" xChannelSelector="R" yChannelSelector="G"/></filter>
<filter id="rbmix" filterUnits="userSpaceOnUse" x="1340" y="30" width="500" height="520" color-interpolation-filters="sRGB"><feTurbulence type="fractalNoise" baseFrequency="0.11" numOctaves="2" seed="9" result="T1"/><feDisplacementMap in="SourceGraphic" in2="T1" scale="8" xChannelSelector="R" yChannelSelector="G" result="D"/><feGaussianBlur in="D" stdDeviation="2.2" result="F"/><feTurbulence type="fractalNoise" baseFrequency="0.04 0.085" numOctaves="2" seed="21" result="T2"/><feColorMatrix in="T2" type="matrix" values="1 0 0 0 0 1 0 0 0 0 1 0 0 0 0 0 0 0 0 1" result="N"/><feComposite in="F" in2="N" operator="arithmetic" k1="0" k2="1" k3="1.1" k4="-0.55" result="V"/><feComponentTransfer in="V" result="C"><feFuncR type="discrete" tableValues="0.24 0.84"/><feFuncG type="discrete" tableValues="0.43 0.12"/><feFuncB type="discrete" tableValues="0.77 0.16"/></feComponentTransfer><feComposite in="C" in2="D" operator="in"/></filter>
<path d="M16.1 246.0 L433.2 501.8 M433.2 501.8 L1005.0 180.8 M433.2 501.8 L436.9 701.3" fill="none" stroke="#1c1c1c" stroke-width="1.25"/>
<path d="M493.9 54.1 Q620.0 103.0 770.3 136.2" fill="none" stroke="#000" stroke-width="1.7" stroke-dasharray="5 0.8"/>
<path d="M493.9 54.1 L421.2 185.5" fill="none" stroke="#000" stroke-width="3.2" stroke-dasharray="none"/>
<path d="M421.2 185.5 L471.0 247.0 L331.5 482.8 L505.3 521.4 L597.0 333.0 L606.0 315.0 L617.5 297.0 L639.0 280.0 L770.3 136.2" fill="none" stroke="#000" stroke-width="4.4" stroke-linejoin="miter"/>
<g filter="url(#rbmix)">
<path d="M1526.2 63.8 C1536.7 62.2 1535.9 65.8 1550.3 68.6 C1564.8 71.4 1556.8 67.8 1569.7 72.2 C1582.5 76.7 1577.7 77.1 1589.0 81.9 C1600.2 86.7 1589.0 82.3 1603.4 86.7 C1617.9 91.1 1624.0 87.5 1632.4 95.2 C1640.9 102.8 1628.8 103.2 1628.8 109.7 C1628.8 116.1 1633.6 108.9 1632.4 114.5 C1631.2 120.1 1632.4 120.1 1625.2 126.6 C1617.9 133.0 1616.7 125.7 1610.7 133.8 C1604.7 141.8 1606.3 140.2 1607.1 150.7 C1607.9 161.1 1604.7 161.6 1613.1 165.2 C1621.6 168.8 1628.4 158.3 1632.4 161.6 C1636.4 164.8 1630.0 167.2 1625.2 174.8 C1620.3 182.5 1624.4 177.2 1617.9 184.5 C1611.5 191.7 1610.7 190.1 1605.9 196.6 C1601.0 203.0 1593.0 193.7 1603.4 203.8 C1613.9 213.9 1629.2 217.9 1637.2 226.7 C1645.3 235.6 1635.6 225.9 1627.6 230.3 C1619.5 234.8 1622.8 234.8 1613.1 240.0 C1603.4 245.2 1601.8 241.2 1598.6 246.0 C1595.4 250.9 1596.2 248.4 1603.4 254.5 C1610.7 260.5 1617.1 257.7 1620.3 264.1 C1623.6 270.6 1622.0 269.8 1613.1 273.8 C1604.3 277.8 1605.9 269.8 1593.8 276.2 C1581.7 282.6 1589.8 281.0 1576.9 293.1 C1564.0 305.2 1568.9 300.1 1555.2 312.4 C1541.5 324.7 1571.3 324.2 1535.9 330.0 C1500.5 335.9 1461.0 356.0 1449.0 330.0 C1436.9 304.0 1486.0 279.3 1499.7 252.1 C1513.3 224.9 1504.5 258.1 1490.0 248.4 C1475.5 238.8 1467.5 242.8 1456.2 223.1 C1444.9 203.4 1445.7 221.5 1456.2 189.3 C1466.7 157.1 1473.1 155.5 1487.6 126.6 C1502.1 97.6 1489.2 120.1 1499.7 102.4 C1510.1 84.7 1510.1 86.3 1519.0 73.4 C1527.8 60.6 1515.7 65.4 1526.2 63.8Z" fill="#a8a8a8"/>
<path d="M1589.0 81.9 C1604.3 79.5 1619.1 85.9 1632.4 95.2 C1645.7 104.4 1628.8 103.2 1628.8 109.7 C1628.8 116.1 1633.6 108.9 1632.4 114.5 C1631.2 120.1 1632.4 120.1 1625.2 126.6 C1617.9 133.0 1616.7 125.7 1610.7 133.8 C1604.7 141.8 1606.3 140.2 1607.1 150.7 C1607.9 161.1 1614.3 153.9 1613.1 165.2 C1611.9 176.4 1611.5 173.2 1603.4 184.5 C1595.4 195.7 1598.6 199.0 1589.0 199.0 C1579.3 199.0 1577.7 199.0 1574.5 184.5 C1571.3 170.0 1574.5 173.2 1579.3 155.5 C1584.1 137.8 1586.6 149.1 1589.0 131.4 C1591.4 113.7 1586.6 118.9 1586.6 102.4 C1586.6 85.9 1573.7 84.3 1589.0 81.9Z" fill="#d8d8d8"/>
<path d="M1521.4 78.3 C1527.8 74.7 1531.0 75.1 1545.5 75.9 C1560.0 76.7 1561.6 76.7 1564.8 80.7 C1568.0 84.7 1568.0 85.9 1555.2 87.9 C1542.3 89.9 1537.5 89.9 1526.2 86.7 C1514.9 83.5 1514.9 81.9 1521.4 78.3Z" fill="#2c2c2c"/>
<path d="M1492.4 131.4 C1500.5 120.1 1499.7 117.7 1502.1 121.7 C1504.5 125.7 1504.5 132.2 1499.7 143.4 C1494.8 154.7 1494.0 145.1 1487.6 155.5 C1481.1 166.0 1486.0 165.2 1480.3 174.8 C1474.7 184.5 1475.5 182.9 1470.7 184.5 C1465.9 186.1 1463.4 189.3 1465.9 179.7 C1468.3 170.0 1469.1 171.6 1477.9 155.5 C1486.8 139.4 1484.4 142.6 1492.4 131.4Z" fill="#2c2c2c"/>
<path d="M1506.9 112.1 C1504.5 106.4 1504.5 103.2 1511.7 95.2 C1519.0 87.1 1510.9 89.5 1528.6 87.9 C1546.3 86.3 1545.5 86.3 1564.8 90.3 C1584.1 94.4 1578.1 92.0 1586.6 100.0 C1595.0 108.0 1592.6 109.7 1590.2 114.5 C1587.8 119.3 1584.5 118.5 1579.3 114.5 C1574.1 110.5 1582.5 107.6 1574.5 102.4 C1566.4 97.2 1571.3 99.6 1555.2 98.8 C1539.1 98.0 1538.3 95.6 1526.2 100.0 C1514.1 104.4 1525.4 108.0 1519.0 112.1 C1512.5 116.1 1509.3 117.7 1506.9 112.1Z" fill="#2c2c2c"/>
<path d="M1523.8 71.0 C1526.6 69.2 1530.2 68.6 1533.4 69.8 C1536.7 71.0 1536.3 72.8 1533.4 74.7 C1530.6 76.5 1528.2 76.6 1525.0 75.4 C1521.8 74.2 1521.0 72.9 1523.8 71.0Z" fill="#2c2c2c"/>
<path d="M1550.3 72.2 C1554.0 71.4 1558.0 71.8 1561.2 73.4 C1564.4 75.1 1563.6 76.3 1560.0 77.1 C1556.4 77.9 1553.6 77.5 1550.3 75.9 C1547.1 74.3 1546.7 73.0 1550.3 72.2Z" fill="#2c2c2c"/>
<path d="M1499.7 124.1 C1506.9 119.7 1508.5 118.5 1523.8 119.3 C1539.1 120.1 1531.8 122.5 1545.5 126.6 C1559.2 130.6 1559.2 127.4 1564.8 131.4 C1570.5 135.4 1570.5 137.8 1562.4 138.6 C1554.4 139.4 1554.4 137.0 1540.7 133.8 C1527.0 130.6 1534.3 129.4 1521.4 129.0 C1508.5 128.6 1509.3 134.2 1502.1 132.6 C1494.8 131.0 1492.4 128.6 1499.7 124.1Z" fill="#2c2c2c"/>
<path d="M1490.0 143.4 C1497.2 139.4 1498.0 139.4 1511.7 141.0 C1525.4 142.6 1525.4 143.4 1531.0 148.3 C1536.7 153.1 1536.7 154.7 1528.6 155.5 C1520.6 156.3 1519.8 151.5 1506.9 150.7 C1494.0 149.9 1495.6 155.5 1490.0 153.1 C1484.4 150.7 1482.8 147.5 1490.0 143.4Z" fill="#2c2c2c"/>
<path d="M1547.9 150.7 C1552.8 141.8 1552.0 141.8 1560.0 143.4 C1568.0 145.1 1567.2 145.1 1572.1 155.5 C1576.9 166.0 1575.3 163.6 1574.5 174.8 C1573.7 186.1 1576.1 186.1 1569.7 189.3 C1563.2 192.5 1563.2 190.9 1555.2 184.5 C1547.1 178.0 1547.9 181.3 1545.5 170.0 C1543.1 158.7 1543.1 159.5 1547.9 150.7Z" fill="#2c2c2c"/>
<path d="M1473.1 170.0 C1478.7 165.2 1476.3 166.0 1492.4 165.2 C1508.5 164.4 1505.3 164.4 1521.4 167.6 C1537.5 170.8 1535.1 170.0 1540.7 174.8 C1546.3 179.7 1546.3 181.3 1538.3 182.1 C1530.2 182.9 1531.8 179.7 1516.6 177.2 C1501.3 174.8 1506.1 174.0 1492.4 174.8 C1478.7 175.6 1482.0 181.3 1475.5 179.7 C1469.1 178.0 1467.5 174.8 1473.1 170.0Z" fill="#2c2c2c"/>
<path d="M1468.3 189.3 C1472.3 185.3 1476.3 185.3 1492.4 184.5 C1508.5 183.7 1502.9 183.7 1516.6 186.9 C1530.2 190.1 1529.4 189.3 1533.4 194.1 C1537.5 199.0 1538.3 200.6 1528.6 201.4 C1519.0 202.2 1520.6 198.2 1504.5 196.6 C1488.4 194.9 1492.4 199.0 1480.3 196.6 C1468.3 194.1 1464.3 193.3 1468.3 189.3Z" fill="#2c2c2c"/>
<path d="M1502.1 199.0 C1508.9 198.2 1510.9 199.0 1521.4 203.8 C1531.8 208.6 1531.8 207.8 1533.4 213.4 C1535.1 219.1 1533.4 220.7 1526.2 220.7 C1519.0 220.7 1520.2 218.3 1511.7 213.4 C1503.3 208.6 1504.1 211.0 1500.9 206.2 C1497.6 201.4 1495.2 199.8 1502.1 199.0Z" fill="#2c2c2c"/>
<circle cx="1551.6" cy="206.2" r="11" fill="#2c2c2c"/>
<path d="M1463.4 206.2 C1469.1 205.4 1465.9 204.6 1477.9 213.4 C1490.0 222.3 1490.8 221.5 1499.7 232.8 C1508.5 244.0 1506.9 243.2 1504.5 247.2 C1502.1 251.3 1502.9 251.3 1492.4 244.8 C1482.0 238.4 1483.6 237.6 1473.1 227.9 C1462.6 218.3 1464.3 223.1 1461.0 215.9 C1457.8 208.6 1457.8 207.0 1463.4 206.2Z" fill="#2c2c2c"/>
<path d="M1504.5 223.1 C1510.9 219.9 1507.7 219.1 1521.4 223.1 C1535.1 227.1 1531.0 227.1 1545.5 235.2 C1560.0 243.2 1560.0 240.8 1564.8 247.2 C1569.7 253.7 1569.7 254.5 1560.0 254.5 C1550.3 254.5 1552.0 252.9 1535.9 247.2 C1519.8 241.6 1523.0 242.4 1511.7 237.6 C1500.5 232.8 1504.5 237.6 1502.1 232.8 C1499.7 227.9 1498.0 226.3 1504.5 223.1Z" fill="#2c2c2c"/>
<circle cx="1528.6" cy="258.1" r="9" fill="#2c2c2c"/>
<circle cx="1528.6" cy="215.9" r="6" fill="#2c2c2c"/>
<path d="M1499.7 269.0 C1504.5 261.7 1506.1 261.7 1521.4 261.7 C1536.7 261.7 1527.8 265.7 1545.5 269.0 C1563.2 272.2 1560.0 267.4 1574.5 271.4 C1589.0 275.4 1589.0 273.8 1589.0 281.0 C1589.0 288.3 1585.7 288.3 1574.5 293.1 C1563.2 297.9 1568.9 297.9 1555.2 295.5 C1541.5 293.1 1549.5 289.9 1533.4 285.9 C1517.4 281.8 1518.2 289.1 1506.9 283.4 C1495.6 277.8 1494.8 276.2 1499.7 269.0Z" fill="#2c2c2c"/>
<path d="M1492.4 295.5 C1503.7 282.4 1498.9 290.7 1516.6 290.7 C1534.3 290.7 1529.4 291.5 1545.5 295.5 C1561.6 299.5 1561.6 294.7 1564.8 302.8 C1568.0 310.8 1563.2 310.6 1555.2 319.7 C1547.1 328.7 1564.8 326.6 1540.7 330.0 C1516.6 333.5 1498.9 341.5 1482.8 330.0 C1466.7 318.5 1481.1 308.6 1492.4 295.5Z" fill="#2c2c2c"/>
<path d="M1475.5 302.8 C1482.0 295.5 1486.0 297.9 1499.7 297.9 C1513.3 297.9 1514.9 297.1 1516.6 302.8 C1518.2 308.4 1516.6 309.2 1504.5 314.8 C1492.4 320.5 1490.0 323.7 1480.3 319.7 C1470.7 315.6 1469.1 310.0 1475.5 302.8Z" fill="#d8d8d8"/>
<path d="M1521.4 271.4 C1527.0 268.2 1535.1 267.4 1540.7 269.0 C1546.3 270.6 1543.9 273.0 1538.3 276.2 C1532.6 279.4 1529.4 280.2 1523.8 278.6 C1518.2 277.0 1515.7 274.6 1521.4 271.4Z" fill="#d8d8d8"/>
<path d="M1642.1 102.4 C1647.7 100.8 1642.9 101.6 1661.4 104.8 C1679.9 108.0 1687.1 107.2 1697.6 112.1 C1708.0 116.9 1704.8 118.5 1692.8 119.3 C1680.7 120.1 1677.5 117.7 1661.4 114.5 C1645.3 111.3 1650.9 113.7 1644.5 109.7 C1638.0 105.6 1636.4 104.0 1642.1 102.4Z" fill="#2c2c2c"/>
<path d="M1622.8 133.8 C1630.0 131.8 1639.7 133.0 1646.9 136.2 C1654.1 139.4 1651.7 141.4 1644.5 143.4 C1637.2 145.5 1632.4 145.5 1625.2 142.2 C1617.9 139.0 1615.5 135.8 1622.8 133.8Z" fill="#2c2c2c"/>
<path d="M1702.4 124.1 C1705.6 120.5 1710.9 120.5 1713.3 125.3 C1715.7 130.2 1712.9 135.0 1709.7 138.6 C1706.4 142.2 1706.0 141.0 1703.6 136.2 C1701.2 131.4 1699.2 127.8 1702.4 124.1Z" fill="#d8d8d8"/>
<path d="M1712.1 126.6 C1714.9 122.1 1718.9 123.3 1721.7 129.0 C1724.5 134.6 1723.3 139.0 1720.5 143.4 C1717.7 147.9 1716.1 147.9 1713.3 142.2 C1710.5 136.6 1709.3 131.0 1712.1 126.6Z" fill="#2c2c2c"/>
<circle cx="1726.6" cy="178.4" r="13.3" fill="#2c2c2c"/>
<path d="M1739.8 174.8 C1745.5 174.0 1741.8 180.9 1738.6 186.9 C1735.4 192.9 1735.8 192.1 1730.2 192.9 C1724.5 193.7 1718.5 195.3 1721.7 189.3 C1724.9 183.3 1734.2 175.6 1739.8 174.8Z" fill="#d8d8d8"/>
<path d="M1646.9 118.1 C1650.5 118.5 1654.9 120.5 1657.8 122.9 C1660.6 125.3 1659.0 125.7 1655.3 125.3 C1651.7 124.9 1649.7 124.1 1646.9 121.7 C1644.1 119.3 1643.3 117.7 1646.9 118.1Z" fill="#d8d8d8"/>
<path d="M1673.4 124.1 C1676.3 123.7 1679.9 124.5 1681.9 126.6 C1683.9 128.6 1682.3 129.8 1679.5 130.2 C1676.7 130.6 1675.5 129.8 1673.4 127.8 C1671.4 125.7 1670.6 124.5 1673.4 124.1Z" fill="#d8d8d8"/>
<path d="M1638.4 243.6 C1642.9 242.3 1647.7 241.6 1651.7 242.4 C1655.7 243.2 1654.9 244.7 1650.5 246.0 C1646.1 247.4 1642.5 247.3 1638.4 246.5 C1634.4 245.7 1634.0 245.0 1638.4 243.6Z" fill="#2c2c2c"/>
<path d="M1617.9 196.6 C1621.1 196.1 1624.8 197.0 1627.6 199.0 C1630.4 201.0 1629.6 202.2 1626.4 202.6 C1623.2 203.0 1620.7 202.2 1617.9 200.2 C1615.1 198.2 1614.7 197.0 1617.9 196.6Z" fill="#2c2c2c"/>
<path d="M1617.9 203.8 C1620.7 204.2 1623.6 206.2 1625.2 208.6 C1626.8 211.0 1625.6 211.4 1622.8 211.0 C1619.9 210.6 1618.3 209.8 1616.7 207.4 C1615.1 205.0 1615.1 203.4 1617.9 203.8Z" fill="#d8d8d8"/>
<path d="M1645.7 227.9 C1649.7 226.6 1653.7 225.9 1657.8 226.7 C1661.8 227.5 1661.8 229.0 1657.8 230.3 C1653.7 231.7 1649.7 231.6 1645.7 230.8 C1641.7 230.0 1641.7 229.3 1645.7 227.9Z" fill="#d8d8d8"/>
<path d="M1644.5 221.9 C1646.5 221.1 1648.5 221.1 1650.5 221.9 C1652.5 222.7 1652.5 223.5 1650.5 224.3 C1648.5 225.1 1646.5 225.1 1644.5 224.3 C1642.5 223.5 1642.5 222.7 1644.5 221.9Z" fill="#2c2c2c"/>
<path d="M1605.9 278.6 C1608.7 277.8 1611.5 278.6 1613.1 281.0 C1614.7 283.4 1613.5 285.1 1610.7 285.9 C1607.9 286.7 1606.3 285.9 1604.7 283.4 C1603.0 281.0 1603.0 279.4 1605.9 278.6Z" fill="#d8d8d8"/>
<path d="M1589.0 281.0 C1592.2 280.2 1595.8 280.6 1598.6 282.2 C1601.4 283.9 1600.6 285.1 1597.4 285.9 C1594.2 286.7 1591.8 286.3 1589.0 284.7 C1586.1 283.0 1585.7 281.8 1589.0 281.0Z" fill="#2c2c2c"/>
<path d="M1576.9 283.4 C1580.1 283.0 1584.1 283.9 1586.6 285.9 C1589.0 287.9 1587.4 289.1 1584.1 289.5 C1580.9 289.9 1579.3 289.1 1576.9 287.1 C1574.5 285.1 1573.7 283.9 1576.9 283.4Z" fill="#d8d8d8"/>
<path d="M1613.1 153.1 C1617.1 152.5 1621.6 153.1 1625.2 154.3 C1628.8 155.5 1628.0 156.2 1624.0 156.7 C1619.9 157.3 1616.7 157.2 1613.1 156.0 C1609.5 154.8 1609.1 153.7 1613.1 153.1Z" fill="#2c2c2c"/>
<path d="M1484.5 280.0 C1512.6 273.6 1551.3 275.2 1583.4 280.0 C1615.6 284.8 1589.9 283.2 1581.0 294.5 C1572.2 305.7 1581.0 304.1 1556.9 313.8 C1532.8 323.4 1527.9 328.3 1508.6 323.4 C1489.3 318.6 1507.0 313.8 1499.0 299.3 C1490.9 284.8 1456.3 286.4 1484.5 280.0Z" fill="#2c2c2c"/>
<path d="M1472.4 304.1 C1484.5 292.9 1478.9 294.5 1494.1 289.7 C1509.4 284.8 1511.8 283.2 1518.3 289.7 C1524.7 296.1 1519.9 296.1 1513.4 309.0 C1507.0 321.8 1515.1 317.8 1499.0 328.3 C1482.9 338.7 1478.9 342.0 1465.2 340.3 C1451.5 338.7 1455.5 335.5 1457.9 323.4 C1460.3 311.4 1460.3 315.4 1472.4 304.1Z" fill="#d8d8d8"/>
<path d="M1465.2 335.5 C1466.8 329.1 1465.2 327.5 1479.7 328.3 C1494.1 329.1 1499.8 330.7 1508.6 337.9 C1517.5 345.2 1517.5 346.8 1506.2 350.0 C1494.9 353.2 1488.5 352.4 1474.8 347.6 C1461.1 342.8 1463.6 342.0 1465.2 335.5Z" fill="#2c2c2c"/>
<path d="M1455.5 359.7 C1458.7 350.8 1450.7 353.2 1465.2 350.0 C1479.7 346.8 1484.5 355.6 1499.0 350.0 C1513.4 344.4 1498.2 342.0 1508.6 333.1 C1519.1 324.3 1509.4 329.9 1530.3 323.4 C1551.3 317.0 1551.3 320.2 1571.4 313.8 C1591.5 307.4 1590.7 300.1 1590.7 304.1 C1590.7 308.2 1583.4 313.8 1571.4 325.9 C1559.3 337.9 1564.1 331.5 1554.5 340.3 C1544.8 349.2 1539.2 346.0 1542.4 352.4 C1545.6 358.9 1559.3 351.6 1564.1 359.7 C1569.0 367.7 1578.6 369.3 1556.9 376.6 C1535.2 383.8 1519.9 375.7 1499.0 381.4 C1478.0 387.0 1502.2 391.0 1494.1 393.4 C1486.1 395.9 1487.7 394.3 1474.8 388.6 C1462.0 383.0 1462.0 386.2 1455.5 376.6 C1449.1 366.9 1452.3 368.5 1455.5 359.7Z" fill="#d8d8d8"/>
<path d="M1431.4 359.7 C1441.8 346.8 1447.5 349.2 1455.5 354.8 C1463.6 360.5 1449.1 364.5 1455.5 376.6 C1462.0 388.6 1455.5 374.9 1474.8 391.0 C1494.1 407.1 1505.4 413.6 1513.4 424.8 C1521.5 436.1 1515.1 432.1 1499.0 424.8 C1482.9 417.6 1490.1 413.6 1465.2 403.1 C1440.2 392.6 1435.4 407.9 1424.1 393.4 C1412.9 379.0 1420.9 372.5 1431.4 359.7Z" fill="#2c2c2c"/>
<path d="M1513.4 381.4 C1531.2 374.9 1550.5 372.5 1561.7 376.6 C1573.0 380.6 1555.3 380.6 1547.2 393.4 C1539.2 406.3 1543.2 400.7 1537.6 415.2 C1532.0 429.7 1536.8 430.5 1530.3 436.9 C1523.9 443.3 1520.7 444.9 1518.3 434.5 C1515.9 424.0 1526.3 418.4 1523.1 405.5 C1519.9 392.6 1511.8 403.9 1508.6 395.9 C1505.4 387.8 1495.7 387.8 1513.4 381.4Z" fill="#2c2c2c"/>
<path d="M1535.2 403.1 C1541.2 400.7 1548.0 399.1 1552.1 400.7 C1556.1 402.3 1553.3 405.5 1547.2 407.9 C1541.2 410.3 1538.0 409.5 1534.0 407.9 C1529.9 406.3 1529.1 405.5 1535.2 403.1Z" fill="#d8d8d8"/>
<path d="M1385.5 453.8 C1390.3 440.9 1390.3 444.1 1402.4 424.8 C1414.5 405.5 1400.8 403.1 1421.7 395.9 C1442.6 388.6 1439.4 395.9 1465.2 403.1 C1490.9 410.3 1492.5 403.1 1499.0 417.6 C1505.4 432.1 1497.4 432.1 1484.5 446.6 C1471.6 461.0 1479.7 453.8 1460.3 461.0 C1441.0 468.3 1450.7 467.5 1426.6 468.3 C1402.4 469.1 1401.6 468.3 1387.9 463.4 C1374.3 458.6 1380.7 466.7 1385.5 453.8Z" fill="#d8d8d8"/>
<path d="M1400.0 470.7 C1401.6 465.1 1406.4 475.5 1431.4 470.7 C1456.3 465.9 1450.7 462.6 1474.8 456.2 C1499.0 449.8 1495.7 449.8 1503.8 451.4 C1511.8 453.0 1510.2 451.4 1499.0 461.0 C1487.7 470.7 1494.1 471.5 1470.0 480.3 C1445.9 489.2 1449.9 490.8 1426.6 487.6 C1403.2 484.4 1398.4 476.3 1400.0 470.7Z" fill="#2c2c2c"/>
<path d="M1486.9 434.5 C1489.3 431.3 1494.9 432.1 1503.8 436.9 C1512.6 441.7 1515.9 445.7 1513.4 449.0 C1511.0 452.2 1505.4 451.4 1496.6 446.6 C1487.7 441.7 1484.5 437.7 1486.9 434.5Z" fill="#2c2c2c"/>
<path d="M1465.2 465.9 C1470.4 462.6 1477.2 461.0 1482.1 463.4 C1486.9 465.9 1484.9 469.9 1479.7 473.1 C1474.4 476.3 1471.2 475.5 1466.4 473.1 C1461.6 470.7 1459.9 469.1 1465.2 465.9Z" fill="#d8d8d8"/>
<path d="M1368.6 480.3 C1383.9 478.3 1396.8 480.3 1412.1 485.2 C1427.4 490.0 1429.8 492.8 1414.5 494.8 C1399.2 496.8 1381.5 496.0 1366.2 491.2 C1350.9 486.4 1353.3 482.4 1368.6 480.3Z" fill="#d8d8d8"/>
<path d="M1629.3 304.1 C1638.2 294.5 1649.4 291.3 1653.4 301.7 C1657.5 312.2 1650.2 325.9 1641.4 335.5 C1632.5 345.2 1630.9 341.1 1626.9 330.7 C1622.9 320.2 1620.5 313.8 1629.3 304.1Z" fill="#2c2c2c"/>
<path d="M1630.5 302.9 C1635.3 299.1 1640.2 298.8 1643.8 301.2 C1647.4 303.7 1646.2 306.4 1641.4 310.2 C1636.6 314.0 1632.9 315.0 1629.3 312.6 C1625.7 310.2 1625.7 306.7 1630.5 302.9Z" fill="#d8d8d8"/>
<path d="M1578.6 284.8 C1580.4 284.0 1582.2 284.4 1583.4 286.0 C1584.7 287.6 1584.0 288.9 1582.2 289.7 C1580.5 290.5 1579.3 290.1 1578.1 288.4 C1576.9 286.8 1576.9 285.6 1578.6 284.8Z" fill="#d8d8d8"/>
<path d="M1590.7 294.5 C1592.9 294.1 1595.5 294.9 1596.7 296.9 C1597.9 298.9 1596.5 300.1 1594.3 300.5 C1592.1 300.9 1591.4 300.1 1590.2 298.1 C1589.0 296.1 1588.5 294.9 1590.7 294.5Z" fill="#d8d8d8"/>
<path d="M1561.7 350.0 C1567.0 348.8 1574.6 348.4 1578.6 350.0 C1582.6 351.6 1579.0 353.6 1573.8 354.8 C1568.6 356.0 1567.0 355.2 1562.9 353.6 C1558.9 352.0 1556.5 351.2 1561.7 350.0Z" fill="#2c2c2c"/>
<path d="M1540.0 424.8 C1542.2 424.3 1544.4 424.8 1546.0 426.0 C1547.6 427.2 1547.0 427.9 1544.8 428.4 C1542.7 429.0 1541.1 428.9 1539.5 427.7 C1537.9 426.5 1537.8 425.4 1540.0 424.8Z" fill="#d8d8d8"/>
</g>
<path d="M1527.4 54.7 Q1653.5 103.6 1803.8 136.8" fill="none" stroke="#000" stroke-width="1.7" stroke-dasharray="5 0.8"/>
<path d="M1527.4 54.7 L1454.7 186.1" fill="none" stroke="#000" stroke-width="3.2" stroke-dasharray="62 12 200"/>
<path d="M1454.7 186.1 L1504.5 247.6 L1365.0 483.4 L1538.8 522.0 L1630.5 333.6 L1639.5 315.6 L1651.0 297.6 L1672.5 280.6 L1803.8 136.8" fill="none" stroke="#000" stroke-width="4.4" stroke-linejoin="miter"/>
<g transform="translate(0.0 0.0)">
<text transform="translate(41.0 452.0) rotate(36.0) skewX(0)" font-size="13.5" fill="#2a2a2a" font-style="italic" textLength="50" lengthAdjust="spacingAndGlyphs">421740</text>
<text transform="translate(132.0 514.0) rotate(36.0) skewX(0)" font-size="13.5" fill="#2a2a2a" font-style="italic" textLength="52" lengthAdjust="spacingAndGlyphs">423000</text>
<text transform="translate(229.0 581.0) rotate(36.0) skewX(0)" font-size="13.5" fill="#2a2a2a" font-style="italic" textLength="54" lengthAdjust="spacingAndGlyphs">424000</text>
<text transform="translate(383.0 689.0) rotate(34.0) skewX(0)" font-size="15" fill="#2a2a2a" font-style="italic" textLength="60" lengthAdjust="spacingAndGlyphs">425700</text>
<text transform="translate(222.0 602.0) rotate(36.0) skewX(0)" font-size="12" fill="#2a2a2a" font-style="italic">X</text>
<text transform="translate(441.0 725.0) rotate(-34.0) skewX(0)" font-size="15" fill="#2a2a2a" font-style="italic" textLength="78" lengthAdjust="spacingAndGlyphs">7771480</text>
<text transform="translate(587.0 632.0) rotate(-34.0) skewX(0)" font-size="13.5" fill="#2a2a2a" font-style="italic" textLength="62" lengthAdjust="spacingAndGlyphs">7773000</text>
<text transform="translate(693.0 566.0) rotate(-35.0) skewX(0)" font-size="13.5" fill="#2a2a2a" font-style="italic" textLength="60" lengthAdjust="spacingAndGlyphs">7774000</text>
<text transform="translate(796.0 497.0) rotate(-36.0) skewX(0)" font-size="13.5" fill="#2a2a2a" font-style="italic" textLength="60" lengthAdjust="spacingAndGlyphs">7775000</text>
<text transform="translate(937.0 407.0) rotate(-37.0) skewX(0)" font-size="13.5" fill="#2a2a2a" font-style="italic" textLength="52" lengthAdjust="spacingAndGlyphs">7776800</text>
<text transform="translate(733.0 563.0) rotate(-35.0) skewX(0)" font-size="12" fill="#2a2a2a" font-style="italic">Y</text>
<text transform="translate(1016.5 227.0) rotate(-80.0) skewX(0)" font-size="13" fill="#2a2a2a" font-style="italic" textLength="53" lengthAdjust="spacingAndGlyphs">436.03</text>
<text transform="translate(1001.5 341.0) rotate(-80.0) skewX(0)" font-size="13" fill="#2a2a2a" font-style="italic" textLength="35" lengthAdjust="spacingAndGlyphs">-1000</text>
<text transform="translate(1026.5 256) rotate(-80)" font-size="12.5" font-weight="bold" fill="#222">Z</text>
<path d="M1005 181 l4.5 22 M982.5 356.5 l10 -26 M982.5 357 l-26 23 M38.5 428 l13 12 M437 701.5 l-22 -8 M437 701.5 l24 -8" stroke="#222" stroke-width="1" fill="none"/>
<path d="M152.5 508 l0.8 8 M250.5 575 l0.8 8 M614 593.5 v9 M722 525.5 v9 M821 462 v9" stroke="#222" stroke-width="1.1" fill="none"/>
</g>
<g transform="translate(1033.5 0.6)">
<text transform="translate(41.0 452.0) rotate(36.0) skewX(0)" font-size="13.5" fill="#2a2a2a" font-style="italic" textLength="50" lengthAdjust="spacingAndGlyphs">421740</text>
<text transform="translate(132.0 514.0) rotate(36.0) skewX(0)" font-size="13.5" fill="#2a2a2a" font-style="italic" textLength="52" lengthAdjust="spacingAndGlyphs">423000</text>
<text transform="translate(229.0 581.0) rotate(36.0) skewX(0)" font-size="13.5" fill="#2a2a2a" font-style="italic" textLength="54" lengthAdjust="spacingAndGlyphs">424000</text>
<text transform="translate(383.0 689.0) rotate(34.0) skewX(0)" font-size="15" fill="#2a2a2a" font-style="italic" textLength="60" lengthAdjust="spacingAndGlyphs">425700</text>
<text transform="translate(222.0 602.0) rotate(36.0) skewX(0)" font-size="12" fill="#2a2a2a" font-style="italic">X</text>
<text transform="translate(441.0 725.0) rotate(-34.0) skewX(0)" font-size="15" fill="#2a2a2a" font-style="italic" textLength="78" lengthAdjust="spacingAndGlyphs">7771480</text>
<text transform="translate(587.0 632.0) rotate(-34.0) skewX(0)" font-size="13.5" fill="#2a2a2a" font-style="italic" textLength="62" lengthAdjust="spacingAndGlyphs">7773000</text>
<text transform="translate(693.0 566.0) rotate(-35.0) skewX(0)" font-size="13.5" fill="#2a2a2a" font-style="italic" textLength="60" lengthAdjust="spacingAndGlyphs">7774000</text>
<text transform="translate(796.0 497.0) rotate(-36.0) skewX(0)" font-size="13.5" fill="#2a2a2a" font-style="italic" textLength="60" lengthAdjust="spacingAndGlyphs">7775000</text>
<text transform="translate(937.0 407.0) rotate(-37.0) skewX(0)" font-size="13.5" fill="#2a2a2a" font-style="italic" textLength="52" lengthAdjust="spacingAndGlyphs">7776800</text>
<text transform="translate(733.0 563.0) rotate(-35.0) skewX(0)" font-size="12" fill="#2a2a2a" font-style="italic">Y</text>
<text transform="translate(1016.5 227.0) rotate(-80.0) skewX(0)" font-size="13" fill="#2a2a2a" font-style="italic" textLength="53" lengthAdjust="spacingAndGlyphs">436.03</text>
<text transform="translate(1001.5 341.0) rotate(-80.0) skewX(0)" font-size="13" fill="#2a2a2a" font-style="italic" textLength="35" lengthAdjust="spacingAndGlyphs">-1000</text>
<text transform="translate(1026.5 256) rotate(-80)" font-size="12.5" font-weight="bold" fill="#222">Z</text>
<path d="M1005 181 l4.5 22 M982.5 356.5 l10 -26 M982.5 357 l-26 23 M38.5 428 l13 12 M437 701.5 l-22 -8 M437 701.5 l24 -8" stroke="#222" stroke-width="1" fill="none"/>
<path d="M152.5 508 l0.8 8 M250.5 575 l0.8 8 M614 593.5 v9 M722 525.5 v9 M821 462 v9" stroke="#222" stroke-width="1.1" fill="none"/>
</g>
<path d="M778.3 404.5 L831 375.5 L823.5 370.3 L851 367.2 L833.5 389.3 L834.1 380 L780.7 409Z" fill="#000"/>
<path d="M792.1 415.9 L820 397.1 L826.8 405.2 L815.2 431.7 L835.2 417.6 L840 423.8 L811.7 442.8 L806.2 435.5 L817.6 408.3 L796.9 422.4Z" fill="#000"/>
<rect x="616.00" y="644.5" width="11.56" height="43.1" fill="#3b50a3"/>
<rect x="627.16" y="644.5" width="11.56" height="43.1" fill="#3f5bab"/>
<rect x="638.32" y="644.5" width="11.56" height="43.1" fill="#3e74ba"/>
<rect x="649.48" y="644.5" width="11.56" height="43.1" fill="#3f9ad6"/>
<rect x="660.64" y="644.5" width="11.56" height="43.1" fill="#42c5ef"/>
<rect x="671.79" y="644.5" width="11.56" height="43.1" fill="#5cc6e6"/>
<rect x="682.95" y="644.5" width="11.56" height="43.1" fill="#6ccbdd"/>
<rect x="694.11" y="644.5" width="11.56" height="43.1" fill="#6ec6b0"/>
<rect x="705.27" y="644.5" width="11.56" height="43.1" fill="#6cc07c"/>
<rect x="716.43" y="644.5" width="11.56" height="43.1" fill="#6cbe47"/>
<rect x="727.59" y="644.5" width="11.56" height="43.1" fill="#6cbe47"/>
<rect x="738.75" y="644.5" width="11.56" height="43.1" fill="#6cbe47"/>
<rect x="749.91" y="644.5" width="11.56" height="43.1" fill="#6cbe47"/>
<rect x="761.07" y="644.5" width="11.56" height="43.1" fill="#70bf45"/>
<rect x="772.23" y="644.5" width="11.56" height="43.1" fill="#7dc243"/>
<rect x="783.38" y="644.5" width="11.56" height="43.1" fill="#86c441"/>
<rect x="794.54" y="644.5" width="11.56" height="43.1" fill="#9ccb3c"/>
<rect x="805.70" y="644.5" width="11.56" height="43.1" fill="#b5d334"/>
<rect x="816.86" y="644.5" width="11.56" height="43.1" fill="#d9e021"/>
<rect x="828.02" y="644.5" width="11.56" height="43.1" fill="#f0e91c"/>
<rect x="839.18" y="644.5" width="11.56" height="43.1" fill="#f7ea12"/>
<rect x="850.34" y="644.5" width="11.56" height="43.1" fill="#fcd60a"/>
<rect x="861.50" y="644.5" width="11.56" height="43.1" fill="#fdb813"/>
<rect x="872.66" y="644.5" width="11.56" height="43.1" fill="#fdb017"/>
<rect x="883.82" y="644.5" width="11.56" height="43.1" fill="#fbab19"/>
<rect x="894.97" y="644.5" width="11.56" height="43.1" fill="#f7931e"/>
<rect x="906.13" y="644.5" width="11.56" height="43.1" fill="#f68b1f"/>
<rect x="917.29" y="644.5" width="11.56" height="43.1" fill="#f58220"/>
<rect x="928.45" y="644.5" width="11.56" height="43.1" fill="#f37021"/>
<rect x="939.61" y="644.5" width="11.56" height="43.1" fill="#f15f23"/>
<rect x="950.77" y="644.5" width="11.56" height="43.1" fill="#ee3e23"/>
<rect x="961.93" y="644.5" width="11.56" height="43.1" fill="#ed2224"/>
<rect x="973.09" y="644.5" width="11.56" height="43.1" fill="#ec1f24"/>
<rect x="984.25" y="644.5" width="11.56" height="43.1" fill="#eb1f3e"/>
<rect x="995.41" y="644.5" width="11.56" height="43.1" fill="#ec1569"/>
<rect x="1006.56" y="644.5" width="11.56" height="43.1" fill="#e43d96"/>
<rect x="1017.72" y="644.5" width="11.56" height="43.1" fill="#c94b9b"/>
<rect x="1028.88" y="644.5" width="11.56" height="43.1" fill="#cf86bd"/>
<rect x="1040.04" y="644.5" width="11.56" height="43.1" fill="#e1aad0"/>
<rect x="616.0" y="644.5" width="435.2" height="43.1" fill="none" stroke="#000" stroke-width="1.8"/>
<path d="M626.9 644.5 V687.6" stroke="#000" stroke-width="1.3"/>
<text x="626.6" y="636" font-size="20" text-anchor="middle" textLength="58" lengthAdjust="spacingAndGlyphs">0.001</text>
<path d="M693.9 644.5 V687.6" stroke="#000" stroke-width="1.3"/>
<text x="693.6" y="636" font-size="20" text-anchor="middle" textLength="58" lengthAdjust="spacingAndGlyphs">0.009</text>
<path d="M760.9 644.5 V687.6" stroke="#000" stroke-width="1.3"/>
<text x="760.6" y="636" font-size="20" text-anchor="middle" textLength="58" lengthAdjust="spacingAndGlyphs">0.017</text>
<path d="M827.9 644.5 V687.6" stroke="#000" stroke-width="1.3"/>
<text x="827.6" y="636" font-size="20" text-anchor="middle" textLength="58" lengthAdjust="spacingAndGlyphs">0.024</text>
<path d="M894.9 644.5 V687.6" stroke="#000" stroke-width="1.3"/>
<text x="894.6" y="636" font-size="20" text-anchor="middle" textLength="58" lengthAdjust="spacingAndGlyphs">0.032</text>
<path d="M961.9 644.5 V687.6" stroke="#000" stroke-width="1.3"/>
<text x="961.6" y="636" font-size="20" text-anchor="middle" textLength="58" lengthAdjust="spacingAndGlyphs">0.040</text>
<path d="M1028.9 644.5 V687.6" stroke="#000" stroke-width="1.3"/>
<text x="1028.6" y="636" font-size="20" text-anchor="middle" textLength="58" lengthAdjust="spacingAndGlyphs">0.047</text>
<text x="897" y="606" font-size="27.5" textLength="130" lengthAdjust="spacingAndGlyphs">RMS = 1.0</text>
<text x="687" y="720" font-size="27" font-weight="bold" textLength="282.7" lengthAdjust="spacingAndGlyphs">Abs magnetization</text>
<text x="827.6" y="745.3" font-size="21.5" text-anchor="middle" textLength="35" lengthAdjust="spacingAndGlyphs">[SI]</text>
<rect x="1700" y="2300" width="114.8" height="112" fill="#fff"/>
<rect x="1466.60" y="2320.4" width="9.33" height="34.6" fill="#e1aad0"/>
<rect x="1475.53" y="2320.4" width="9.33" height="34.6" fill="#cf86bd"/>
<rect x="1484.46" y="2320.4" width="9.33" height="34.6" fill="#c94b9b"/>
<rect x="1493.38" y="2320.4" width="9.33" height="34.6" fill="#e43d96"/>
<rect x="1502.31" y="2320.4" width="9.33" height="34.6" fill="#ec1569"/>
<rect x="1511.24" y="2320.4" width="9.33" height="34.6" fill="#eb1f3e"/>
<rect x="1520.17" y="2320.4" width="9.33" height="34.6" fill="#ec1f24"/>
<rect x="1529.10" y="2320.4" width="9.33" height="34.6" fill="#ed2224"/>
<rect x="1538.03" y="2320.4" width="9.33" height="34.6" fill="#ee3e23"/>
<rect x="1546.95" y="2320.4" width="9.33" height="34.6" fill="#f15f23"/>
<rect x="1555.88" y="2320.4" width="9.33" height="34.6" fill="#f37021"/>
<rect x="1564.81" y="2320.4" width="9.33" height="34.6" fill="#f58220"/>
<rect x="1573.74" y="2320.4" width="9.33" height="34.6" fill="#f68b1f"/>
<rect x="1582.67" y="2320.4" width="9.33" height="34.6" fill="#f7931e"/>
<rect x="1591.59" y="2320.4" width="9.33" height="34.6" fill="#fbab19"/>
<rect x="1600.52" y="2320.4" width="9.33" height="34.6" fill="#fdb017"/>
<rect x="1609.45" y="2320.4" width="9.33" height="34.6" fill="#fdb813"/>
<rect x="1618.38" y="2320.4" width="9.33" height="34.6" fill="#fcd60a"/>
<rect x="1627.31" y="2320.4" width="9.33" height="34.6" fill="#f7ea12"/>
<rect x="1636.24" y="2320.4" width="9.33" height="34.6" fill="#f0e91c"/>
<rect x="1645.16" y="2320.4" width="9.33" height="34.6" fill="#d9e021"/>
<rect x="1654.09" y="2320.4" width="9.33" height="34.6" fill="#b5d334"/>
<rect x="1663.02" y="2320.4" width="9.33" height="34.6" fill="#9ccb3c"/>
<rect x="1671.95" y="2320.4" width="9.33" height="34.6" fill="#86c441"/>
<rect x="1680.88" y="2320.4" width="9.33" height="34.6" fill="#7dc243"/>
<rect x="1689.81" y="2320.4" width="9.33" height="34.6" fill="#70bf45"/>
<rect x="1698.73" y="2320.4" width="9.33" height="34.6" fill="#6cbe47"/>
<rect x="1707.66" y="2320.4" width="9.33" height="34.6" fill="#6cbe47"/>
<rect x="1716.59" y="2320.4" width="9.33" height="34.6" fill="#6cbe47"/>
<rect x="1725.52" y="2320.4" width="9.33" height="34.6" fill="#6cbe47"/>
<rect x="1734.45" y="2320.4" width="9.33" height="34.6" fill="#6cc07c"/>
<rect x="1743.37" y="2320.4" width="9.33" height="34.6" fill="#6ec6b0"/>
<rect x="1752.30" y="2320.4" width="9.33" height="34.6" fill="#6ccbdd"/>
<rect x="1761.23" y="2320.4" width="9.33" height="34.6" fill="#5cc6e6"/>
<rect x="1770.16" y="2320.4" width="9.33" height="34.6" fill="#42c5ef"/>
<rect x="1779.09" y="2320.4" width="9.33" height="34.6" fill="#3f9ad6"/>
<rect x="1788.02" y="2320.4" width="9.33" height="34.6" fill="#3e74ba"/>
<rect x="1796.94" y="2320.4" width="9.33" height="34.6" fill="#3f5bab"/>
<rect x="1805.87" y="2320.4" width="9.33" height="34.6" fill="#3b50a3"/>
<rect x="1466.6" y="2320.4" width="348.2" height="34.6" fill="none" stroke="#000" stroke-width="1.5"/>
<path d="M1475.5 2320.4 V2355.0" stroke="#000" stroke-width="1.2"/>
<text x="1473.5" y="2314.3" font-size="18" text-anchor="middle" textLength="55" lengthAdjust="spacingAndGlyphs">-0.047</text>
<path d="M1538.0 2320.4 V2355.0" stroke="#000" stroke-width="1.2"/>
<text x="1536.0" y="2314.3" font-size="18" text-anchor="middle" textLength="55" lengthAdjust="spacingAndGlyphs">-0.029</text>
<path d="M1600.5 2320.4 V2355.0" stroke="#000" stroke-width="1.2"/>
<text x="1598.5" y="2314.3" font-size="18" text-anchor="middle" textLength="55" lengthAdjust="spacingAndGlyphs">-0.012</text>
<path d="M1663.0 2320.4 V2355.0" stroke="#000" stroke-width="1.2"/>
<text x="1663.0" y="2314.3" font-size="18" text-anchor="middle" textLength="48" lengthAdjust="spacingAndGlyphs">0.006</text>
<path d="M1716.6 2320.4 V2355.0" stroke="#000" stroke-width="1.2"/>
<text x="1716.6" y="2314.3" font-size="18" text-anchor="middle" textLength="48" lengthAdjust="spacingAndGlyphs">0.022</text>
<path d="M1770.2 2320.4 V2355.0" stroke="#000" stroke-width="1.2"/>
<text x="1770.2" y="2314.3" font-size="18" text-anchor="middle" textLength="48" lengthAdjust="spacingAndGlyphs">0.037</text>
<text x="1481.8" y="2380.4" font-size="21" font-weight="bold" textLength="298" lengthAdjust="spacingAndGlyphs">z-comp of magnetization</text>
<text x="1629.8" y="2402.3" font-size="17.5" text-anchor="middle" textLength="28.5" lengthAdjust="spacingAndGlyphs">[SI]</text>
</svg>
</body></html>
